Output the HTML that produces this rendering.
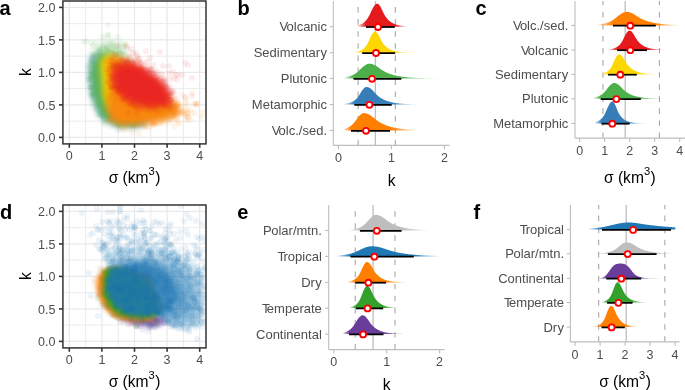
<!DOCTYPE html>
<html><head><meta charset="utf-8"><style>
html,body{margin:0;padding:0;background:#fff;width:685px;height:390px;overflow:hidden}
svg{display:block}
text{font-family:"Liberation Sans",sans-serif}
</style></head><body>
<div style="will-change:transform;width:685px;height:390px"><svg width="685" height="390" viewBox="0 0 685 390" font-family="Liberation Sans, sans-serif">
<defs><clipPath id="clip0"><rect x="62.9" y="1.0" width="143.1" height="142.9"/></clipPath><filter id="bl1" x="-30%" y="-30%" width="160%" height="160%"><feGaussianBlur stdDeviation="3"/></filter><filter id="bl2" x="-30%" y="-30%" width="160%" height="160%"><feGaussianBlur stdDeviation="4.5"/></filter><filter id="bl3" x="-30%" y="-30%" width="160%" height="160%"><feGaussianBlur stdDeviation="3"/></filter><filter id="bl4" x="-30%" y="-30%" width="160%" height="160%"><feGaussianBlur stdDeviation="3"/></filter><filter id="bl5" x="-30%" y="-30%" width="160%" height="160%"><feGaussianBlur stdDeviation="3"/></filter><filter id="bl6" x="-30%" y="-30%" width="160%" height="160%"><feGaussianBlur stdDeviation="3"/></filter><clipPath id="clip204"><rect x="62.9" y="205.0" width="143.1" height="142.89999999999998"/></clipPath><filter id="bl8" x="-30%" y="-30%" width="160%" height="160%"><feGaussianBlur stdDeviation="3"/></filter><filter id="bl9" x="-30%" y="-30%" width="160%" height="160%"><feGaussianBlur stdDeviation="2.5"/></filter><filter id="bl10" x="-30%" y="-30%" width="160%" height="160%"><feGaussianBlur stdDeviation="2.0"/></filter><filter id="bl11" x="-30%" y="-30%" width="160%" height="160%"><feGaussianBlur stdDeviation="2.5"/></filter><filter id="bl12" x="-30%" y="-30%" width="160%" height="160%"><feGaussianBlur stdDeviation="1.5"/></filter><linearGradient id="g13" gradientUnits="userSpaceOnUse" x1="353.40" y1="0" x2="411.00" y2="0"><stop offset="0.0000" stop-color="#e41a1c" stop-opacity="0.000"/><stop offset="0.0167" stop-color="#e41a1c" stop-opacity="0.000"/><stop offset="0.0335" stop-color="#e41a1c" stop-opacity="0.000"/><stop offset="0.0502" stop-color="#e41a1c" stop-opacity="0.000"/><stop offset="0.0669" stop-color="#e41a1c" stop-opacity="0.000"/><stop offset="0.0837" stop-color="#e41a1c" stop-opacity="0.153"/><stop offset="0.1004" stop-color="#e41a1c" stop-opacity="0.284"/><stop offset="0.1172" stop-color="#e41a1c" stop-opacity="0.401"/><stop offset="0.1339" stop-color="#e41a1c" stop-opacity="0.511"/><stop offset="0.1506" stop-color="#e41a1c" stop-opacity="0.614"/><stop offset="0.1674" stop-color="#e41a1c" stop-opacity="0.714"/><stop offset="0.1841" stop-color="#e41a1c" stop-opacity="0.810"/><stop offset="0.2008" stop-color="#e41a1c" stop-opacity="0.903"/><stop offset="0.2176" stop-color="#e41a1c" stop-opacity="0.994"/><stop offset="0.2343" stop-color="#e41a1c" stop-opacity="1.000"/><stop offset="0.2510" stop-color="#e41a1c" stop-opacity="1.000"/><stop offset="0.2678" stop-color="#e41a1c" stop-opacity="1.000"/><stop offset="0.2845" stop-color="#e41a1c" stop-opacity="1.000"/><stop offset="0.3013" stop-color="#e41a1c" stop-opacity="1.000"/><stop offset="0.3180" stop-color="#e41a1c" stop-opacity="1.000"/><stop offset="0.3389" stop-color="#e41a1c" stop-opacity="1.000"/><stop offset="0.3556" stop-color="#e41a1c" stop-opacity="1.000"/><stop offset="0.3724" stop-color="#e41a1c" stop-opacity="1.000"/><stop offset="0.3891" stop-color="#e41a1c" stop-opacity="1.000"/><stop offset="0.4059" stop-color="#e41a1c" stop-opacity="1.000"/><stop offset="0.4226" stop-color="#e41a1c" stop-opacity="1.000"/><stop offset="0.4393" stop-color="#e41a1c" stop-opacity="1.000"/><stop offset="0.4561" stop-color="#e41a1c" stop-opacity="1.000"/><stop offset="0.4728" stop-color="#e41a1c" stop-opacity="1.000"/><stop offset="0.4895" stop-color="#e41a1c" stop-opacity="1.000"/><stop offset="0.5063" stop-color="#e41a1c" stop-opacity="1.000"/><stop offset="0.5230" stop-color="#e41a1c" stop-opacity="1.000"/><stop offset="0.5397" stop-color="#e41a1c" stop-opacity="1.000"/><stop offset="0.5565" stop-color="#e41a1c" stop-opacity="1.000"/><stop offset="0.5732" stop-color="#e41a1c" stop-opacity="1.000"/><stop offset="0.5900" stop-color="#e41a1c" stop-opacity="1.000"/><stop offset="0.6067" stop-color="#e41a1c" stop-opacity="1.000"/><stop offset="0.6234" stop-color="#e41a1c" stop-opacity="1.000"/><stop offset="0.6402" stop-color="#e41a1c" stop-opacity="1.000"/><stop offset="0.6569" stop-color="#e41a1c" stop-opacity="1.000"/><stop offset="0.6778" stop-color="#e41a1c" stop-opacity="1.000"/><stop offset="0.6946" stop-color="#e41a1c" stop-opacity="1.000"/><stop offset="0.7113" stop-color="#e41a1c" stop-opacity="1.000"/><stop offset="0.7280" stop-color="#e41a1c" stop-opacity="0.965"/><stop offset="0.7448" stop-color="#e41a1c" stop-opacity="0.900"/><stop offset="0.7615" stop-color="#e41a1c" stop-opacity="0.835"/><stop offset="0.7782" stop-color="#e41a1c" stop-opacity="0.768"/><stop offset="0.7950" stop-color="#e41a1c" stop-opacity="0.700"/><stop offset="0.8117" stop-color="#e41a1c" stop-opacity="0.630"/><stop offset="0.8285" stop-color="#e41a1c" stop-opacity="0.558"/><stop offset="0.8452" stop-color="#e41a1c" stop-opacity="0.483"/><stop offset="0.8619" stop-color="#e41a1c" stop-opacity="0.406"/><stop offset="0.8787" stop-color="#e41a1c" stop-opacity="0.325"/><stop offset="0.8954" stop-color="#e41a1c" stop-opacity="0.238"/><stop offset="0.9121" stop-color="#e41a1c" stop-opacity="0.142"/><stop offset="0.9289" stop-color="#e41a1c" stop-opacity="0.021"/><stop offset="0.9456" stop-color="#e41a1c" stop-opacity="0.000"/><stop offset="0.9623" stop-color="#e41a1c" stop-opacity="0.000"/><stop offset="0.9791" stop-color="#e41a1c" stop-opacity="0.000"/><stop offset="1.0000" stop-color="#e41a1c" stop-opacity="0.000"/></linearGradient><linearGradient id="g14" gradientUnits="userSpaceOnUse" x1="349.90" y1="0" x2="425.70" y2="0"><stop offset="0.0000" stop-color="#ffd700" stop-opacity="0.000"/><stop offset="0.0167" stop-color="#ffd700" stop-opacity="0.000"/><stop offset="0.0335" stop-color="#ffd700" stop-opacity="0.000"/><stop offset="0.0502" stop-color="#ffd700" stop-opacity="0.000"/><stop offset="0.0669" stop-color="#ffd700" stop-opacity="0.195"/><stop offset="0.0837" stop-color="#ffd700" stop-opacity="0.364"/><stop offset="0.1004" stop-color="#ffd700" stop-opacity="0.514"/><stop offset="0.1172" stop-color="#ffd700" stop-opacity="0.654"/><stop offset="0.1339" stop-color="#ffd700" stop-opacity="0.787"/><stop offset="0.1506" stop-color="#ffd700" stop-opacity="0.914"/><stop offset="0.1674" stop-color="#ffd700" stop-opacity="1.000"/><stop offset="0.1841" stop-color="#ffd700" stop-opacity="1.000"/><stop offset="0.2008" stop-color="#ffd700" stop-opacity="1.000"/><stop offset="0.2176" stop-color="#ffd700" stop-opacity="1.000"/><stop offset="0.2343" stop-color="#ffd700" stop-opacity="1.000"/><stop offset="0.2510" stop-color="#ffd700" stop-opacity="1.000"/><stop offset="0.2678" stop-color="#ffd700" stop-opacity="1.000"/><stop offset="0.2845" stop-color="#ffd700" stop-opacity="1.000"/><stop offset="0.3013" stop-color="#ffd700" stop-opacity="1.000"/><stop offset="0.3180" stop-color="#ffd700" stop-opacity="1.000"/><stop offset="0.3389" stop-color="#ffd700" stop-opacity="1.000"/><stop offset="0.3556" stop-color="#ffd700" stop-opacity="1.000"/><stop offset="0.3724" stop-color="#ffd700" stop-opacity="1.000"/><stop offset="0.3891" stop-color="#ffd700" stop-opacity="1.000"/><stop offset="0.4059" stop-color="#ffd700" stop-opacity="1.000"/><stop offset="0.4226" stop-color="#ffd700" stop-opacity="1.000"/><stop offset="0.4393" stop-color="#ffd700" stop-opacity="1.000"/><stop offset="0.4561" stop-color="#ffd700" stop-opacity="1.000"/><stop offset="0.4728" stop-color="#ffd700" stop-opacity="1.000"/><stop offset="0.4895" stop-color="#ffd700" stop-opacity="1.000"/><stop offset="0.5063" stop-color="#ffd700" stop-opacity="1.000"/><stop offset="0.5230" stop-color="#ffd700" stop-opacity="1.000"/><stop offset="0.5397" stop-color="#ffd700" stop-opacity="1.000"/><stop offset="0.5565" stop-color="#ffd700" stop-opacity="1.000"/><stop offset="0.5732" stop-color="#ffd700" stop-opacity="1.000"/><stop offset="0.5900" stop-color="#ffd700" stop-opacity="1.000"/><stop offset="0.6067" stop-color="#ffd700" stop-opacity="0.979"/><stop offset="0.6234" stop-color="#ffd700" stop-opacity="0.940"/><stop offset="0.6402" stop-color="#ffd700" stop-opacity="0.901"/><stop offset="0.6569" stop-color="#ffd700" stop-opacity="0.862"/><stop offset="0.6778" stop-color="#ffd700" stop-opacity="0.812"/><stop offset="0.6946" stop-color="#ffd700" stop-opacity="0.771"/><stop offset="0.7113" stop-color="#ffd700" stop-opacity="0.730"/><stop offset="0.7280" stop-color="#ffd700" stop-opacity="0.688"/><stop offset="0.7448" stop-color="#ffd700" stop-opacity="0.646"/><stop offset="0.7615" stop-color="#ffd700" stop-opacity="0.603"/><stop offset="0.7782" stop-color="#ffd700" stop-opacity="0.559"/><stop offset="0.7950" stop-color="#ffd700" stop-opacity="0.514"/><stop offset="0.8117" stop-color="#ffd700" stop-opacity="0.469"/><stop offset="0.8285" stop-color="#ffd700" stop-opacity="0.422"/><stop offset="0.8452" stop-color="#ffd700" stop-opacity="0.373"/><stop offset="0.8619" stop-color="#ffd700" stop-opacity="0.324"/><stop offset="0.8787" stop-color="#ffd700" stop-opacity="0.272"/><stop offset="0.8954" stop-color="#ffd700" stop-opacity="0.217"/><stop offset="0.9121" stop-color="#ffd700" stop-opacity="0.159"/><stop offset="0.9289" stop-color="#ffd700" stop-opacity="0.095"/><stop offset="0.9456" stop-color="#ffd700" stop-opacity="0.014"/><stop offset="0.9623" stop-color="#ffd700" stop-opacity="0.000"/><stop offset="0.9791" stop-color="#ffd700" stop-opacity="0.000"/><stop offset="1.0000" stop-color="#ffd700" stop-opacity="0.000"/></linearGradient><linearGradient id="g15" gradientUnits="userSpaceOnUse" x1="340.20" y1="0" x2="443.00" y2="0"><stop offset="0.0000" stop-color="#4daf4a" stop-opacity="0.000"/><stop offset="0.0167" stop-color="#4daf4a" stop-opacity="0.000"/><stop offset="0.0335" stop-color="#4daf4a" stop-opacity="0.000"/><stop offset="0.0502" stop-color="#4daf4a" stop-opacity="0.189"/><stop offset="0.0669" stop-color="#4daf4a" stop-opacity="0.392"/><stop offset="0.0837" stop-color="#4daf4a" stop-opacity="0.570"/><stop offset="0.1004" stop-color="#4daf4a" stop-opacity="0.734"/><stop offset="0.1172" stop-color="#4daf4a" stop-opacity="0.890"/><stop offset="0.1339" stop-color="#4daf4a" stop-opacity="1.000"/><stop offset="0.1506" stop-color="#4daf4a" stop-opacity="1.000"/><stop offset="0.1674" stop-color="#4daf4a" stop-opacity="1.000"/><stop offset="0.1841" stop-color="#4daf4a" stop-opacity="1.000"/><stop offset="0.2008" stop-color="#4daf4a" stop-opacity="1.000"/><stop offset="0.2176" stop-color="#4daf4a" stop-opacity="1.000"/><stop offset="0.2343" stop-color="#4daf4a" stop-opacity="1.000"/><stop offset="0.2510" stop-color="#4daf4a" stop-opacity="1.000"/><stop offset="0.2678" stop-color="#4daf4a" stop-opacity="1.000"/><stop offset="0.2845" stop-color="#4daf4a" stop-opacity="1.000"/><stop offset="0.3013" stop-color="#4daf4a" stop-opacity="1.000"/><stop offset="0.3180" stop-color="#4daf4a" stop-opacity="1.000"/><stop offset="0.3389" stop-color="#4daf4a" stop-opacity="1.000"/><stop offset="0.3556" stop-color="#4daf4a" stop-opacity="1.000"/><stop offset="0.3724" stop-color="#4daf4a" stop-opacity="1.000"/><stop offset="0.3891" stop-color="#4daf4a" stop-opacity="1.000"/><stop offset="0.4059" stop-color="#4daf4a" stop-opacity="1.000"/><stop offset="0.4226" stop-color="#4daf4a" stop-opacity="1.000"/><stop offset="0.4393" stop-color="#4daf4a" stop-opacity="1.000"/><stop offset="0.4561" stop-color="#4daf4a" stop-opacity="1.000"/><stop offset="0.4728" stop-color="#4daf4a" stop-opacity="1.000"/><stop offset="0.4895" stop-color="#4daf4a" stop-opacity="1.000"/><stop offset="0.5063" stop-color="#4daf4a" stop-opacity="1.000"/><stop offset="0.5230" stop-color="#4daf4a" stop-opacity="1.000"/><stop offset="0.5397" stop-color="#4daf4a" stop-opacity="1.000"/><stop offset="0.5565" stop-color="#4daf4a" stop-opacity="1.000"/><stop offset="0.5732" stop-color="#4daf4a" stop-opacity="1.000"/><stop offset="0.5900" stop-color="#4daf4a" stop-opacity="1.000"/><stop offset="0.6067" stop-color="#4daf4a" stop-opacity="0.973"/><stop offset="0.6234" stop-color="#4daf4a" stop-opacity="0.936"/><stop offset="0.6402" stop-color="#4daf4a" stop-opacity="0.899"/><stop offset="0.6569" stop-color="#4daf4a" stop-opacity="0.861"/><stop offset="0.6778" stop-color="#4daf4a" stop-opacity="0.813"/><stop offset="0.6946" stop-color="#4daf4a" stop-opacity="0.775"/><stop offset="0.7113" stop-color="#4daf4a" stop-opacity="0.736"/><stop offset="0.7280" stop-color="#4daf4a" stop-opacity="0.696"/><stop offset="0.7448" stop-color="#4daf4a" stop-opacity="0.656"/><stop offset="0.7615" stop-color="#4daf4a" stop-opacity="0.615"/><stop offset="0.7782" stop-color="#4daf4a" stop-opacity="0.573"/><stop offset="0.7950" stop-color="#4daf4a" stop-opacity="0.531"/><stop offset="0.8117" stop-color="#4daf4a" stop-opacity="0.487"/><stop offset="0.8285" stop-color="#4daf4a" stop-opacity="0.443"/><stop offset="0.8452" stop-color="#4daf4a" stop-opacity="0.398"/><stop offset="0.8619" stop-color="#4daf4a" stop-opacity="0.351"/><stop offset="0.8787" stop-color="#4daf4a" stop-opacity="0.303"/><stop offset="0.8954" stop-color="#4daf4a" stop-opacity="0.253"/><stop offset="0.9121" stop-color="#4daf4a" stop-opacity="0.200"/><stop offset="0.9289" stop-color="#4daf4a" stop-opacity="0.143"/><stop offset="0.9456" stop-color="#4daf4a" stop-opacity="0.080"/><stop offset="0.9623" stop-color="#4daf4a" stop-opacity="0.000"/><stop offset="0.9791" stop-color="#4daf4a" stop-opacity="0.000"/><stop offset="1.0000" stop-color="#4daf4a" stop-opacity="0.000"/></linearGradient><linearGradient id="g16" gradientUnits="userSpaceOnUse" x1="339.40" y1="0" x2="422.90" y2="0"><stop offset="0.0000" stop-color="#377eb8" stop-opacity="0.000"/><stop offset="0.0167" stop-color="#377eb8" stop-opacity="0.000"/><stop offset="0.0335" stop-color="#377eb8" stop-opacity="0.000"/><stop offset="0.0502" stop-color="#377eb8" stop-opacity="0.040"/><stop offset="0.0669" stop-color="#377eb8" stop-opacity="0.214"/><stop offset="0.0837" stop-color="#377eb8" stop-opacity="0.355"/><stop offset="0.1004" stop-color="#377eb8" stop-opacity="0.483"/><stop offset="0.1172" stop-color="#377eb8" stop-opacity="0.602"/><stop offset="0.1339" stop-color="#377eb8" stop-opacity="0.716"/><stop offset="0.1506" stop-color="#377eb8" stop-opacity="0.826"/><stop offset="0.1674" stop-color="#377eb8" stop-opacity="0.932"/><stop offset="0.1841" stop-color="#377eb8" stop-opacity="1.000"/><stop offset="0.2008" stop-color="#377eb8" stop-opacity="1.000"/><stop offset="0.2176" stop-color="#377eb8" stop-opacity="1.000"/><stop offset="0.2343" stop-color="#377eb8" stop-opacity="1.000"/><stop offset="0.2510" stop-color="#377eb8" stop-opacity="1.000"/><stop offset="0.2678" stop-color="#377eb8" stop-opacity="1.000"/><stop offset="0.2845" stop-color="#377eb8" stop-opacity="1.000"/><stop offset="0.3013" stop-color="#377eb8" stop-opacity="1.000"/><stop offset="0.3180" stop-color="#377eb8" stop-opacity="1.000"/><stop offset="0.3389" stop-color="#377eb8" stop-opacity="1.000"/><stop offset="0.3556" stop-color="#377eb8" stop-opacity="1.000"/><stop offset="0.3724" stop-color="#377eb8" stop-opacity="1.000"/><stop offset="0.3891" stop-color="#377eb8" stop-opacity="1.000"/><stop offset="0.4059" stop-color="#377eb8" stop-opacity="1.000"/><stop offset="0.4226" stop-color="#377eb8" stop-opacity="1.000"/><stop offset="0.4393" stop-color="#377eb8" stop-opacity="1.000"/><stop offset="0.4561" stop-color="#377eb8" stop-opacity="1.000"/><stop offset="0.4728" stop-color="#377eb8" stop-opacity="1.000"/><stop offset="0.4895" stop-color="#377eb8" stop-opacity="1.000"/><stop offset="0.5063" stop-color="#377eb8" stop-opacity="1.000"/><stop offset="0.5230" stop-color="#377eb8" stop-opacity="1.000"/><stop offset="0.5397" stop-color="#377eb8" stop-opacity="1.000"/><stop offset="0.5565" stop-color="#377eb8" stop-opacity="1.000"/><stop offset="0.5732" stop-color="#377eb8" stop-opacity="1.000"/><stop offset="0.5900" stop-color="#377eb8" stop-opacity="1.000"/><stop offset="0.6067" stop-color="#377eb8" stop-opacity="1.000"/><stop offset="0.6234" stop-color="#377eb8" stop-opacity="1.000"/><stop offset="0.6402" stop-color="#377eb8" stop-opacity="0.966"/><stop offset="0.6569" stop-color="#377eb8" stop-opacity="0.924"/><stop offset="0.6778" stop-color="#377eb8" stop-opacity="0.871"/><stop offset="0.6946" stop-color="#377eb8" stop-opacity="0.829"/><stop offset="0.7113" stop-color="#377eb8" stop-opacity="0.785"/><stop offset="0.7280" stop-color="#377eb8" stop-opacity="0.741"/><stop offset="0.7448" stop-color="#377eb8" stop-opacity="0.697"/><stop offset="0.7615" stop-color="#377eb8" stop-opacity="0.651"/><stop offset="0.7782" stop-color="#377eb8" stop-opacity="0.605"/><stop offset="0.7950" stop-color="#377eb8" stop-opacity="0.558"/><stop offset="0.8117" stop-color="#377eb8" stop-opacity="0.510"/><stop offset="0.8285" stop-color="#377eb8" stop-opacity="0.461"/><stop offset="0.8452" stop-color="#377eb8" stop-opacity="0.410"/><stop offset="0.8619" stop-color="#377eb8" stop-opacity="0.358"/><stop offset="0.8787" stop-color="#377eb8" stop-opacity="0.304"/><stop offset="0.8954" stop-color="#377eb8" stop-opacity="0.247"/><stop offset="0.9121" stop-color="#377eb8" stop-opacity="0.187"/><stop offset="0.9289" stop-color="#377eb8" stop-opacity="0.121"/><stop offset="0.9456" stop-color="#377eb8" stop-opacity="0.044"/><stop offset="0.9623" stop-color="#377eb8" stop-opacity="0.000"/><stop offset="0.9791" stop-color="#377eb8" stop-opacity="0.000"/><stop offset="1.0000" stop-color="#377eb8" stop-opacity="0.000"/></linearGradient><linearGradient id="g17" gradientUnits="userSpaceOnUse" x1="339.40" y1="0" x2="421.30" y2="0"><stop offset="0.0000" stop-color="#ff7f00" stop-opacity="0.000"/><stop offset="0.0167" stop-color="#ff7f00" stop-opacity="0.000"/><stop offset="0.0335" stop-color="#ff7f00" stop-opacity="0.000"/><stop offset="0.0502" stop-color="#ff7f00" stop-opacity="0.034"/><stop offset="0.0669" stop-color="#ff7f00" stop-opacity="0.271"/><stop offset="0.0837" stop-color="#ff7f00" stop-opacity="0.457"/><stop offset="0.1004" stop-color="#ff7f00" stop-opacity="0.625"/><stop offset="0.1172" stop-color="#ff7f00" stop-opacity="0.783"/><stop offset="0.1339" stop-color="#ff7f00" stop-opacity="0.933"/><stop offset="0.1506" stop-color="#ff7f00" stop-opacity="1.000"/><stop offset="0.1674" stop-color="#ff7f00" stop-opacity="1.000"/><stop offset="0.1841" stop-color="#ff7f00" stop-opacity="1.000"/><stop offset="0.2008" stop-color="#ff7f00" stop-opacity="1.000"/><stop offset="0.2176" stop-color="#ff7f00" stop-opacity="1.000"/><stop offset="0.2343" stop-color="#ff7f00" stop-opacity="1.000"/><stop offset="0.2510" stop-color="#ff7f00" stop-opacity="1.000"/><stop offset="0.2678" stop-color="#ff7f00" stop-opacity="1.000"/><stop offset="0.2845" stop-color="#ff7f00" stop-opacity="1.000"/><stop offset="0.3013" stop-color="#ff7f00" stop-opacity="1.000"/><stop offset="0.3180" stop-color="#ff7f00" stop-opacity="1.000"/><stop offset="0.3389" stop-color="#ff7f00" stop-opacity="1.000"/><stop offset="0.3556" stop-color="#ff7f00" stop-opacity="1.000"/><stop offset="0.3724" stop-color="#ff7f00" stop-opacity="1.000"/><stop offset="0.3891" stop-color="#ff7f00" stop-opacity="1.000"/><stop offset="0.4059" stop-color="#ff7f00" stop-opacity="1.000"/><stop offset="0.4226" stop-color="#ff7f00" stop-opacity="1.000"/><stop offset="0.4393" stop-color="#ff7f00" stop-opacity="1.000"/><stop offset="0.4561" stop-color="#ff7f00" stop-opacity="1.000"/><stop offset="0.4728" stop-color="#ff7f00" stop-opacity="1.000"/><stop offset="0.4895" stop-color="#ff7f00" stop-opacity="1.000"/><stop offset="0.5063" stop-color="#ff7f00" stop-opacity="1.000"/><stop offset="0.5230" stop-color="#ff7f00" stop-opacity="1.000"/><stop offset="0.5397" stop-color="#ff7f00" stop-opacity="1.000"/><stop offset="0.5565" stop-color="#ff7f00" stop-opacity="1.000"/><stop offset="0.5732" stop-color="#ff7f00" stop-opacity="1.000"/><stop offset="0.5900" stop-color="#ff7f00" stop-opacity="1.000"/><stop offset="0.6067" stop-color="#ff7f00" stop-opacity="1.000"/><stop offset="0.6234" stop-color="#ff7f00" stop-opacity="0.987"/><stop offset="0.6402" stop-color="#ff7f00" stop-opacity="0.946"/><stop offset="0.6569" stop-color="#ff7f00" stop-opacity="0.905"/><stop offset="0.6778" stop-color="#ff7f00" stop-opacity="0.853"/><stop offset="0.6946" stop-color="#ff7f00" stop-opacity="0.811"/><stop offset="0.7113" stop-color="#ff7f00" stop-opacity="0.769"/><stop offset="0.7280" stop-color="#ff7f00" stop-opacity="0.725"/><stop offset="0.7448" stop-color="#ff7f00" stop-opacity="0.681"/><stop offset="0.7615" stop-color="#ff7f00" stop-opacity="0.637"/><stop offset="0.7782" stop-color="#ff7f00" stop-opacity="0.592"/><stop offset="0.7950" stop-color="#ff7f00" stop-opacity="0.545"/><stop offset="0.8117" stop-color="#ff7f00" stop-opacity="0.498"/><stop offset="0.8285" stop-color="#ff7f00" stop-opacity="0.450"/><stop offset="0.8452" stop-color="#ff7f00" stop-opacity="0.400"/><stop offset="0.8619" stop-color="#ff7f00" stop-opacity="0.348"/><stop offset="0.8787" stop-color="#ff7f00" stop-opacity="0.295"/><stop offset="0.8954" stop-color="#ff7f00" stop-opacity="0.239"/><stop offset="0.9121" stop-color="#ff7f00" stop-opacity="0.180"/><stop offset="0.9289" stop-color="#ff7f00" stop-opacity="0.115"/><stop offset="0.9456" stop-color="#ff7f00" stop-opacity="0.038"/><stop offset="0.9623" stop-color="#ff7f00" stop-opacity="0.000"/><stop offset="0.9791" stop-color="#ff7f00" stop-opacity="0.000"/><stop offset="1.0000" stop-color="#ff7f00" stop-opacity="0.000"/></linearGradient><linearGradient id="g18" gradientUnits="userSpaceOnUse" x1="593.40" y1="0" x2="682.40" y2="0"><stop offset="0.0000" stop-color="#ff7f00" stop-opacity="0.000"/><stop offset="0.0167" stop-color="#ff7f00" stop-opacity="0.000"/><stop offset="0.0335" stop-color="#ff7f00" stop-opacity="0.000"/><stop offset="0.0502" stop-color="#ff7f00" stop-opacity="0.061"/><stop offset="0.0669" stop-color="#ff7f00" stop-opacity="0.190"/><stop offset="0.0837" stop-color="#ff7f00" stop-opacity="0.299"/><stop offset="0.1004" stop-color="#ff7f00" stop-opacity="0.398"/><stop offset="0.1172" stop-color="#ff7f00" stop-opacity="0.492"/><stop offset="0.1339" stop-color="#ff7f00" stop-opacity="0.581"/><stop offset="0.1506" stop-color="#ff7f00" stop-opacity="0.667"/><stop offset="0.1674" stop-color="#ff7f00" stop-opacity="0.750"/><stop offset="0.1841" stop-color="#ff7f00" stop-opacity="0.831"/><stop offset="0.2008" stop-color="#ff7f00" stop-opacity="0.910"/><stop offset="0.2176" stop-color="#ff7f00" stop-opacity="0.988"/><stop offset="0.2343" stop-color="#ff7f00" stop-opacity="1.000"/><stop offset="0.2510" stop-color="#ff7f00" stop-opacity="1.000"/><stop offset="0.2678" stop-color="#ff7f00" stop-opacity="1.000"/><stop offset="0.2845" stop-color="#ff7f00" stop-opacity="1.000"/><stop offset="0.3013" stop-color="#ff7f00" stop-opacity="1.000"/><stop offset="0.3180" stop-color="#ff7f00" stop-opacity="1.000"/><stop offset="0.3389" stop-color="#ff7f00" stop-opacity="1.000"/><stop offset="0.3556" stop-color="#ff7f00" stop-opacity="1.000"/><stop offset="0.3724" stop-color="#ff7f00" stop-opacity="1.000"/><stop offset="0.3891" stop-color="#ff7f00" stop-opacity="1.000"/><stop offset="0.4059" stop-color="#ff7f00" stop-opacity="1.000"/><stop offset="0.4226" stop-color="#ff7f00" stop-opacity="1.000"/><stop offset="0.4393" stop-color="#ff7f00" stop-opacity="1.000"/><stop offset="0.4561" stop-color="#ff7f00" stop-opacity="1.000"/><stop offset="0.4728" stop-color="#ff7f00" stop-opacity="1.000"/><stop offset="0.4895" stop-color="#ff7f00" stop-opacity="1.000"/><stop offset="0.5063" stop-color="#ff7f00" stop-opacity="1.000"/><stop offset="0.5230" stop-color="#ff7f00" stop-opacity="1.000"/><stop offset="0.5397" stop-color="#ff7f00" stop-opacity="1.000"/><stop offset="0.5565" stop-color="#ff7f00" stop-opacity="1.000"/><stop offset="0.5732" stop-color="#ff7f00" stop-opacity="1.000"/><stop offset="0.5900" stop-color="#ff7f00" stop-opacity="1.000"/><stop offset="0.6067" stop-color="#ff7f00" stop-opacity="1.000"/><stop offset="0.6234" stop-color="#ff7f00" stop-opacity="1.000"/><stop offset="0.6402" stop-color="#ff7f00" stop-opacity="1.000"/><stop offset="0.6569" stop-color="#ff7f00" stop-opacity="1.000"/><stop offset="0.6778" stop-color="#ff7f00" stop-opacity="1.000"/><stop offset="0.6946" stop-color="#ff7f00" stop-opacity="1.000"/><stop offset="0.7113" stop-color="#ff7f00" stop-opacity="0.968"/><stop offset="0.7280" stop-color="#ff7f00" stop-opacity="0.914"/><stop offset="0.7448" stop-color="#ff7f00" stop-opacity="0.860"/><stop offset="0.7615" stop-color="#ff7f00" stop-opacity="0.805"/><stop offset="0.7782" stop-color="#ff7f00" stop-opacity="0.749"/><stop offset="0.7950" stop-color="#ff7f00" stop-opacity="0.691"/><stop offset="0.8117" stop-color="#ff7f00" stop-opacity="0.633"/><stop offset="0.8285" stop-color="#ff7f00" stop-opacity="0.573"/><stop offset="0.8452" stop-color="#ff7f00" stop-opacity="0.512"/><stop offset="0.8619" stop-color="#ff7f00" stop-opacity="0.448"/><stop offset="0.8787" stop-color="#ff7f00" stop-opacity="0.383"/><stop offset="0.8954" stop-color="#ff7f00" stop-opacity="0.314"/><stop offset="0.9121" stop-color="#ff7f00" stop-opacity="0.241"/><stop offset="0.9289" stop-color="#ff7f00" stop-opacity="0.162"/><stop offset="0.9456" stop-color="#ff7f00" stop-opacity="0.072"/><stop offset="0.9623" stop-color="#ff7f00" stop-opacity="0.000"/><stop offset="0.9791" stop-color="#ff7f00" stop-opacity="0.000"/><stop offset="1.0000" stop-color="#ff7f00" stop-opacity="0.000"/></linearGradient><linearGradient id="g19" gradientUnits="userSpaceOnUse" x1="604.40" y1="0" x2="667.80" y2="0"><stop offset="0.0000" stop-color="#e41a1c" stop-opacity="0.000"/><stop offset="0.0167" stop-color="#e41a1c" stop-opacity="0.000"/><stop offset="0.0335" stop-color="#e41a1c" stop-opacity="0.000"/><stop offset="0.0502" stop-color="#e41a1c" stop-opacity="0.000"/><stop offset="0.0669" stop-color="#e41a1c" stop-opacity="0.057"/><stop offset="0.0837" stop-color="#e41a1c" stop-opacity="0.219"/><stop offset="0.1004" stop-color="#e41a1c" stop-opacity="0.353"/><stop offset="0.1172" stop-color="#e41a1c" stop-opacity="0.475"/><stop offset="0.1339" stop-color="#e41a1c" stop-opacity="0.589"/><stop offset="0.1506" stop-color="#e41a1c" stop-opacity="0.698"/><stop offset="0.1674" stop-color="#e41a1c" stop-opacity="0.803"/><stop offset="0.1841" stop-color="#e41a1c" stop-opacity="0.904"/><stop offset="0.2008" stop-color="#e41a1c" stop-opacity="1.000"/><stop offset="0.2176" stop-color="#e41a1c" stop-opacity="1.000"/><stop offset="0.2343" stop-color="#e41a1c" stop-opacity="1.000"/><stop offset="0.2510" stop-color="#e41a1c" stop-opacity="1.000"/><stop offset="0.2678" stop-color="#e41a1c" stop-opacity="1.000"/><stop offset="0.2845" stop-color="#e41a1c" stop-opacity="1.000"/><stop offset="0.3013" stop-color="#e41a1c" stop-opacity="1.000"/><stop offset="0.3180" stop-color="#e41a1c" stop-opacity="1.000"/><stop offset="0.3389" stop-color="#e41a1c" stop-opacity="1.000"/><stop offset="0.3556" stop-color="#e41a1c" stop-opacity="1.000"/><stop offset="0.3724" stop-color="#e41a1c" stop-opacity="1.000"/><stop offset="0.3891" stop-color="#e41a1c" stop-opacity="1.000"/><stop offset="0.4059" stop-color="#e41a1c" stop-opacity="1.000"/><stop offset="0.4226" stop-color="#e41a1c" stop-opacity="1.000"/><stop offset="0.4393" stop-color="#e41a1c" stop-opacity="1.000"/><stop offset="0.4561" stop-color="#e41a1c" stop-opacity="1.000"/><stop offset="0.4728" stop-color="#e41a1c" stop-opacity="1.000"/><stop offset="0.4895" stop-color="#e41a1c" stop-opacity="1.000"/><stop offset="0.5063" stop-color="#e41a1c" stop-opacity="1.000"/><stop offset="0.5230" stop-color="#e41a1c" stop-opacity="1.000"/><stop offset="0.5397" stop-color="#e41a1c" stop-opacity="1.000"/><stop offset="0.5565" stop-color="#e41a1c" stop-opacity="1.000"/><stop offset="0.5732" stop-color="#e41a1c" stop-opacity="1.000"/><stop offset="0.5900" stop-color="#e41a1c" stop-opacity="1.000"/><stop offset="0.6067" stop-color="#e41a1c" stop-opacity="1.000"/><stop offset="0.6234" stop-color="#e41a1c" stop-opacity="1.000"/><stop offset="0.6402" stop-color="#e41a1c" stop-opacity="1.000"/><stop offset="0.6569" stop-color="#e41a1c" stop-opacity="1.000"/><stop offset="0.6778" stop-color="#e41a1c" stop-opacity="0.982"/><stop offset="0.6946" stop-color="#e41a1c" stop-opacity="0.931"/><stop offset="0.7113" stop-color="#e41a1c" stop-opacity="0.879"/><stop offset="0.7280" stop-color="#e41a1c" stop-opacity="0.827"/><stop offset="0.7448" stop-color="#e41a1c" stop-opacity="0.773"/><stop offset="0.7615" stop-color="#e41a1c" stop-opacity="0.719"/><stop offset="0.7782" stop-color="#e41a1c" stop-opacity="0.663"/><stop offset="0.7950" stop-color="#e41a1c" stop-opacity="0.607"/><stop offset="0.8117" stop-color="#e41a1c" stop-opacity="0.549"/><stop offset="0.8285" stop-color="#e41a1c" stop-opacity="0.489"/><stop offset="0.8452" stop-color="#e41a1c" stop-opacity="0.428"/><stop offset="0.8619" stop-color="#e41a1c" stop-opacity="0.364"/><stop offset="0.8787" stop-color="#e41a1c" stop-opacity="0.298"/><stop offset="0.8954" stop-color="#e41a1c" stop-opacity="0.227"/><stop offset="0.9121" stop-color="#e41a1c" stop-opacity="0.150"/><stop offset="0.9289" stop-color="#e41a1c" stop-opacity="0.061"/><stop offset="0.9456" stop-color="#e41a1c" stop-opacity="0.000"/><stop offset="0.9623" stop-color="#e41a1c" stop-opacity="0.000"/><stop offset="0.9791" stop-color="#e41a1c" stop-opacity="0.000"/><stop offset="1.0000" stop-color="#e41a1c" stop-opacity="0.000"/></linearGradient><linearGradient id="g20" gradientUnits="userSpaceOnUse" x1="596.30" y1="0" x2="662.00" y2="0"><stop offset="0.0000" stop-color="#ffd700" stop-opacity="0.000"/><stop offset="0.0167" stop-color="#ffd700" stop-opacity="0.000"/><stop offset="0.0335" stop-color="#ffd700" stop-opacity="0.000"/><stop offset="0.0502" stop-color="#ffd700" stop-opacity="0.000"/><stop offset="0.0669" stop-color="#ffd700" stop-opacity="0.093"/><stop offset="0.0837" stop-color="#ffd700" stop-opacity="0.267"/><stop offset="0.1004" stop-color="#ffd700" stop-opacity="0.415"/><stop offset="0.1172" stop-color="#ffd700" stop-opacity="0.550"/><stop offset="0.1339" stop-color="#ffd700" stop-opacity="0.678"/><stop offset="0.1506" stop-color="#ffd700" stop-opacity="0.799"/><stop offset="0.1674" stop-color="#ffd700" stop-opacity="0.917"/><stop offset="0.1841" stop-color="#ffd700" stop-opacity="1.000"/><stop offset="0.2008" stop-color="#ffd700" stop-opacity="1.000"/><stop offset="0.2176" stop-color="#ffd700" stop-opacity="1.000"/><stop offset="0.2343" stop-color="#ffd700" stop-opacity="1.000"/><stop offset="0.2510" stop-color="#ffd700" stop-opacity="1.000"/><stop offset="0.2678" stop-color="#ffd700" stop-opacity="1.000"/><stop offset="0.2845" stop-color="#ffd700" stop-opacity="1.000"/><stop offset="0.3013" stop-color="#ffd700" stop-opacity="1.000"/><stop offset="0.3180" stop-color="#ffd700" stop-opacity="1.000"/><stop offset="0.3389" stop-color="#ffd700" stop-opacity="1.000"/><stop offset="0.3556" stop-color="#ffd700" stop-opacity="1.000"/><stop offset="0.3724" stop-color="#ffd700" stop-opacity="1.000"/><stop offset="0.3891" stop-color="#ffd700" stop-opacity="1.000"/><stop offset="0.4059" stop-color="#ffd700" stop-opacity="1.000"/><stop offset="0.4226" stop-color="#ffd700" stop-opacity="1.000"/><stop offset="0.4393" stop-color="#ffd700" stop-opacity="1.000"/><stop offset="0.4561" stop-color="#ffd700" stop-opacity="1.000"/><stop offset="0.4728" stop-color="#ffd700" stop-opacity="1.000"/><stop offset="0.4895" stop-color="#ffd700" stop-opacity="1.000"/><stop offset="0.5063" stop-color="#ffd700" stop-opacity="1.000"/><stop offset="0.5230" stop-color="#ffd700" stop-opacity="1.000"/><stop offset="0.5397" stop-color="#ffd700" stop-opacity="1.000"/><stop offset="0.5565" stop-color="#ffd700" stop-opacity="1.000"/><stop offset="0.5732" stop-color="#ffd700" stop-opacity="1.000"/><stop offset="0.5900" stop-color="#ffd700" stop-opacity="1.000"/><stop offset="0.6067" stop-color="#ffd700" stop-opacity="1.000"/><stop offset="0.6234" stop-color="#ffd700" stop-opacity="0.983"/><stop offset="0.6402" stop-color="#ffd700" stop-opacity="0.941"/><stop offset="0.6569" stop-color="#ffd700" stop-opacity="0.898"/><stop offset="0.6778" stop-color="#ffd700" stop-opacity="0.845"/><stop offset="0.6946" stop-color="#ffd700" stop-opacity="0.801"/><stop offset="0.7113" stop-color="#ffd700" stop-opacity="0.757"/><stop offset="0.7280" stop-color="#ffd700" stop-opacity="0.712"/><stop offset="0.7448" stop-color="#ffd700" stop-opacity="0.667"/><stop offset="0.7615" stop-color="#ffd700" stop-opacity="0.620"/><stop offset="0.7782" stop-color="#ffd700" stop-opacity="0.573"/><stop offset="0.7950" stop-color="#ffd700" stop-opacity="0.525"/><stop offset="0.8117" stop-color="#ffd700" stop-opacity="0.475"/><stop offset="0.8285" stop-color="#ffd700" stop-opacity="0.425"/><stop offset="0.8452" stop-color="#ffd700" stop-opacity="0.373"/><stop offset="0.8619" stop-color="#ffd700" stop-opacity="0.318"/><stop offset="0.8787" stop-color="#ffd700" stop-opacity="0.262"/><stop offset="0.8954" stop-color="#ffd700" stop-opacity="0.202"/><stop offset="0.9121" stop-color="#ffd700" stop-opacity="0.137"/><stop offset="0.9289" stop-color="#ffd700" stop-opacity="0.063"/><stop offset="0.9456" stop-color="#ffd700" stop-opacity="0.000"/><stop offset="0.9623" stop-color="#ffd700" stop-opacity="0.000"/><stop offset="0.9791" stop-color="#ffd700" stop-opacity="0.000"/><stop offset="1.0000" stop-color="#ffd700" stop-opacity="0.000"/></linearGradient><linearGradient id="g21" gradientUnits="userSpaceOnUse" x1="589.50" y1="0" x2="673.70" y2="0"><stop offset="0.0000" stop-color="#4daf4a" stop-opacity="0.000"/><stop offset="0.0167" stop-color="#4daf4a" stop-opacity="0.000"/><stop offset="0.0335" stop-color="#4daf4a" stop-opacity="0.000"/><stop offset="0.0502" stop-color="#4daf4a" stop-opacity="0.063"/><stop offset="0.0669" stop-color="#4daf4a" stop-opacity="0.306"/><stop offset="0.0837" stop-color="#4daf4a" stop-opacity="0.502"/><stop offset="0.1004" stop-color="#4daf4a" stop-opacity="0.681"/><stop offset="0.1172" stop-color="#4daf4a" stop-opacity="0.849"/><stop offset="0.1339" stop-color="#4daf4a" stop-opacity="1.000"/><stop offset="0.1506" stop-color="#4daf4a" stop-opacity="1.000"/><stop offset="0.1674" stop-color="#4daf4a" stop-opacity="1.000"/><stop offset="0.1841" stop-color="#4daf4a" stop-opacity="1.000"/><stop offset="0.2008" stop-color="#4daf4a" stop-opacity="1.000"/><stop offset="0.2176" stop-color="#4daf4a" stop-opacity="1.000"/><stop offset="0.2343" stop-color="#4daf4a" stop-opacity="1.000"/><stop offset="0.2510" stop-color="#4daf4a" stop-opacity="1.000"/><stop offset="0.2678" stop-color="#4daf4a" stop-opacity="1.000"/><stop offset="0.2845" stop-color="#4daf4a" stop-opacity="1.000"/><stop offset="0.3013" stop-color="#4daf4a" stop-opacity="1.000"/><stop offset="0.3180" stop-color="#4daf4a" stop-opacity="1.000"/><stop offset="0.3389" stop-color="#4daf4a" stop-opacity="1.000"/><stop offset="0.3556" stop-color="#4daf4a" stop-opacity="1.000"/><stop offset="0.3724" stop-color="#4daf4a" stop-opacity="1.000"/><stop offset="0.3891" stop-color="#4daf4a" stop-opacity="1.000"/><stop offset="0.4059" stop-color="#4daf4a" stop-opacity="1.000"/><stop offset="0.4226" stop-color="#4daf4a" stop-opacity="1.000"/><stop offset="0.4393" stop-color="#4daf4a" stop-opacity="1.000"/><stop offset="0.4561" stop-color="#4daf4a" stop-opacity="1.000"/><stop offset="0.4728" stop-color="#4daf4a" stop-opacity="1.000"/><stop offset="0.4895" stop-color="#4daf4a" stop-opacity="1.000"/><stop offset="0.5063" stop-color="#4daf4a" stop-opacity="1.000"/><stop offset="0.5230" stop-color="#4daf4a" stop-opacity="1.000"/><stop offset="0.5397" stop-color="#4daf4a" stop-opacity="1.000"/><stop offset="0.5565" stop-color="#4daf4a" stop-opacity="1.000"/><stop offset="0.5732" stop-color="#4daf4a" stop-opacity="1.000"/><stop offset="0.5900" stop-color="#4daf4a" stop-opacity="1.000"/><stop offset="0.6067" stop-color="#4daf4a" stop-opacity="1.000"/><stop offset="0.6234" stop-color="#4daf4a" stop-opacity="0.967"/><stop offset="0.6402" stop-color="#4daf4a" stop-opacity="0.927"/><stop offset="0.6569" stop-color="#4daf4a" stop-opacity="0.887"/><stop offset="0.6778" stop-color="#4daf4a" stop-opacity="0.837"/><stop offset="0.6946" stop-color="#4daf4a" stop-opacity="0.796"/><stop offset="0.7113" stop-color="#4daf4a" stop-opacity="0.754"/><stop offset="0.7280" stop-color="#4daf4a" stop-opacity="0.712"/><stop offset="0.7448" stop-color="#4daf4a" stop-opacity="0.669"/><stop offset="0.7615" stop-color="#4daf4a" stop-opacity="0.626"/><stop offset="0.7782" stop-color="#4daf4a" stop-opacity="0.581"/><stop offset="0.7950" stop-color="#4daf4a" stop-opacity="0.536"/><stop offset="0.8117" stop-color="#4daf4a" stop-opacity="0.490"/><stop offset="0.8285" stop-color="#4daf4a" stop-opacity="0.443"/><stop offset="0.8452" stop-color="#4daf4a" stop-opacity="0.394"/><stop offset="0.8619" stop-color="#4daf4a" stop-opacity="0.344"/><stop offset="0.8787" stop-color="#4daf4a" stop-opacity="0.293"/><stop offset="0.8954" stop-color="#4daf4a" stop-opacity="0.238"/><stop offset="0.9121" stop-color="#4daf4a" stop-opacity="0.180"/><stop offset="0.9289" stop-color="#4daf4a" stop-opacity="0.118"/><stop offset="0.9456" stop-color="#4daf4a" stop-opacity="0.044"/><stop offset="0.9623" stop-color="#4daf4a" stop-opacity="0.000"/><stop offset="0.9791" stop-color="#4daf4a" stop-opacity="0.000"/><stop offset="1.0000" stop-color="#4daf4a" stop-opacity="0.000"/></linearGradient><linearGradient id="g22" gradientUnits="userSpaceOnUse" x1="590.30" y1="0" x2="650.50" y2="0"><stop offset="0.0000" stop-color="#377eb8" stop-opacity="0.000"/><stop offset="0.0167" stop-color="#377eb8" stop-opacity="0.000"/><stop offset="0.0335" stop-color="#377eb8" stop-opacity="0.000"/><stop offset="0.0502" stop-color="#377eb8" stop-opacity="0.000"/><stop offset="0.0669" stop-color="#377eb8" stop-opacity="0.013"/><stop offset="0.0837" stop-color="#377eb8" stop-opacity="0.212"/><stop offset="0.1004" stop-color="#377eb8" stop-opacity="0.365"/><stop offset="0.1172" stop-color="#377eb8" stop-opacity="0.503"/><stop offset="0.1339" stop-color="#377eb8" stop-opacity="0.632"/><stop offset="0.1506" stop-color="#377eb8" stop-opacity="0.755"/><stop offset="0.1674" stop-color="#377eb8" stop-opacity="0.873"/><stop offset="0.1841" stop-color="#377eb8" stop-opacity="0.987"/><stop offset="0.2008" stop-color="#377eb8" stop-opacity="1.000"/><stop offset="0.2176" stop-color="#377eb8" stop-opacity="1.000"/><stop offset="0.2343" stop-color="#377eb8" stop-opacity="1.000"/><stop offset="0.2510" stop-color="#377eb8" stop-opacity="1.000"/><stop offset="0.2678" stop-color="#377eb8" stop-opacity="1.000"/><stop offset="0.2845" stop-color="#377eb8" stop-opacity="1.000"/><stop offset="0.3013" stop-color="#377eb8" stop-opacity="1.000"/><stop offset="0.3180" stop-color="#377eb8" stop-opacity="1.000"/><stop offset="0.3389" stop-color="#377eb8" stop-opacity="1.000"/><stop offset="0.3556" stop-color="#377eb8" stop-opacity="1.000"/><stop offset="0.3724" stop-color="#377eb8" stop-opacity="1.000"/><stop offset="0.3891" stop-color="#377eb8" stop-opacity="1.000"/><stop offset="0.4059" stop-color="#377eb8" stop-opacity="1.000"/><stop offset="0.4226" stop-color="#377eb8" stop-opacity="1.000"/><stop offset="0.4393" stop-color="#377eb8" stop-opacity="1.000"/><stop offset="0.4561" stop-color="#377eb8" stop-opacity="1.000"/><stop offset="0.4728" stop-color="#377eb8" stop-opacity="1.000"/><stop offset="0.4895" stop-color="#377eb8" stop-opacity="1.000"/><stop offset="0.5063" stop-color="#377eb8" stop-opacity="1.000"/><stop offset="0.5230" stop-color="#377eb8" stop-opacity="1.000"/><stop offset="0.5397" stop-color="#377eb8" stop-opacity="1.000"/><stop offset="0.5565" stop-color="#377eb8" stop-opacity="1.000"/><stop offset="0.5732" stop-color="#377eb8" stop-opacity="1.000"/><stop offset="0.5900" stop-color="#377eb8" stop-opacity="1.000"/><stop offset="0.6067" stop-color="#377eb8" stop-opacity="1.000"/><stop offset="0.6234" stop-color="#377eb8" stop-opacity="1.000"/><stop offset="0.6402" stop-color="#377eb8" stop-opacity="1.000"/><stop offset="0.6569" stop-color="#377eb8" stop-opacity="0.988"/><stop offset="0.6778" stop-color="#377eb8" stop-opacity="0.928"/><stop offset="0.6946" stop-color="#377eb8" stop-opacity="0.879"/><stop offset="0.7113" stop-color="#377eb8" stop-opacity="0.830"/><stop offset="0.7280" stop-color="#377eb8" stop-opacity="0.779"/><stop offset="0.7448" stop-color="#377eb8" stop-opacity="0.728"/><stop offset="0.7615" stop-color="#377eb8" stop-opacity="0.676"/><stop offset="0.7782" stop-color="#377eb8" stop-opacity="0.623"/><stop offset="0.7950" stop-color="#377eb8" stop-opacity="0.568"/><stop offset="0.8117" stop-color="#377eb8" stop-opacity="0.513"/><stop offset="0.8285" stop-color="#377eb8" stop-opacity="0.456"/><stop offset="0.8452" stop-color="#377eb8" stop-opacity="0.397"/><stop offset="0.8619" stop-color="#377eb8" stop-opacity="0.335"/><stop offset="0.8787" stop-color="#377eb8" stop-opacity="0.271"/><stop offset="0.8954" stop-color="#377eb8" stop-opacity="0.203"/><stop offset="0.9121" stop-color="#377eb8" stop-opacity="0.128"/><stop offset="0.9289" stop-color="#377eb8" stop-opacity="0.038"/><stop offset="0.9456" stop-color="#377eb8" stop-opacity="0.000"/><stop offset="0.9623" stop-color="#377eb8" stop-opacity="0.000"/><stop offset="0.9791" stop-color="#377eb8" stop-opacity="0.000"/><stop offset="1.0000" stop-color="#377eb8" stop-opacity="0.000"/></linearGradient><linearGradient id="g23" gradientUnits="userSpaceOnUse" x1="344.70" y1="0" x2="435.40" y2="0"><stop offset="0.0000" stop-color="#bebebe" stop-opacity="0.000"/><stop offset="0.0167" stop-color="#bebebe" stop-opacity="0.000"/><stop offset="0.0335" stop-color="#bebebe" stop-opacity="0.000"/><stop offset="0.0502" stop-color="#bebebe" stop-opacity="0.090"/><stop offset="0.0669" stop-color="#bebebe" stop-opacity="0.259"/><stop offset="0.0837" stop-color="#bebebe" stop-opacity="0.402"/><stop offset="0.1004" stop-color="#bebebe" stop-opacity="0.534"/><stop offset="0.1172" stop-color="#bebebe" stop-opacity="0.657"/><stop offset="0.1339" stop-color="#bebebe" stop-opacity="0.775"/><stop offset="0.1506" stop-color="#bebebe" stop-opacity="0.889"/><stop offset="0.1674" stop-color="#bebebe" stop-opacity="0.999"/><stop offset="0.1841" stop-color="#bebebe" stop-opacity="1.000"/><stop offset="0.2008" stop-color="#bebebe" stop-opacity="1.000"/><stop offset="0.2176" stop-color="#bebebe" stop-opacity="1.000"/><stop offset="0.2343" stop-color="#bebebe" stop-opacity="1.000"/><stop offset="0.2510" stop-color="#bebebe" stop-opacity="1.000"/><stop offset="0.2678" stop-color="#bebebe" stop-opacity="1.000"/><stop offset="0.2845" stop-color="#bebebe" stop-opacity="1.000"/><stop offset="0.3013" stop-color="#bebebe" stop-opacity="1.000"/><stop offset="0.3180" stop-color="#bebebe" stop-opacity="1.000"/><stop offset="0.3389" stop-color="#bebebe" stop-opacity="1.000"/><stop offset="0.3556" stop-color="#bebebe" stop-opacity="1.000"/><stop offset="0.3724" stop-color="#bebebe" stop-opacity="1.000"/><stop offset="0.3891" stop-color="#bebebe" stop-opacity="1.000"/><stop offset="0.4059" stop-color="#bebebe" stop-opacity="1.000"/><stop offset="0.4226" stop-color="#bebebe" stop-opacity="1.000"/><stop offset="0.4393" stop-color="#bebebe" stop-opacity="1.000"/><stop offset="0.4561" stop-color="#bebebe" stop-opacity="1.000"/><stop offset="0.4728" stop-color="#bebebe" stop-opacity="1.000"/><stop offset="0.4895" stop-color="#bebebe" stop-opacity="1.000"/><stop offset="0.5063" stop-color="#bebebe" stop-opacity="1.000"/><stop offset="0.5230" stop-color="#bebebe" stop-opacity="1.000"/><stop offset="0.5397" stop-color="#bebebe" stop-opacity="1.000"/><stop offset="0.5565" stop-color="#bebebe" stop-opacity="1.000"/><stop offset="0.5732" stop-color="#bebebe" stop-opacity="1.000"/><stop offset="0.5900" stop-color="#bebebe" stop-opacity="1.000"/><stop offset="0.6067" stop-color="#bebebe" stop-opacity="1.000"/><stop offset="0.6234" stop-color="#bebebe" stop-opacity="1.000"/><stop offset="0.6402" stop-color="#bebebe" stop-opacity="0.969"/><stop offset="0.6569" stop-color="#bebebe" stop-opacity="0.927"/><stop offset="0.6778" stop-color="#bebebe" stop-opacity="0.875"/><stop offset="0.6946" stop-color="#bebebe" stop-opacity="0.833"/><stop offset="0.7113" stop-color="#bebebe" stop-opacity="0.790"/><stop offset="0.7280" stop-color="#bebebe" stop-opacity="0.746"/><stop offset="0.7448" stop-color="#bebebe" stop-opacity="0.702"/><stop offset="0.7615" stop-color="#bebebe" stop-opacity="0.657"/><stop offset="0.7782" stop-color="#bebebe" stop-opacity="0.611"/><stop offset="0.7950" stop-color="#bebebe" stop-opacity="0.565"/><stop offset="0.8117" stop-color="#bebebe" stop-opacity="0.517"/><stop offset="0.8285" stop-color="#bebebe" stop-opacity="0.469"/><stop offset="0.8452" stop-color="#bebebe" stop-opacity="0.419"/><stop offset="0.8619" stop-color="#bebebe" stop-opacity="0.367"/><stop offset="0.8787" stop-color="#bebebe" stop-opacity="0.314"/><stop offset="0.8954" stop-color="#bebebe" stop-opacity="0.258"/><stop offset="0.9121" stop-color="#bebebe" stop-opacity="0.199"/><stop offset="0.9289" stop-color="#bebebe" stop-opacity="0.136"/><stop offset="0.9456" stop-color="#bebebe" stop-opacity="0.063"/><stop offset="0.9623" stop-color="#bebebe" stop-opacity="0.000"/><stop offset="0.9791" stop-color="#bebebe" stop-opacity="0.000"/><stop offset="1.0000" stop-color="#bebebe" stop-opacity="0.000"/></linearGradient><linearGradient id="g24" gradientUnits="userSpaceOnUse" x1="332.80" y1="0" x2="444.00" y2="0"><stop offset="0.0000" stop-color="#1f78b4" stop-opacity="0.000"/><stop offset="0.0167" stop-color="#1f78b4" stop-opacity="0.000"/><stop offset="0.0335" stop-color="#1f78b4" stop-opacity="0.000"/><stop offset="0.0502" stop-color="#1f78b4" stop-opacity="0.179"/><stop offset="0.0669" stop-color="#1f78b4" stop-opacity="0.333"/><stop offset="0.0837" stop-color="#1f78b4" stop-opacity="0.471"/><stop offset="0.1004" stop-color="#1f78b4" stop-opacity="0.599"/><stop offset="0.1172" stop-color="#1f78b4" stop-opacity="0.720"/><stop offset="0.1339" stop-color="#1f78b4" stop-opacity="0.837"/><stop offset="0.1506" stop-color="#1f78b4" stop-opacity="0.950"/><stop offset="0.1674" stop-color="#1f78b4" stop-opacity="1.000"/><stop offset="0.1841" stop-color="#1f78b4" stop-opacity="1.000"/><stop offset="0.2008" stop-color="#1f78b4" stop-opacity="1.000"/><stop offset="0.2176" stop-color="#1f78b4" stop-opacity="1.000"/><stop offset="0.2343" stop-color="#1f78b4" stop-opacity="1.000"/><stop offset="0.2510" stop-color="#1f78b4" stop-opacity="1.000"/><stop offset="0.2678" stop-color="#1f78b4" stop-opacity="1.000"/><stop offset="0.2845" stop-color="#1f78b4" stop-opacity="1.000"/><stop offset="0.3013" stop-color="#1f78b4" stop-opacity="1.000"/><stop offset="0.3180" stop-color="#1f78b4" stop-opacity="1.000"/><stop offset="0.3389" stop-color="#1f78b4" stop-opacity="1.000"/><stop offset="0.3556" stop-color="#1f78b4" stop-opacity="1.000"/><stop offset="0.3724" stop-color="#1f78b4" stop-opacity="1.000"/><stop offset="0.3891" stop-color="#1f78b4" stop-opacity="1.000"/><stop offset="0.4059" stop-color="#1f78b4" stop-opacity="1.000"/><stop offset="0.4226" stop-color="#1f78b4" stop-opacity="1.000"/><stop offset="0.4393" stop-color="#1f78b4" stop-opacity="1.000"/><stop offset="0.4561" stop-color="#1f78b4" stop-opacity="1.000"/><stop offset="0.4728" stop-color="#1f78b4" stop-opacity="1.000"/><stop offset="0.4895" stop-color="#1f78b4" stop-opacity="1.000"/><stop offset="0.5063" stop-color="#1f78b4" stop-opacity="1.000"/><stop offset="0.5230" stop-color="#1f78b4" stop-opacity="1.000"/><stop offset="0.5397" stop-color="#1f78b4" stop-opacity="1.000"/><stop offset="0.5565" stop-color="#1f78b4" stop-opacity="1.000"/><stop offset="0.5732" stop-color="#1f78b4" stop-opacity="1.000"/><stop offset="0.5900" stop-color="#1f78b4" stop-opacity="1.000"/><stop offset="0.6067" stop-color="#1f78b4" stop-opacity="1.000"/><stop offset="0.6234" stop-color="#1f78b4" stop-opacity="1.000"/><stop offset="0.6402" stop-color="#1f78b4" stop-opacity="1.000"/><stop offset="0.6569" stop-color="#1f78b4" stop-opacity="1.000"/><stop offset="0.6778" stop-color="#1f78b4" stop-opacity="1.000"/><stop offset="0.6946" stop-color="#1f78b4" stop-opacity="1.000"/><stop offset="0.7113" stop-color="#1f78b4" stop-opacity="1.000"/><stop offset="0.7280" stop-color="#1f78b4" stop-opacity="1.000"/><stop offset="0.7448" stop-color="#1f78b4" stop-opacity="0.944"/><stop offset="0.7615" stop-color="#1f78b4" stop-opacity="0.886"/><stop offset="0.7782" stop-color="#1f78b4" stop-opacity="0.827"/><stop offset="0.7950" stop-color="#1f78b4" stop-opacity="0.767"/><stop offset="0.8117" stop-color="#1f78b4" stop-opacity="0.705"/><stop offset="0.8285" stop-color="#1f78b4" stop-opacity="0.643"/><stop offset="0.8452" stop-color="#1f78b4" stop-opacity="0.578"/><stop offset="0.8619" stop-color="#1f78b4" stop-opacity="0.512"/><stop offset="0.8787" stop-color="#1f78b4" stop-opacity="0.444"/><stop offset="0.8954" stop-color="#1f78b4" stop-opacity="0.373"/><stop offset="0.9121" stop-color="#1f78b4" stop-opacity="0.298"/><stop offset="0.9289" stop-color="#1f78b4" stop-opacity="0.218"/><stop offset="0.9456" stop-color="#1f78b4" stop-opacity="0.130"/><stop offset="0.9623" stop-color="#1f78b4" stop-opacity="0.019"/><stop offset="0.9791" stop-color="#1f78b4" stop-opacity="0.000"/><stop offset="1.0000" stop-color="#1f78b4" stop-opacity="0.000"/></linearGradient><linearGradient id="g25" gradientUnits="userSpaceOnUse" x1="343.50" y1="0" x2="412.90" y2="0"><stop offset="0.0000" stop-color="#ff7f00" stop-opacity="0.000"/><stop offset="0.0167" stop-color="#ff7f00" stop-opacity="0.000"/><stop offset="0.0335" stop-color="#ff7f00" stop-opacity="0.000"/><stop offset="0.0502" stop-color="#ff7f00" stop-opacity="0.000"/><stop offset="0.0669" stop-color="#ff7f00" stop-opacity="0.139"/><stop offset="0.0837" stop-color="#ff7f00" stop-opacity="0.317"/><stop offset="0.1004" stop-color="#ff7f00" stop-opacity="0.471"/><stop offset="0.1172" stop-color="#ff7f00" stop-opacity="0.614"/><stop offset="0.1339" stop-color="#ff7f00" stop-opacity="0.749"/><stop offset="0.1506" stop-color="#ff7f00" stop-opacity="0.877"/><stop offset="0.1674" stop-color="#ff7f00" stop-opacity="1.000"/><stop offset="0.1841" stop-color="#ff7f00" stop-opacity="1.000"/><stop offset="0.2008" stop-color="#ff7f00" stop-opacity="1.000"/><stop offset="0.2176" stop-color="#ff7f00" stop-opacity="1.000"/><stop offset="0.2343" stop-color="#ff7f00" stop-opacity="1.000"/><stop offset="0.2510" stop-color="#ff7f00" stop-opacity="1.000"/><stop offset="0.2678" stop-color="#ff7f00" stop-opacity="1.000"/><stop offset="0.2845" stop-color="#ff7f00" stop-opacity="1.000"/><stop offset="0.3013" stop-color="#ff7f00" stop-opacity="1.000"/><stop offset="0.3180" stop-color="#ff7f00" stop-opacity="1.000"/><stop offset="0.3389" stop-color="#ff7f00" stop-opacity="1.000"/><stop offset="0.3556" stop-color="#ff7f00" stop-opacity="1.000"/><stop offset="0.3724" stop-color="#ff7f00" stop-opacity="1.000"/><stop offset="0.3891" stop-color="#ff7f00" stop-opacity="1.000"/><stop offset="0.4059" stop-color="#ff7f00" stop-opacity="1.000"/><stop offset="0.4226" stop-color="#ff7f00" stop-opacity="1.000"/><stop offset="0.4393" stop-color="#ff7f00" stop-opacity="1.000"/><stop offset="0.4561" stop-color="#ff7f00" stop-opacity="1.000"/><stop offset="0.4728" stop-color="#ff7f00" stop-opacity="1.000"/><stop offset="0.4895" stop-color="#ff7f00" stop-opacity="1.000"/><stop offset="0.5063" stop-color="#ff7f00" stop-opacity="1.000"/><stop offset="0.5230" stop-color="#ff7f00" stop-opacity="1.000"/><stop offset="0.5397" stop-color="#ff7f00" stop-opacity="1.000"/><stop offset="0.5565" stop-color="#ff7f00" stop-opacity="1.000"/><stop offset="0.5732" stop-color="#ff7f00" stop-opacity="1.000"/><stop offset="0.5900" stop-color="#ff7f00" stop-opacity="1.000"/><stop offset="0.6067" stop-color="#ff7f00" stop-opacity="1.000"/><stop offset="0.6234" stop-color="#ff7f00" stop-opacity="0.977"/><stop offset="0.6402" stop-color="#ff7f00" stop-opacity="0.935"/><stop offset="0.6569" stop-color="#ff7f00" stop-opacity="0.894"/><stop offset="0.6778" stop-color="#ff7f00" stop-opacity="0.841"/><stop offset="0.6946" stop-color="#ff7f00" stop-opacity="0.798"/><stop offset="0.7113" stop-color="#ff7f00" stop-opacity="0.755"/><stop offset="0.7280" stop-color="#ff7f00" stop-opacity="0.711"/><stop offset="0.7448" stop-color="#ff7f00" stop-opacity="0.666"/><stop offset="0.7615" stop-color="#ff7f00" stop-opacity="0.620"/><stop offset="0.7782" stop-color="#ff7f00" stop-opacity="0.574"/><stop offset="0.7950" stop-color="#ff7f00" stop-opacity="0.527"/><stop offset="0.8117" stop-color="#ff7f00" stop-opacity="0.478"/><stop offset="0.8285" stop-color="#ff7f00" stop-opacity="0.429"/><stop offset="0.8452" stop-color="#ff7f00" stop-opacity="0.377"/><stop offset="0.8619" stop-color="#ff7f00" stop-opacity="0.324"/><stop offset="0.8787" stop-color="#ff7f00" stop-opacity="0.269"/><stop offset="0.8954" stop-color="#ff7f00" stop-opacity="0.211"/><stop offset="0.9121" stop-color="#ff7f00" stop-opacity="0.148"/><stop offset="0.9289" stop-color="#ff7f00" stop-opacity="0.078"/><stop offset="0.9456" stop-color="#ff7f00" stop-opacity="0.000"/><stop offset="0.9623" stop-color="#ff7f00" stop-opacity="0.000"/><stop offset="0.9791" stop-color="#ff7f00" stop-opacity="0.000"/><stop offset="1.0000" stop-color="#ff7f00" stop-opacity="0.000"/></linearGradient><linearGradient id="g26" gradientUnits="userSpaceOnUse" x1="345.50" y1="0" x2="402.40" y2="0"><stop offset="0.0000" stop-color="#33a02c" stop-opacity="0.000"/><stop offset="0.0167" stop-color="#33a02c" stop-opacity="0.000"/><stop offset="0.0335" stop-color="#33a02c" stop-opacity="0.000"/><stop offset="0.0502" stop-color="#33a02c" stop-opacity="0.000"/><stop offset="0.0669" stop-color="#33a02c" stop-opacity="0.000"/><stop offset="0.0837" stop-color="#33a02c" stop-opacity="0.182"/><stop offset="0.1004" stop-color="#33a02c" stop-opacity="0.349"/><stop offset="0.1172" stop-color="#33a02c" stop-opacity="0.496"/><stop offset="0.1339" stop-color="#33a02c" stop-opacity="0.634"/><stop offset="0.1506" stop-color="#33a02c" stop-opacity="0.764"/><stop offset="0.1674" stop-color="#33a02c" stop-opacity="0.889"/><stop offset="0.1841" stop-color="#33a02c" stop-opacity="1.000"/><stop offset="0.2008" stop-color="#33a02c" stop-opacity="1.000"/><stop offset="0.2176" stop-color="#33a02c" stop-opacity="1.000"/><stop offset="0.2343" stop-color="#33a02c" stop-opacity="1.000"/><stop offset="0.2510" stop-color="#33a02c" stop-opacity="1.000"/><stop offset="0.2678" stop-color="#33a02c" stop-opacity="1.000"/><stop offset="0.2845" stop-color="#33a02c" stop-opacity="1.000"/><stop offset="0.3013" stop-color="#33a02c" stop-opacity="1.000"/><stop offset="0.3180" stop-color="#33a02c" stop-opacity="1.000"/><stop offset="0.3389" stop-color="#33a02c" stop-opacity="1.000"/><stop offset="0.3556" stop-color="#33a02c" stop-opacity="1.000"/><stop offset="0.3724" stop-color="#33a02c" stop-opacity="1.000"/><stop offset="0.3891" stop-color="#33a02c" stop-opacity="1.000"/><stop offset="0.4059" stop-color="#33a02c" stop-opacity="1.000"/><stop offset="0.4226" stop-color="#33a02c" stop-opacity="1.000"/><stop offset="0.4393" stop-color="#33a02c" stop-opacity="1.000"/><stop offset="0.4561" stop-color="#33a02c" stop-opacity="1.000"/><stop offset="0.4728" stop-color="#33a02c" stop-opacity="1.000"/><stop offset="0.4895" stop-color="#33a02c" stop-opacity="1.000"/><stop offset="0.5063" stop-color="#33a02c" stop-opacity="1.000"/><stop offset="0.5230" stop-color="#33a02c" stop-opacity="1.000"/><stop offset="0.5397" stop-color="#33a02c" stop-opacity="1.000"/><stop offset="0.5565" stop-color="#33a02c" stop-opacity="1.000"/><stop offset="0.5732" stop-color="#33a02c" stop-opacity="1.000"/><stop offset="0.5900" stop-color="#33a02c" stop-opacity="1.000"/><stop offset="0.6067" stop-color="#33a02c" stop-opacity="1.000"/><stop offset="0.6234" stop-color="#33a02c" stop-opacity="1.000"/><stop offset="0.6402" stop-color="#33a02c" stop-opacity="1.000"/><stop offset="0.6569" stop-color="#33a02c" stop-opacity="1.000"/><stop offset="0.6778" stop-color="#33a02c" stop-opacity="0.954"/><stop offset="0.6946" stop-color="#33a02c" stop-opacity="0.903"/><stop offset="0.7113" stop-color="#33a02c" stop-opacity="0.851"/><stop offset="0.7280" stop-color="#33a02c" stop-opacity="0.799"/><stop offset="0.7448" stop-color="#33a02c" stop-opacity="0.745"/><stop offset="0.7615" stop-color="#33a02c" stop-opacity="0.691"/><stop offset="0.7782" stop-color="#33a02c" stop-opacity="0.635"/><stop offset="0.7950" stop-color="#33a02c" stop-opacity="0.578"/><stop offset="0.8117" stop-color="#33a02c" stop-opacity="0.520"/><stop offset="0.8285" stop-color="#33a02c" stop-opacity="0.460"/><stop offset="0.8452" stop-color="#33a02c" stop-opacity="0.398"/><stop offset="0.8619" stop-color="#33a02c" stop-opacity="0.334"/><stop offset="0.8787" stop-color="#33a02c" stop-opacity="0.266"/><stop offset="0.8954" stop-color="#33a02c" stop-opacity="0.194"/><stop offset="0.9121" stop-color="#33a02c" stop-opacity="0.113"/><stop offset="0.9289" stop-color="#33a02c" stop-opacity="0.010"/><stop offset="0.9456" stop-color="#33a02c" stop-opacity="0.000"/><stop offset="0.9623" stop-color="#33a02c" stop-opacity="0.000"/><stop offset="0.9791" stop-color="#33a02c" stop-opacity="0.000"/><stop offset="1.0000" stop-color="#33a02c" stop-opacity="0.000"/></linearGradient><linearGradient id="g27" gradientUnits="userSpaceOnUse" x1="338.70" y1="0" x2="418.50" y2="0"><stop offset="0.0000" stop-color="#6a3d9a" stop-opacity="0.000"/><stop offset="0.0167" stop-color="#6a3d9a" stop-opacity="0.000"/><stop offset="0.0335" stop-color="#6a3d9a" stop-opacity="0.000"/><stop offset="0.0502" stop-color="#6a3d9a" stop-opacity="0.004"/><stop offset="0.0669" stop-color="#6a3d9a" stop-opacity="0.287"/><stop offset="0.0837" stop-color="#6a3d9a" stop-opacity="0.498"/><stop offset="0.1004" stop-color="#6a3d9a" stop-opacity="0.688"/><stop offset="0.1172" stop-color="#6a3d9a" stop-opacity="0.866"/><stop offset="0.1339" stop-color="#6a3d9a" stop-opacity="1.000"/><stop offset="0.1506" stop-color="#6a3d9a" stop-opacity="1.000"/><stop offset="0.1674" stop-color="#6a3d9a" stop-opacity="1.000"/><stop offset="0.1841" stop-color="#6a3d9a" stop-opacity="1.000"/><stop offset="0.2008" stop-color="#6a3d9a" stop-opacity="1.000"/><stop offset="0.2176" stop-color="#6a3d9a" stop-opacity="1.000"/><stop offset="0.2343" stop-color="#6a3d9a" stop-opacity="1.000"/><stop offset="0.2510" stop-color="#6a3d9a" stop-opacity="1.000"/><stop offset="0.2678" stop-color="#6a3d9a" stop-opacity="1.000"/><stop offset="0.2845" stop-color="#6a3d9a" stop-opacity="1.000"/><stop offset="0.3013" stop-color="#6a3d9a" stop-opacity="1.000"/><stop offset="0.3180" stop-color="#6a3d9a" stop-opacity="1.000"/><stop offset="0.3389" stop-color="#6a3d9a" stop-opacity="1.000"/><stop offset="0.3556" stop-color="#6a3d9a" stop-opacity="1.000"/><stop offset="0.3724" stop-color="#6a3d9a" stop-opacity="1.000"/><stop offset="0.3891" stop-color="#6a3d9a" stop-opacity="1.000"/><stop offset="0.4059" stop-color="#6a3d9a" stop-opacity="1.000"/><stop offset="0.4226" stop-color="#6a3d9a" stop-opacity="1.000"/><stop offset="0.4393" stop-color="#6a3d9a" stop-opacity="1.000"/><stop offset="0.4561" stop-color="#6a3d9a" stop-opacity="1.000"/><stop offset="0.4728" stop-color="#6a3d9a" stop-opacity="1.000"/><stop offset="0.4895" stop-color="#6a3d9a" stop-opacity="1.000"/><stop offset="0.5063" stop-color="#6a3d9a" stop-opacity="1.000"/><stop offset="0.5230" stop-color="#6a3d9a" stop-opacity="1.000"/><stop offset="0.5397" stop-color="#6a3d9a" stop-opacity="1.000"/><stop offset="0.5565" stop-color="#6a3d9a" stop-opacity="1.000"/><stop offset="0.5732" stop-color="#6a3d9a" stop-opacity="0.976"/><stop offset="0.5900" stop-color="#6a3d9a" stop-opacity="0.941"/><stop offset="0.6067" stop-color="#6a3d9a" stop-opacity="0.906"/><stop offset="0.6234" stop-color="#6a3d9a" stop-opacity="0.870"/><stop offset="0.6402" stop-color="#6a3d9a" stop-opacity="0.834"/><stop offset="0.6569" stop-color="#6a3d9a" stop-opacity="0.798"/><stop offset="0.6778" stop-color="#6a3d9a" stop-opacity="0.752"/><stop offset="0.6946" stop-color="#6a3d9a" stop-opacity="0.715"/><stop offset="0.7113" stop-color="#6a3d9a" stop-opacity="0.677"/><stop offset="0.7280" stop-color="#6a3d9a" stop-opacity="0.639"/><stop offset="0.7448" stop-color="#6a3d9a" stop-opacity="0.600"/><stop offset="0.7615" stop-color="#6a3d9a" stop-opacity="0.560"/><stop offset="0.7782" stop-color="#6a3d9a" stop-opacity="0.520"/><stop offset="0.7950" stop-color="#6a3d9a" stop-opacity="0.479"/><stop offset="0.8117" stop-color="#6a3d9a" stop-opacity="0.437"/><stop offset="0.8285" stop-color="#6a3d9a" stop-opacity="0.394"/><stop offset="0.8452" stop-color="#6a3d9a" stop-opacity="0.350"/><stop offset="0.8619" stop-color="#6a3d9a" stop-opacity="0.305"/><stop offset="0.8787" stop-color="#6a3d9a" stop-opacity="0.257"/><stop offset="0.8954" stop-color="#6a3d9a" stop-opacity="0.208"/><stop offset="0.9121" stop-color="#6a3d9a" stop-opacity="0.155"/><stop offset="0.9289" stop-color="#6a3d9a" stop-opacity="0.097"/><stop offset="0.9456" stop-color="#6a3d9a" stop-opacity="0.027"/><stop offset="0.9623" stop-color="#6a3d9a" stop-opacity="0.000"/><stop offset="0.9791" stop-color="#6a3d9a" stop-opacity="0.000"/><stop offset="1.0000" stop-color="#6a3d9a" stop-opacity="0.000"/></linearGradient><linearGradient id="g28" gradientUnits="userSpaceOnUse" x1="583.80" y1="0" x2="675.30" y2="0"><stop offset="0.0000" stop-color="#1f78b4" stop-opacity="0.000"/><stop offset="0.0167" stop-color="#1f78b4" stop-opacity="0.000"/><stop offset="0.0335" stop-color="#1f78b4" stop-opacity="0.000"/><stop offset="0.0502" stop-color="#1f78b4" stop-opacity="0.079"/><stop offset="0.0669" stop-color="#1f78b4" stop-opacity="0.219"/><stop offset="0.0837" stop-color="#1f78b4" stop-opacity="0.338"/><stop offset="0.1004" stop-color="#1f78b4" stop-opacity="0.447"/><stop offset="0.1172" stop-color="#1f78b4" stop-opacity="0.550"/><stop offset="0.1339" stop-color="#1f78b4" stop-opacity="0.648"/><stop offset="0.1506" stop-color="#1f78b4" stop-opacity="0.742"/><stop offset="0.1674" stop-color="#1f78b4" stop-opacity="0.834"/><stop offset="0.1841" stop-color="#1f78b4" stop-opacity="0.923"/><stop offset="0.2008" stop-color="#1f78b4" stop-opacity="1.000"/><stop offset="0.2176" stop-color="#1f78b4" stop-opacity="1.000"/><stop offset="0.2343" stop-color="#1f78b4" stop-opacity="1.000"/><stop offset="0.2510" stop-color="#1f78b4" stop-opacity="1.000"/><stop offset="0.2678" stop-color="#1f78b4" stop-opacity="1.000"/><stop offset="0.2845" stop-color="#1f78b4" stop-opacity="1.000"/><stop offset="0.3013" stop-color="#1f78b4" stop-opacity="1.000"/><stop offset="0.3180" stop-color="#1f78b4" stop-opacity="1.000"/><stop offset="0.3389" stop-color="#1f78b4" stop-opacity="1.000"/><stop offset="0.3556" stop-color="#1f78b4" stop-opacity="1.000"/><stop offset="0.3724" stop-color="#1f78b4" stop-opacity="1.000"/><stop offset="0.3891" stop-color="#1f78b4" stop-opacity="1.000"/><stop offset="0.4059" stop-color="#1f78b4" stop-opacity="1.000"/><stop offset="0.4226" stop-color="#1f78b4" stop-opacity="1.000"/><stop offset="0.4393" stop-color="#1f78b4" stop-opacity="1.000"/><stop offset="0.4561" stop-color="#1f78b4" stop-opacity="1.000"/><stop offset="0.4728" stop-color="#1f78b4" stop-opacity="1.000"/><stop offset="0.4895" stop-color="#1f78b4" stop-opacity="1.000"/><stop offset="0.5063" stop-color="#1f78b4" stop-opacity="1.000"/><stop offset="0.5230" stop-color="#1f78b4" stop-opacity="1.000"/><stop offset="0.5397" stop-color="#1f78b4" stop-opacity="1.000"/><stop offset="0.5565" stop-color="#1f78b4" stop-opacity="1.000"/><stop offset="0.5732" stop-color="#1f78b4" stop-opacity="1.000"/><stop offset="0.5900" stop-color="#1f78b4" stop-opacity="1.000"/><stop offset="0.6067" stop-color="#1f78b4" stop-opacity="1.000"/><stop offset="0.6234" stop-color="#1f78b4" stop-opacity="1.000"/><stop offset="0.6402" stop-color="#1f78b4" stop-opacity="1.000"/><stop offset="0.6569" stop-color="#1f78b4" stop-opacity="1.000"/><stop offset="0.6778" stop-color="#1f78b4" stop-opacity="1.000"/><stop offset="0.6946" stop-color="#1f78b4" stop-opacity="1.000"/><stop offset="0.7113" stop-color="#1f78b4" stop-opacity="1.000"/><stop offset="0.7280" stop-color="#1f78b4" stop-opacity="1.000"/><stop offset="0.7448" stop-color="#1f78b4" stop-opacity="1.000"/><stop offset="0.7615" stop-color="#1f78b4" stop-opacity="1.000"/><stop offset="0.7782" stop-color="#1f78b4" stop-opacity="1.000"/><stop offset="0.7950" stop-color="#1f78b4" stop-opacity="1.000"/><stop offset="0.8117" stop-color="#1f78b4" stop-opacity="1.000"/><stop offset="0.8285" stop-color="#1f78b4" stop-opacity="1.000"/><stop offset="0.8452" stop-color="#1f78b4" stop-opacity="1.000"/><stop offset="0.8619" stop-color="#1f78b4" stop-opacity="1.000"/><stop offset="0.8787" stop-color="#1f78b4" stop-opacity="1.000"/><stop offset="0.8954" stop-color="#1f78b4" stop-opacity="1.000"/><stop offset="0.9121" stop-color="#1f78b4" stop-opacity="1.000"/><stop offset="0.9289" stop-color="#1f78b4" stop-opacity="1.000"/><stop offset="0.9456" stop-color="#1f78b4" stop-opacity="1.000"/><stop offset="0.9623" stop-color="#1f78b4" stop-opacity="0.986"/><stop offset="0.9791" stop-color="#1f78b4" stop-opacity="0.961"/><stop offset="1.0000" stop-color="#1f78b4" stop-opacity="0.929"/></linearGradient><linearGradient id="g29" gradientUnits="userSpaceOnUse" x1="590.30" y1="0" x2="678.60" y2="0"><stop offset="0.0000" stop-color="#bebebe" stop-opacity="0.000"/><stop offset="0.0167" stop-color="#bebebe" stop-opacity="0.000"/><stop offset="0.0335" stop-color="#bebebe" stop-opacity="0.000"/><stop offset="0.0502" stop-color="#bebebe" stop-opacity="0.063"/><stop offset="0.0669" stop-color="#bebebe" stop-opacity="0.208"/><stop offset="0.0837" stop-color="#bebebe" stop-opacity="0.329"/><stop offset="0.1004" stop-color="#bebebe" stop-opacity="0.440"/><stop offset="0.1172" stop-color="#bebebe" stop-opacity="0.543"/><stop offset="0.1339" stop-color="#bebebe" stop-opacity="0.642"/><stop offset="0.1506" stop-color="#bebebe" stop-opacity="0.738"/><stop offset="0.1674" stop-color="#bebebe" stop-opacity="0.830"/><stop offset="0.1841" stop-color="#bebebe" stop-opacity="0.920"/><stop offset="0.2008" stop-color="#bebebe" stop-opacity="1.000"/><stop offset="0.2176" stop-color="#bebebe" stop-opacity="1.000"/><stop offset="0.2343" stop-color="#bebebe" stop-opacity="1.000"/><stop offset="0.2510" stop-color="#bebebe" stop-opacity="1.000"/><stop offset="0.2678" stop-color="#bebebe" stop-opacity="1.000"/><stop offset="0.2845" stop-color="#bebebe" stop-opacity="1.000"/><stop offset="0.3013" stop-color="#bebebe" stop-opacity="1.000"/><stop offset="0.3180" stop-color="#bebebe" stop-opacity="1.000"/><stop offset="0.3389" stop-color="#bebebe" stop-opacity="1.000"/><stop offset="0.3556" stop-color="#bebebe" stop-opacity="1.000"/><stop offset="0.3724" stop-color="#bebebe" stop-opacity="1.000"/><stop offset="0.3891" stop-color="#bebebe" stop-opacity="1.000"/><stop offset="0.4059" stop-color="#bebebe" stop-opacity="1.000"/><stop offset="0.4226" stop-color="#bebebe" stop-opacity="1.000"/><stop offset="0.4393" stop-color="#bebebe" stop-opacity="1.000"/><stop offset="0.4561" stop-color="#bebebe" stop-opacity="1.000"/><stop offset="0.4728" stop-color="#bebebe" stop-opacity="1.000"/><stop offset="0.4895" stop-color="#bebebe" stop-opacity="1.000"/><stop offset="0.5063" stop-color="#bebebe" stop-opacity="1.000"/><stop offset="0.5230" stop-color="#bebebe" stop-opacity="1.000"/><stop offset="0.5397" stop-color="#bebebe" stop-opacity="1.000"/><stop offset="0.5565" stop-color="#bebebe" stop-opacity="1.000"/><stop offset="0.5732" stop-color="#bebebe" stop-opacity="1.000"/><stop offset="0.5900" stop-color="#bebebe" stop-opacity="1.000"/><stop offset="0.6067" stop-color="#bebebe" stop-opacity="1.000"/><stop offset="0.6234" stop-color="#bebebe" stop-opacity="1.000"/><stop offset="0.6402" stop-color="#bebebe" stop-opacity="1.000"/><stop offset="0.6569" stop-color="#bebebe" stop-opacity="1.000"/><stop offset="0.6778" stop-color="#bebebe" stop-opacity="1.000"/><stop offset="0.6946" stop-color="#bebebe" stop-opacity="1.000"/><stop offset="0.7113" stop-color="#bebebe" stop-opacity="1.000"/><stop offset="0.7280" stop-color="#bebebe" stop-opacity="1.000"/><stop offset="0.7448" stop-color="#bebebe" stop-opacity="1.000"/><stop offset="0.7615" stop-color="#bebebe" stop-opacity="0.958"/><stop offset="0.7782" stop-color="#bebebe" stop-opacity="0.891"/><stop offset="0.7950" stop-color="#bebebe" stop-opacity="0.823"/><stop offset="0.8117" stop-color="#bebebe" stop-opacity="0.753"/><stop offset="0.8285" stop-color="#bebebe" stop-opacity="0.682"/><stop offset="0.8452" stop-color="#bebebe" stop-opacity="0.608"/><stop offset="0.8619" stop-color="#bebebe" stop-opacity="0.533"/><stop offset="0.8787" stop-color="#bebebe" stop-opacity="0.454"/><stop offset="0.8954" stop-color="#bebebe" stop-opacity="0.372"/><stop offset="0.9121" stop-color="#bebebe" stop-opacity="0.286"/><stop offset="0.9289" stop-color="#bebebe" stop-opacity="0.192"/><stop offset="0.9456" stop-color="#bebebe" stop-opacity="0.083"/><stop offset="0.9623" stop-color="#bebebe" stop-opacity="0.000"/><stop offset="0.9791" stop-color="#bebebe" stop-opacity="0.000"/><stop offset="1.0000" stop-color="#bebebe" stop-opacity="0.000"/></linearGradient><linearGradient id="g30" gradientUnits="userSpaceOnUse" x1="592.70" y1="0" x2="669.00" y2="0"><stop offset="0.0000" stop-color="#6a3d9a" stop-opacity="0.000"/><stop offset="0.0167" stop-color="#6a3d9a" stop-opacity="0.000"/><stop offset="0.0335" stop-color="#6a3d9a" stop-opacity="0.000"/><stop offset="0.0502" stop-color="#6a3d9a" stop-opacity="0.000"/><stop offset="0.0669" stop-color="#6a3d9a" stop-opacity="0.178"/><stop offset="0.0837" stop-color="#6a3d9a" stop-opacity="0.328"/><stop offset="0.1004" stop-color="#6a3d9a" stop-opacity="0.463"/><stop offset="0.1172" stop-color="#6a3d9a" stop-opacity="0.588"/><stop offset="0.1339" stop-color="#6a3d9a" stop-opacity="0.706"/><stop offset="0.1506" stop-color="#6a3d9a" stop-opacity="0.820"/><stop offset="0.1674" stop-color="#6a3d9a" stop-opacity="0.930"/><stop offset="0.1841" stop-color="#6a3d9a" stop-opacity="1.000"/><stop offset="0.2008" stop-color="#6a3d9a" stop-opacity="1.000"/><stop offset="0.2176" stop-color="#6a3d9a" stop-opacity="1.000"/><stop offset="0.2343" stop-color="#6a3d9a" stop-opacity="1.000"/><stop offset="0.2510" stop-color="#6a3d9a" stop-opacity="1.000"/><stop offset="0.2678" stop-color="#6a3d9a" stop-opacity="1.000"/><stop offset="0.2845" stop-color="#6a3d9a" stop-opacity="1.000"/><stop offset="0.3013" stop-color="#6a3d9a" stop-opacity="1.000"/><stop offset="0.3180" stop-color="#6a3d9a" stop-opacity="1.000"/><stop offset="0.3389" stop-color="#6a3d9a" stop-opacity="1.000"/><stop offset="0.3556" stop-color="#6a3d9a" stop-opacity="1.000"/><stop offset="0.3724" stop-color="#6a3d9a" stop-opacity="1.000"/><stop offset="0.3891" stop-color="#6a3d9a" stop-opacity="1.000"/><stop offset="0.4059" stop-color="#6a3d9a" stop-opacity="1.000"/><stop offset="0.4226" stop-color="#6a3d9a" stop-opacity="1.000"/><stop offset="0.4393" stop-color="#6a3d9a" stop-opacity="1.000"/><stop offset="0.4561" stop-color="#6a3d9a" stop-opacity="1.000"/><stop offset="0.4728" stop-color="#6a3d9a" stop-opacity="1.000"/><stop offset="0.4895" stop-color="#6a3d9a" stop-opacity="1.000"/><stop offset="0.5063" stop-color="#6a3d9a" stop-opacity="1.000"/><stop offset="0.5230" stop-color="#6a3d9a" stop-opacity="1.000"/><stop offset="0.5397" stop-color="#6a3d9a" stop-opacity="1.000"/><stop offset="0.5565" stop-color="#6a3d9a" stop-opacity="1.000"/><stop offset="0.5732" stop-color="#6a3d9a" stop-opacity="1.000"/><stop offset="0.5900" stop-color="#6a3d9a" stop-opacity="1.000"/><stop offset="0.6067" stop-color="#6a3d9a" stop-opacity="1.000"/><stop offset="0.6234" stop-color="#6a3d9a" stop-opacity="1.000"/><stop offset="0.6402" stop-color="#6a3d9a" stop-opacity="0.988"/><stop offset="0.6569" stop-color="#6a3d9a" stop-opacity="0.945"/><stop offset="0.6778" stop-color="#6a3d9a" stop-opacity="0.890"/><stop offset="0.6946" stop-color="#6a3d9a" stop-opacity="0.846"/><stop offset="0.7113" stop-color="#6a3d9a" stop-opacity="0.801"/><stop offset="0.7280" stop-color="#6a3d9a" stop-opacity="0.755"/><stop offset="0.7448" stop-color="#6a3d9a" stop-opacity="0.709"/><stop offset="0.7615" stop-color="#6a3d9a" stop-opacity="0.661"/><stop offset="0.7782" stop-color="#6a3d9a" stop-opacity="0.613"/><stop offset="0.7950" stop-color="#6a3d9a" stop-opacity="0.564"/><stop offset="0.8117" stop-color="#6a3d9a" stop-opacity="0.514"/><stop offset="0.8285" stop-color="#6a3d9a" stop-opacity="0.463"/><stop offset="0.8452" stop-color="#6a3d9a" stop-opacity="0.410"/><stop offset="0.8619" stop-color="#6a3d9a" stop-opacity="0.356"/><stop offset="0.8787" stop-color="#6a3d9a" stop-opacity="0.299"/><stop offset="0.8954" stop-color="#6a3d9a" stop-opacity="0.239"/><stop offset="0.9121" stop-color="#6a3d9a" stop-opacity="0.176"/><stop offset="0.9289" stop-color="#6a3d9a" stop-opacity="0.105"/><stop offset="0.9456" stop-color="#6a3d9a" stop-opacity="0.017"/><stop offset="0.9623" stop-color="#6a3d9a" stop-opacity="0.000"/><stop offset="0.9791" stop-color="#6a3d9a" stop-opacity="0.000"/><stop offset="1.0000" stop-color="#6a3d9a" stop-opacity="0.000"/></linearGradient><linearGradient id="g31" gradientUnits="userSpaceOnUse" x1="596.70" y1="0" x2="652.90" y2="0"><stop offset="0.0000" stop-color="#33a02c" stop-opacity="0.000"/><stop offset="0.0167" stop-color="#33a02c" stop-opacity="0.000"/><stop offset="0.0335" stop-color="#33a02c" stop-opacity="0.000"/><stop offset="0.0502" stop-color="#33a02c" stop-opacity="0.000"/><stop offset="0.0669" stop-color="#33a02c" stop-opacity="0.000"/><stop offset="0.0837" stop-color="#33a02c" stop-opacity="0.171"/><stop offset="0.1004" stop-color="#33a02c" stop-opacity="0.337"/><stop offset="0.1172" stop-color="#33a02c" stop-opacity="0.484"/><stop offset="0.1339" stop-color="#33a02c" stop-opacity="0.621"/><stop offset="0.1506" stop-color="#33a02c" stop-opacity="0.750"/><stop offset="0.1674" stop-color="#33a02c" stop-opacity="0.874"/><stop offset="0.1841" stop-color="#33a02c" stop-opacity="0.993"/><stop offset="0.2008" stop-color="#33a02c" stop-opacity="1.000"/><stop offset="0.2176" stop-color="#33a02c" stop-opacity="1.000"/><stop offset="0.2343" stop-color="#33a02c" stop-opacity="1.000"/><stop offset="0.2510" stop-color="#33a02c" stop-opacity="1.000"/><stop offset="0.2678" stop-color="#33a02c" stop-opacity="1.000"/><stop offset="0.2845" stop-color="#33a02c" stop-opacity="1.000"/><stop offset="0.3013" stop-color="#33a02c" stop-opacity="1.000"/><stop offset="0.3180" stop-color="#33a02c" stop-opacity="1.000"/><stop offset="0.3389" stop-color="#33a02c" stop-opacity="1.000"/><stop offset="0.3556" stop-color="#33a02c" stop-opacity="1.000"/><stop offset="0.3724" stop-color="#33a02c" stop-opacity="1.000"/><stop offset="0.3891" stop-color="#33a02c" stop-opacity="1.000"/><stop offset="0.4059" stop-color="#33a02c" stop-opacity="1.000"/><stop offset="0.4226" stop-color="#33a02c" stop-opacity="1.000"/><stop offset="0.4393" stop-color="#33a02c" stop-opacity="1.000"/><stop offset="0.4561" stop-color="#33a02c" stop-opacity="1.000"/><stop offset="0.4728" stop-color="#33a02c" stop-opacity="1.000"/><stop offset="0.4895" stop-color="#33a02c" stop-opacity="1.000"/><stop offset="0.5063" stop-color="#33a02c" stop-opacity="1.000"/><stop offset="0.5230" stop-color="#33a02c" stop-opacity="1.000"/><stop offset="0.5397" stop-color="#33a02c" stop-opacity="1.000"/><stop offset="0.5565" stop-color="#33a02c" stop-opacity="1.000"/><stop offset="0.5732" stop-color="#33a02c" stop-opacity="1.000"/><stop offset="0.5900" stop-color="#33a02c" stop-opacity="1.000"/><stop offset="0.6067" stop-color="#33a02c" stop-opacity="1.000"/><stop offset="0.6234" stop-color="#33a02c" stop-opacity="1.000"/><stop offset="0.6402" stop-color="#33a02c" stop-opacity="0.991"/><stop offset="0.6569" stop-color="#33a02c" stop-opacity="0.945"/><stop offset="0.6778" stop-color="#33a02c" stop-opacity="0.886"/><stop offset="0.6946" stop-color="#33a02c" stop-opacity="0.839"/><stop offset="0.7113" stop-color="#33a02c" stop-opacity="0.791"/><stop offset="0.7280" stop-color="#33a02c" stop-opacity="0.742"/><stop offset="0.7448" stop-color="#33a02c" stop-opacity="0.692"/><stop offset="0.7615" stop-color="#33a02c" stop-opacity="0.641"/><stop offset="0.7782" stop-color="#33a02c" stop-opacity="0.589"/><stop offset="0.7950" stop-color="#33a02c" stop-opacity="0.536"/><stop offset="0.8117" stop-color="#33a02c" stop-opacity="0.482"/><stop offset="0.8285" stop-color="#33a02c" stop-opacity="0.426"/><stop offset="0.8452" stop-color="#33a02c" stop-opacity="0.368"/><stop offset="0.8619" stop-color="#33a02c" stop-opacity="0.308"/><stop offset="0.8787" stop-color="#33a02c" stop-opacity="0.244"/><stop offset="0.8954" stop-color="#33a02c" stop-opacity="0.177"/><stop offset="0.9121" stop-color="#33a02c" stop-opacity="0.101"/><stop offset="0.9289" stop-color="#33a02c" stop-opacity="0.000"/><stop offset="0.9456" stop-color="#33a02c" stop-opacity="0.000"/><stop offset="0.9623" stop-color="#33a02c" stop-opacity="0.000"/><stop offset="0.9791" stop-color="#33a02c" stop-opacity="0.000"/><stop offset="1.0000" stop-color="#33a02c" stop-opacity="0.000"/></linearGradient><linearGradient id="g32" gradientUnits="userSpaceOnUse" x1="589.50" y1="0" x2="641.60" y2="0"><stop offset="0.0000" stop-color="#ff7f00" stop-opacity="0.000"/><stop offset="0.0167" stop-color="#ff7f00" stop-opacity="0.000"/><stop offset="0.0335" stop-color="#ff7f00" stop-opacity="0.000"/><stop offset="0.0502" stop-color="#ff7f00" stop-opacity="0.000"/><stop offset="0.0669" stop-color="#ff7f00" stop-opacity="0.000"/><stop offset="0.0837" stop-color="#ff7f00" stop-opacity="0.084"/><stop offset="0.1004" stop-color="#ff7f00" stop-opacity="0.224"/><stop offset="0.1172" stop-color="#ff7f00" stop-opacity="0.343"/><stop offset="0.1339" stop-color="#ff7f00" stop-opacity="0.453"/><stop offset="0.1506" stop-color="#ff7f00" stop-opacity="0.557"/><stop offset="0.1674" stop-color="#ff7f00" stop-opacity="0.656"/><stop offset="0.1841" stop-color="#ff7f00" stop-opacity="0.751"/><stop offset="0.2008" stop-color="#ff7f00" stop-opacity="0.843"/><stop offset="0.2176" stop-color="#ff7f00" stop-opacity="0.933"/><stop offset="0.2343" stop-color="#ff7f00" stop-opacity="1.000"/><stop offset="0.2510" stop-color="#ff7f00" stop-opacity="1.000"/><stop offset="0.2678" stop-color="#ff7f00" stop-opacity="1.000"/><stop offset="0.2845" stop-color="#ff7f00" stop-opacity="1.000"/><stop offset="0.3013" stop-color="#ff7f00" stop-opacity="1.000"/><stop offset="0.3180" stop-color="#ff7f00" stop-opacity="1.000"/><stop offset="0.3389" stop-color="#ff7f00" stop-opacity="1.000"/><stop offset="0.3556" stop-color="#ff7f00" stop-opacity="1.000"/><stop offset="0.3724" stop-color="#ff7f00" stop-opacity="1.000"/><stop offset="0.3891" stop-color="#ff7f00" stop-opacity="1.000"/><stop offset="0.4059" stop-color="#ff7f00" stop-opacity="1.000"/><stop offset="0.4226" stop-color="#ff7f00" stop-opacity="1.000"/><stop offset="0.4393" stop-color="#ff7f00" stop-opacity="1.000"/><stop offset="0.4561" stop-color="#ff7f00" stop-opacity="1.000"/><stop offset="0.4728" stop-color="#ff7f00" stop-opacity="1.000"/><stop offset="0.4895" stop-color="#ff7f00" stop-opacity="1.000"/><stop offset="0.5063" stop-color="#ff7f00" stop-opacity="1.000"/><stop offset="0.5230" stop-color="#ff7f00" stop-opacity="1.000"/><stop offset="0.5397" stop-color="#ff7f00" stop-opacity="1.000"/><stop offset="0.5565" stop-color="#ff7f00" stop-opacity="1.000"/><stop offset="0.5732" stop-color="#ff7f00" stop-opacity="1.000"/><stop offset="0.5900" stop-color="#ff7f00" stop-opacity="1.000"/><stop offset="0.6067" stop-color="#ff7f00" stop-opacity="1.000"/><stop offset="0.6234" stop-color="#ff7f00" stop-opacity="1.000"/><stop offset="0.6402" stop-color="#ff7f00" stop-opacity="1.000"/><stop offset="0.6569" stop-color="#ff7f00" stop-opacity="1.000"/><stop offset="0.6778" stop-color="#ff7f00" stop-opacity="0.999"/><stop offset="0.6946" stop-color="#ff7f00" stop-opacity="0.944"/><stop offset="0.7113" stop-color="#ff7f00" stop-opacity="0.888"/><stop offset="0.7280" stop-color="#ff7f00" stop-opacity="0.832"/><stop offset="0.7448" stop-color="#ff7f00" stop-opacity="0.774"/><stop offset="0.7615" stop-color="#ff7f00" stop-opacity="0.716"/><stop offset="0.7782" stop-color="#ff7f00" stop-opacity="0.656"/><stop offset="0.7950" stop-color="#ff7f00" stop-opacity="0.594"/><stop offset="0.8117" stop-color="#ff7f00" stop-opacity="0.532"/><stop offset="0.8285" stop-color="#ff7f00" stop-opacity="0.467"/><stop offset="0.8452" stop-color="#ff7f00" stop-opacity="0.400"/><stop offset="0.8619" stop-color="#ff7f00" stop-opacity="0.329"/><stop offset="0.8787" stop-color="#ff7f00" stop-opacity="0.255"/><stop offset="0.8954" stop-color="#ff7f00" stop-opacity="0.175"/><stop offset="0.9121" stop-color="#ff7f00" stop-opacity="0.084"/><stop offset="0.9289" stop-color="#ff7f00" stop-opacity="0.000"/><stop offset="0.9456" stop-color="#ff7f00" stop-opacity="0.000"/><stop offset="0.9623" stop-color="#ff7f00" stop-opacity="0.000"/><stop offset="0.9791" stop-color="#ff7f00" stop-opacity="0.000"/><stop offset="1.0000" stop-color="#ff7f00" stop-opacity="0.000"/></linearGradient></defs>
<rect width="685" height="390" fill="#fff"/>
<line x1="69.30" y1="1.0" x2="69.30" y2="143.9" stroke="#e9e9e9" stroke-width="1.25"/>
<line x1="85.60" y1="1.0" x2="85.60" y2="143.9" stroke="#e9e9e9" stroke-width="0.9"/>
<line x1="101.90" y1="1.0" x2="101.90" y2="143.9" stroke="#e9e9e9" stroke-width="1.25"/>
<line x1="118.20" y1="1.0" x2="118.20" y2="143.9" stroke="#e9e9e9" stroke-width="0.9"/>
<line x1="134.50" y1="1.0" x2="134.50" y2="143.9" stroke="#e9e9e9" stroke-width="1.25"/>
<line x1="150.80" y1="1.0" x2="150.80" y2="143.9" stroke="#e9e9e9" stroke-width="0.9"/>
<line x1="167.10" y1="1.0" x2="167.10" y2="143.9" stroke="#e9e9e9" stroke-width="1.25"/>
<line x1="183.40" y1="1.0" x2="183.40" y2="143.9" stroke="#e9e9e9" stroke-width="0.9"/>
<line x1="199.70" y1="1.0" x2="199.70" y2="143.9" stroke="#e9e9e9" stroke-width="1.25"/>
<line x1="62.9" y1="137.40" x2="206.0" y2="137.40" stroke="#e9e9e9" stroke-width="1.25"/>
<line x1="62.9" y1="121.15" x2="206.0" y2="121.15" stroke="#e9e9e9" stroke-width="0.9"/>
<line x1="62.9" y1="104.90" x2="206.0" y2="104.90" stroke="#e9e9e9" stroke-width="1.25"/>
<line x1="62.9" y1="88.65" x2="206.0" y2="88.65" stroke="#e9e9e9" stroke-width="0.9"/>
<line x1="62.9" y1="72.40" x2="206.0" y2="72.40" stroke="#e9e9e9" stroke-width="1.25"/>
<line x1="62.9" y1="56.15" x2="206.0" y2="56.15" stroke="#e9e9e9" stroke-width="0.9"/>
<line x1="62.9" y1="39.90" x2="206.0" y2="39.90" stroke="#e9e9e9" stroke-width="1.25"/>
<line x1="62.9" y1="23.65" x2="206.0" y2="23.65" stroke="#e9e9e9" stroke-width="0.9"/>
<line x1="62.9" y1="7.40" x2="206.0" y2="7.40" stroke="#e9e9e9" stroke-width="1.25"/>
<g clip-path="url(#clip0)">
<polygon points="90.0,57.0 89.5,62.0 89.0,80.0 92.5,100.0 99.0,114.0 105.0,120.0 112.0,124.5 126.0,127.0 142.0,126.5 150.0,115.0 130.0,90.0 115.0,60.0 100.0,52.0" fill="#377eb8" opacity="0.55" filter="url(#bl1)"/>
<g fill="#377eb8" fill-opacity="0.07"><circle cx="105.0" cy="119.3" r="3"/><circle cx="91.3" cy="59.1" r="3"/><circle cx="93.4" cy="94.5" r="3"/><circle cx="120.7" cy="70.8" r="3"/><circle cx="89.9" cy="87.4" r="3"/><circle cx="147.3" cy="110.2" r="3"/><circle cx="102.1" cy="116.8" r="3"/><circle cx="92.6" cy="92.9" r="3"/><circle cx="118.1" cy="130.6" r="3"/><circle cx="132.9" cy="94.1" r="3"/><circle cx="144.7" cy="106.8" r="3"/><circle cx="99.9" cy="114.2" r="3"/><circle cx="140.2" cy="125.2" r="3"/><circle cx="134.2" cy="88.5" r="3"/><circle cx="89.2" cy="79.5" r="3"/><circle cx="129.8" cy="90.0" r="3"/><circle cx="89.4" cy="69.2" r="3"/><circle cx="102.9" cy="116.5" r="3"/><circle cx="125.4" cy="79.6" r="3"/><circle cx="91.2" cy="60.9" r="3"/><circle cx="90.6" cy="87.4" r="3"/><circle cx="98.9" cy="52.1" r="3"/><circle cx="121.2" cy="53.4" r="3"/><circle cx="96.5" cy="109.3" r="3"/><circle cx="115.1" cy="125.7" r="3"/><circle cx="146.4" cy="123.3" r="3"/><circle cx="129.5" cy="81.1" r="3"/><circle cx="128.1" cy="85.2" r="3"/><circle cx="92.9" cy="56.0" r="3"/><circle cx="92.1" cy="97.4" r="3"/></g>
<polygon points="92.0,64.0 94.0,52.0 100.0,44.0 110.0,41.0 120.0,45.0 126.0,54.0 122.0,64.0 100.0,67.0" fill="#4daf4a" opacity="0.35" filter="url(#bl2)"/>
<g fill="#4daf4a" fill-opacity="0.08"><circle cx="88" cy="66" r="3"/><circle cx="115" cy="54" r="3"/><circle cx="116" cy="55" r="3"/><circle cx="100" cy="56" r="3"/><circle cx="108" cy="25" r="3"/><circle cx="120" cy="54" r="3"/><circle cx="100" cy="53" r="3"/><circle cx="120" cy="44" r="3"/><circle cx="128" cy="60" r="3"/><circle cx="113" cy="53" r="3"/><circle cx="99" cy="65" r="3"/><circle cx="123" cy="53" r="3"/><circle cx="91" cy="43" r="3"/><circle cx="112" cy="58" r="3"/><circle cx="108" cy="35" r="3"/><circle cx="119" cy="49" r="3"/><circle cx="118" cy="37" r="3"/><circle cx="107" cy="48" r="3"/><circle cx="99" cy="48" r="3"/><circle cx="121" cy="65" r="3"/><circle cx="118" cy="62" r="3"/><circle cx="112" cy="55" r="3"/><circle cx="102" cy="58" r="3"/><circle cx="104" cy="46" r="3"/><circle cx="104" cy="54" r="3"/><circle cx="95" cy="55" r="3"/><circle cx="109" cy="62" r="3"/><circle cx="105" cy="56" r="3"/><circle cx="103" cy="37" r="3"/><circle cx="111" cy="60" r="3"/><circle cx="125" cy="44" r="3"/><circle cx="104" cy="60" r="3"/><circle cx="99" cy="56" r="3"/><circle cx="113" cy="45" r="3"/><circle cx="104" cy="56" r="3"/><circle cx="105" cy="58" r="3"/><circle cx="102" cy="59" r="3"/><circle cx="105" cy="68" r="3"/><circle cx="106" cy="50" r="3"/><circle cx="122" cy="69" r="3"/><circle cx="107" cy="51" r="3"/><circle cx="106" cy="56" r="3"/><circle cx="110" cy="53" r="3"/><circle cx="110" cy="44" r="3"/><circle cx="111" cy="58" r="3"/><circle cx="127" cy="48" r="3"/><circle cx="125" cy="55" r="3"/><circle cx="108" cy="54" r="3"/><circle cx="93" cy="61" r="3"/><circle cx="108" cy="57" r="3"/><circle cx="109" cy="52" r="3"/><circle cx="104" cy="63" r="3"/><circle cx="100" cy="57" r="3"/><circle cx="95" cy="43" r="3"/><circle cx="119" cy="59" r="3"/><circle cx="99" cy="67" r="3"/><circle cx="115" cy="57" r="3"/><circle cx="110" cy="53" r="3"/><circle cx="93" cy="54" r="3"/><circle cx="113" cy="50" r="3"/><circle cx="116" cy="65" r="3"/><circle cx="130" cy="59" r="3"/><circle cx="102" cy="59" r="3"/><circle cx="120" cy="61" r="3"/><circle cx="123" cy="47" r="3"/><circle cx="106" cy="62" r="3"/><circle cx="119" cy="60" r="3"/><circle cx="96" cy="56" r="3"/><circle cx="102" cy="62" r="3"/><circle cx="84" cy="42" r="3"/><circle cx="107" cy="48" r="3"/><circle cx="118" cy="55" r="3"/><circle cx="86" cy="41" r="3"/><circle cx="93" cy="46" r="3"/><circle cx="101" cy="49" r="3"/><circle cx="92" cy="64" r="3"/><circle cx="102" cy="61" r="3"/><circle cx="128" cy="61" r="3"/><circle cx="98" cy="51" r="3"/><circle cx="108" cy="61" r="3"/><circle cx="108" cy="35" r="3"/><circle cx="122" cy="67" r="3"/></g>
<polygon points="92.0,63.0 98.0,59.0 106.0,59.0 112.0,64.0 115.0,90.0 130.0,112.0 145.0,122.0 135.0,125.5 126.0,126.0 115.0,124.0 108.0,121.5 102.0,117.0 100.0,114.0 96.0,107.0 94.0,100.0 91.8,90.0 91.0,80.0 91.0,68.0" fill="#4daf4a" opacity="0.85" filter="url(#bl3)"/>
<g fill="#4daf4a" fill-opacity="0.08"><circle cx="104.2" cy="120.9" r="3"/><circle cx="120.0" cy="127.8" r="3"/><circle cx="104.5" cy="123.8" r="3"/><circle cx="116.7" cy="94.5" r="3"/><circle cx="98.1" cy="114.2" r="3"/><circle cx="101.2" cy="113.7" r="3"/><circle cx="103.1" cy="59.8" r="3"/><circle cx="92.6" cy="93.2" r="3"/><circle cx="126.9" cy="108.1" r="3"/><circle cx="135.8" cy="116.3" r="3"/><circle cx="144.1" cy="121.8" r="3"/><circle cx="103.4" cy="116.0" r="3"/><circle cx="126.7" cy="109.7" r="3"/><circle cx="91.4" cy="87.7" r="3"/><circle cx="122.2" cy="96.6" r="3"/><circle cx="135.2" cy="126.0" r="3"/><circle cx="128.3" cy="95.1" r="3"/><circle cx="142.5" cy="117.4" r="3"/><circle cx="90.1" cy="79.2" r="3"/><circle cx="119.8" cy="125.5" r="3"/><circle cx="113.1" cy="65.1" r="3"/><circle cx="121.6" cy="102.7" r="3"/><circle cx="107.8" cy="62.9" r="3"/><circle cx="94.2" cy="93.6" r="3"/><circle cx="112.7" cy="61.2" r="3"/><circle cx="114.6" cy="92.4" r="3"/><circle cx="144.3" cy="124.7" r="3"/><circle cx="114.3" cy="73.1" r="3"/><circle cx="126.4" cy="107.0" r="3"/><circle cx="104.5" cy="56.1" r="3"/><circle cx="112.1" cy="69.2" r="3"/><circle cx="132.3" cy="125.7" r="3"/><circle cx="117.8" cy="124.9" r="3"/><circle cx="113.7" cy="85.9" r="3"/><circle cx="138.9" cy="118.1" r="3"/><circle cx="116.4" cy="90.4" r="3"/><circle cx="121.5" cy="80.5" r="3"/><circle cx="92.9" cy="95.4" r="3"/><circle cx="92.8" cy="73.9" r="3"/><circle cx="88.5" cy="74.9" r="3"/><circle cx="90.4" cy="94.3" r="3"/><circle cx="142.7" cy="120.6" r="3"/><circle cx="91.9" cy="74.8" r="3"/><circle cx="93.1" cy="88.6" r="3"/><circle cx="137.2" cy="117.9" r="3"/><circle cx="113.5" cy="83.5" r="3"/><circle cx="112.0" cy="76.6" r="3"/><circle cx="88.2" cy="79.6" r="3"/><circle cx="98.4" cy="60.5" r="3"/><circle cx="111.9" cy="66.4" r="3"/><circle cx="118.0" cy="124.4" r="3"/><circle cx="93.3" cy="57.3" r="3"/><circle cx="102.7" cy="53.6" r="3"/><circle cx="91.1" cy="77.8" r="3"/><circle cx="123.7" cy="101.4" r="3"/><circle cx="131.3" cy="125.0" r="3"/><circle cx="91.9" cy="73.0" r="3"/><circle cx="122.3" cy="100.5" r="3"/><circle cx="115.8" cy="83.4" r="3"/><circle cx="101.9" cy="59.6" r="3"/></g>
<polygon points="100.0,62.0 104.0,55.0 112.0,54.0 116.0,60.0 118.0,90.0 118.0,108.0 111.0,112.0 107.0,106.0 104.0,100.0 102.5,93.0 101.5,80.0 100.5,70.0" fill="#ffd700" opacity="0.9" filter="url(#bl4)"/>
<g fill="#ff7f00" fill-opacity="0.08"><circle cx="181" cy="107" r="3"/><circle cx="176" cy="106" r="3"/><circle cx="171" cy="108" r="3"/><circle cx="185" cy="115" r="3"/><circle cx="177" cy="105" r="3"/><circle cx="176" cy="99" r="3"/><circle cx="166" cy="118" r="3"/><circle cx="173" cy="116" r="3"/><circle cx="190" cy="110" r="3"/><circle cx="182" cy="113" r="3"/><circle cx="186" cy="98" r="3"/><circle cx="178" cy="106" r="3"/><circle cx="175" cy="110" r="3"/><circle cx="196" cy="103" r="3"/><circle cx="177" cy="116" r="3"/><circle cx="168" cy="110" r="3"/><circle cx="195" cy="113" r="3"/><circle cx="180" cy="111" r="3"/><circle cx="188" cy="117" r="3"/><circle cx="194" cy="104" r="3"/><circle cx="171" cy="117" r="3"/><circle cx="197" cy="105" r="3"/><circle cx="173" cy="116" r="3"/><circle cx="177" cy="113" r="3"/><circle cx="203" cy="113" r="3"/><circle cx="197" cy="104" r="3"/><circle cx="196" cy="104" r="3"/><circle cx="190" cy="120" r="3"/><circle cx="177" cy="111" r="3"/><circle cx="176" cy="120" r="3"/><circle cx="187" cy="113" r="3"/><circle cx="186" cy="121" r="3"/><circle cx="176" cy="105" r="3"/><circle cx="178" cy="122" r="3"/><circle cx="175" cy="106" r="3"/><circle cx="192" cy="93" r="3"/><circle cx="187" cy="109" r="3"/><circle cx="177" cy="109" r="3"/><circle cx="191" cy="113" r="3"/><circle cx="188" cy="113" r="3"/><circle cx="180" cy="111" r="3"/><circle cx="172" cy="113" r="3"/><circle cx="178" cy="103" r="3"/><circle cx="171" cy="118" r="3"/><circle cx="176" cy="106" r="3"/><circle cx="173" cy="110" r="3"/><circle cx="182" cy="95" r="3"/><circle cx="180" cy="114" r="3"/><circle cx="173" cy="108" r="3"/><circle cx="185" cy="110" r="3"/><circle cx="186" cy="115" r="3"/><circle cx="187" cy="117" r="3"/><circle cx="188" cy="118" r="3"/><circle cx="178" cy="104" r="3"/><circle cx="186" cy="104" r="3"/><circle cx="186" cy="102" r="3"/><circle cx="179" cy="124" r="3"/><circle cx="176" cy="113" r="3"/><circle cx="201" cy="117" r="3"/></g>
<polygon points="107.0,63.0 110.0,57.0 120.0,56.0 128.0,62.0 140.0,72.0 152.0,82.0 162.0,92.0 170.0,100.0 178.0,105.0 180.0,110.0 177.0,115.0 166.0,120.5 152.0,123.5 140.0,124.2 126.0,125.5 116.0,123.5 111.0,121.0 109.0,115.0 107.5,108.0 108.0,100.0 109.0,90.0 109.5,80.0 108.5,70.0" fill="#f7870a" opacity="1.0" filter="url(#bl5)"/>
<g fill="#ff7f00" fill-opacity="0.08"><circle cx="125.7" cy="123.8" r="3"/><circle cx="110.2" cy="112.8" r="3"/><circle cx="107.3" cy="96.8" r="3"/><circle cx="108.1" cy="83.4" r="3"/><circle cx="135.0" cy="124.9" r="3"/><circle cx="133.4" cy="62.7" r="3"/><circle cx="105.5" cy="74.1" r="3"/><circle cx="138.5" cy="134.1" r="3"/><circle cx="137.0" cy="122.5" r="3"/><circle cx="182.8" cy="112.1" r="3"/><circle cx="110.8" cy="119.2" r="3"/><circle cx="141.3" cy="69.0" r="3"/><circle cx="110.1" cy="60.1" r="3"/><circle cx="104.2" cy="93.9" r="3"/><circle cx="142.6" cy="75.2" r="3"/><circle cx="173.7" cy="114.7" r="3"/><circle cx="137.9" cy="61.3" r="3"/><circle cx="174.4" cy="126.3" r="3"/><circle cx="125.0" cy="62.1" r="3"/><circle cx="108.7" cy="100.3" r="3"/><circle cx="108.1" cy="99.7" r="3"/><circle cx="108.5" cy="110.6" r="3"/><circle cx="105.4" cy="62.1" r="3"/><circle cx="110.2" cy="96.5" r="3"/><circle cx="138.0" cy="124.0" r="3"/><circle cx="153.2" cy="123.7" r="3"/><circle cx="141.8" cy="69.0" r="3"/><circle cx="153.8" cy="82.3" r="3"/><circle cx="143.2" cy="76.9" r="3"/><circle cx="138.2" cy="72.3" r="3"/><circle cx="148.2" cy="127.4" r="3"/><circle cx="108.2" cy="85.6" r="3"/><circle cx="151.1" cy="82.3" r="3"/><circle cx="154.8" cy="86.4" r="3"/><circle cx="141.2" cy="71.1" r="3"/><circle cx="109.1" cy="81.8" r="3"/><circle cx="169.4" cy="120.2" r="3"/><circle cx="105.4" cy="61.1" r="3"/><circle cx="161.8" cy="121.0" r="3"/><circle cx="183.9" cy="112.4" r="3"/><circle cx="104.9" cy="90.0" r="3"/><circle cx="151.8" cy="123.1" r="3"/><circle cx="110.4" cy="74.8" r="3"/><circle cx="180.1" cy="113.5" r="3"/><circle cx="109.9" cy="70.3" r="3"/><circle cx="108.1" cy="72.9" r="3"/><circle cx="131.7" cy="63.8" r="3"/><circle cx="161.7" cy="88.5" r="3"/><circle cx="154.0" cy="124.8" r="3"/><circle cx="140.0" cy="70.8" r="3"/><circle cx="155.3" cy="80.7" r="3"/><circle cx="130.8" cy="66.4" r="3"/><circle cx="154.9" cy="123.5" r="3"/><circle cx="110.0" cy="94.5" r="3"/><circle cx="155.8" cy="81.7" r="3"/><circle cx="113.8" cy="58.5" r="3"/><circle cx="152.2" cy="123.5" r="3"/><circle cx="164.5" cy="96.6" r="3"/><circle cx="123.7" cy="130.2" r="3"/><circle cx="145.1" cy="126.2" r="3"/><circle cx="128.2" cy="55.4" r="3"/><circle cx="108.3" cy="120.5" r="3"/><circle cx="173.1" cy="102.7" r="3"/><circle cx="104.6" cy="108.2" r="3"/><circle cx="177.0" cy="117.5" r="3"/><circle cx="131.9" cy="132.5" r="3"/><circle cx="125.8" cy="45.3" r="3"/><circle cx="171.1" cy="93.7" r="3"/><circle cx="171.9" cy="100.0" r="3"/><circle cx="156.4" cy="84.2" r="3"/><circle cx="155.2" cy="122.3" r="3"/><circle cx="154.5" cy="82.0" r="3"/><circle cx="122.1" cy="59.8" r="3"/><circle cx="176.3" cy="113.3" r="3"/><circle cx="117.6" cy="123.9" r="3"/><circle cx="121.1" cy="123.6" r="3"/><circle cx="169.8" cy="99.9" r="3"/><circle cx="151.2" cy="81.0" r="3"/><circle cx="144.2" cy="77.7" r="3"/><circle cx="163.3" cy="95.7" r="3"/><circle cx="141.7" cy="69.7" r="3"/><circle cx="143.6" cy="126.2" r="3"/><circle cx="122.2" cy="127.7" r="3"/><circle cx="159.1" cy="86.0" r="3"/><circle cx="124.4" cy="60.8" r="3"/><circle cx="148.1" cy="79.2" r="3"/><circle cx="174.3" cy="114.1" r="3"/><circle cx="174.6" cy="102.5" r="3"/><circle cx="111.9" cy="57.6" r="3"/><circle cx="110.9" cy="120.5" r="3"/><circle cx="132.7" cy="66.0" r="3"/><circle cx="159.0" cy="123.1" r="3"/><circle cx="107.0" cy="102.7" r="3"/><circle cx="138.4" cy="69.8" r="3"/><circle cx="141.1" cy="69.4" r="3"/><circle cx="150.2" cy="79.3" r="3"/><circle cx="109.0" cy="72.8" r="3"/><circle cx="154.3" cy="78.4" r="3"/><circle cx="173.8" cy="115.3" r="3"/><circle cx="159.4" cy="89.0" r="3"/></g>
<g fill="#e41a1c" fill-opacity="0.08"><circle cx="147" cy="62" r="3"/><circle cx="173" cy="72" r="3"/><circle cx="177" cy="80" r="3"/><circle cx="136" cy="53" r="3"/><circle cx="131" cy="49" r="3"/><circle cx="133" cy="53" r="3"/><circle cx="144" cy="93" r="3"/><circle cx="163" cy="66" r="3"/><circle cx="115" cy="54" r="3"/><circle cx="188" cy="65" r="3"/><circle cx="158" cy="81" r="3"/><circle cx="178" cy="75" r="3"/><circle cx="170" cy="79" r="3"/><circle cx="167" cy="96" r="3"/><circle cx="174" cy="108" r="3"/><circle cx="134" cy="82" r="3"/><circle cx="172" cy="103" r="3"/><circle cx="185" cy="63" r="3"/><circle cx="126" cy="46" r="3"/><circle cx="174" cy="78" r="3"/><circle cx="192" cy="78" r="3"/><circle cx="182" cy="75" r="3"/><circle cx="117" cy="46" r="3"/><circle cx="176" cy="75" r="3"/><circle cx="169" cy="73" r="3"/><circle cx="166" cy="87" r="3"/><circle cx="146" cy="51" r="3"/><circle cx="160" cy="52" r="3"/><circle cx="162" cy="74" r="3"/><circle cx="139" cy="59" r="3"/><circle cx="192" cy="96" r="3"/><circle cx="169" cy="66" r="3"/><circle cx="126" cy="60" r="3"/><circle cx="150" cy="58" r="3"/><circle cx="185" cy="97" r="3"/></g>
<polygon points="115.0,67.0 119.0,64.5 127.0,62.5 136.0,63.0 146.0,68.5 155.0,75.0 163.0,82.0 169.0,90.0 172.0,99.0 169.0,105.5 160.0,107.0 148.0,107.0 140.0,106.0 130.8,103.0 125.0,99.5 120.0,95.0 115.0,89.0 112.5,83.0 112.0,77.0 113.0,71.0" fill="#ea2520" opacity="1.0" filter="url(#bl6)"/>
<g fill="#e41a1c" fill-opacity="0.08"><circle cx="134.4" cy="59.7" r="3"/><circle cx="164.3" cy="106.1" r="3"/><circle cx="114.3" cy="87.9" r="3"/><circle cx="111.3" cy="60.0" r="3"/><circle cx="128.6" cy="62.8" r="3"/><circle cx="107.3" cy="82.3" r="3"/><circle cx="154.9" cy="107.7" r="3"/><circle cx="128.4" cy="112.7" r="3"/><circle cx="119.4" cy="64.7" r="3"/><circle cx="134.9" cy="62.9" r="3"/><circle cx="123.4" cy="98.4" r="3"/><circle cx="127.3" cy="61.2" r="3"/><circle cx="149.4" cy="68.9" r="3"/><circle cx="169.8" cy="108.4" r="3"/><circle cx="131.3" cy="105.6" r="3"/><circle cx="156.7" cy="71.9" r="3"/><circle cx="126.7" cy="61.9" r="3"/><circle cx="122.6" cy="99.5" r="3"/><circle cx="117.2" cy="65.1" r="3"/><circle cx="148.7" cy="72.9" r="3"/><circle cx="140.4" cy="109.0" r="3"/><circle cx="113.5" cy="74.4" r="3"/><circle cx="131.5" cy="61.6" r="3"/><circle cx="110.3" cy="64.8" r="3"/><circle cx="163.8" cy="104.8" r="3"/><circle cx="171.6" cy="91.3" r="3"/><circle cx="112.1" cy="87.6" r="3"/><circle cx="115.9" cy="86.0" r="3"/><circle cx="135.8" cy="107.2" r="3"/><circle cx="165.8" cy="86.3" r="3"/><circle cx="116.5" cy="66.6" r="3"/><circle cx="152.8" cy="108.2" r="3"/><circle cx="112.6" cy="76.5" r="3"/><circle cx="164.2" cy="78.7" r="3"/><circle cx="137.4" cy="56.1" r="3"/><circle cx="170.1" cy="99.8" r="3"/><circle cx="153.5" cy="65.2" r="3"/><circle cx="162.5" cy="81.3" r="3"/><circle cx="153.3" cy="73.7" r="3"/><circle cx="109.3" cy="76.2" r="3"/><circle cx="159.8" cy="78.7" r="3"/><circle cx="140.9" cy="67.7" r="3"/><circle cx="106.2" cy="69.3" r="3"/><circle cx="112.7" cy="65.5" r="3"/><circle cx="113.3" cy="68.4" r="3"/><circle cx="163.5" cy="80.5" r="3"/><circle cx="115.2" cy="69.3" r="3"/><circle cx="153.2" cy="72.9" r="3"/><circle cx="133.8" cy="105.3" r="3"/><circle cx="112.6" cy="81.1" r="3"/><circle cx="168.4" cy="93.5" r="3"/><circle cx="132.5" cy="62.6" r="3"/><circle cx="110.0" cy="69.5" r="3"/><circle cx="117.1" cy="89.1" r="3"/><circle cx="114.1" cy="67.1" r="3"/><circle cx="148.5" cy="105.9" r="3"/><circle cx="128.4" cy="103.2" r="3"/><circle cx="170.2" cy="95.9" r="3"/><circle cx="122.8" cy="65.6" r="3"/><circle cx="164.9" cy="82.2" r="3"/><circle cx="111.5" cy="86.5" r="3"/><circle cx="147.2" cy="105.2" r="3"/><circle cx="127.4" cy="62.4" r="3"/><circle cx="147.1" cy="70.1" r="3"/><circle cx="111.5" cy="86.5" r="3"/><circle cx="151.0" cy="70.1" r="3"/><circle cx="120.3" cy="65.9" r="3"/><circle cx="119.7" cy="92.6" r="3"/><circle cx="148.2" cy="109.7" r="3"/><circle cx="114.8" cy="65.0" r="3"/><circle cx="129.7" cy="57.0" r="3"/><circle cx="163.7" cy="85.4" r="3"/><circle cx="167.8" cy="88.3" r="3"/><circle cx="156.7" cy="76.8" r="3"/><circle cx="140.0" cy="62.5" r="3"/><circle cx="112.1" cy="79.4" r="3"/><circle cx="151.2" cy="106.7" r="3"/><circle cx="125.7" cy="98.8" r="3"/><circle cx="134.9" cy="102.6" r="3"/><circle cx="126.8" cy="63.3" r="3"/><circle cx="122.6" cy="59.6" r="3"/><circle cx="170.1" cy="105.3" r="3"/><circle cx="157.2" cy="111.4" r="3"/><circle cx="171.0" cy="92.8" r="3"/><circle cx="157.2" cy="105.7" r="3"/><circle cx="117.9" cy="89.6" r="3"/><circle cx="151.3" cy="69.6" r="3"/><circle cx="167.4" cy="106.0" r="3"/><circle cx="136.1" cy="107.7" r="3"/><circle cx="170.9" cy="100.9" r="3"/><circle cx="142.1" cy="106.1" r="3"/><circle cx="122.3" cy="60.5" r="3"/><circle cx="173.6" cy="92.1" r="3"/><circle cx="116.6" cy="63.2" r="3"/><circle cx="130.3" cy="102.9" r="3"/><circle cx="138.3" cy="58.2" r="3"/><circle cx="141.3" cy="62.7" r="3"/><circle cx="118.3" cy="91.8" r="3"/><circle cx="136.6" cy="113.2" r="3"/><circle cx="143.6" cy="69.3" r="3"/></g>
</g>
<rect x="62.9" y="1.0" width="143.1" height="142.9" fill="none" stroke="#333333" stroke-width="1.5"/>
<line x1="69.30" y1="143.9" x2="69.30" y2="147.8" stroke="#333333" stroke-width="1.6"/>
<text x="69.30" y="160.30" font-size="12.5" text-anchor="middle" fill="#4d4d4d" font-weight="normal" >0</text>
<line x1="101.90" y1="143.9" x2="101.90" y2="147.8" stroke="#333333" stroke-width="1.6"/>
<text x="101.90" y="160.30" font-size="12.5" text-anchor="middle" fill="#4d4d4d" font-weight="normal" >1</text>
<line x1="134.50" y1="143.9" x2="134.50" y2="147.8" stroke="#333333" stroke-width="1.6"/>
<text x="134.50" y="160.30" font-size="12.5" text-anchor="middle" fill="#4d4d4d" font-weight="normal" >2</text>
<line x1="167.10" y1="143.9" x2="167.10" y2="147.8" stroke="#333333" stroke-width="1.6"/>
<text x="167.10" y="160.30" font-size="12.5" text-anchor="middle" fill="#4d4d4d" font-weight="normal" >3</text>
<line x1="199.70" y1="143.9" x2="199.70" y2="147.8" stroke="#333333" stroke-width="1.6"/>
<text x="199.70" y="160.30" font-size="12.5" text-anchor="middle" fill="#4d4d4d" font-weight="normal" >4</text>
<line x1="59.0" y1="137.40" x2="62.9" y2="137.40" stroke="#333333" stroke-width="1.6"/>
<text x="55.40" y="142.00" font-size="12.5" text-anchor="end" fill="#4d4d4d" font-weight="normal" >0.0</text>
<line x1="59.0" y1="104.90" x2="62.9" y2="104.90" stroke="#333333" stroke-width="1.6"/>
<text x="55.40" y="109.50" font-size="12.5" text-anchor="end" fill="#4d4d4d" font-weight="normal" >0.5</text>
<line x1="59.0" y1="72.40" x2="62.9" y2="72.40" stroke="#333333" stroke-width="1.6"/>
<text x="55.40" y="77.00" font-size="12.5" text-anchor="end" fill="#4d4d4d" font-weight="normal" >1.0</text>
<line x1="59.0" y1="39.90" x2="62.9" y2="39.90" stroke="#333333" stroke-width="1.6"/>
<text x="55.40" y="44.50" font-size="12.5" text-anchor="end" fill="#4d4d4d" font-weight="normal" >1.5</text>
<line x1="59.0" y1="7.40" x2="62.9" y2="7.40" stroke="#333333" stroke-width="1.6"/>
<text x="55.40" y="12.00" font-size="12.5" text-anchor="end" fill="#4d4d4d" font-weight="normal" >2.0</text>
<text x="134.50" y="182.50" font-size="15.6" text-anchor="middle" fill="#000">σ (km<tspan dy="-7.9" font-size="11.2">3</tspan><tspan dy="7.9" dx="0.3">)</tspan></text>
<text x="0" y="0" font-size="15.6" text-anchor="middle" fill="#000" transform="translate(31 72) rotate(-90)">k</text>
<line x1="69.30" y1="205.0" x2="69.30" y2="347.9" stroke="#e9e9e9" stroke-width="1.25"/>
<line x1="85.60" y1="205.0" x2="85.60" y2="347.9" stroke="#e9e9e9" stroke-width="0.9"/>
<line x1="101.90" y1="205.0" x2="101.90" y2="347.9" stroke="#e9e9e9" stroke-width="1.25"/>
<line x1="118.20" y1="205.0" x2="118.20" y2="347.9" stroke="#e9e9e9" stroke-width="0.9"/>
<line x1="134.50" y1="205.0" x2="134.50" y2="347.9" stroke="#e9e9e9" stroke-width="1.25"/>
<line x1="150.80" y1="205.0" x2="150.80" y2="347.9" stroke="#e9e9e9" stroke-width="0.9"/>
<line x1="167.10" y1="205.0" x2="167.10" y2="347.9" stroke="#e9e9e9" stroke-width="1.25"/>
<line x1="183.40" y1="205.0" x2="183.40" y2="347.9" stroke="#e9e9e9" stroke-width="0.9"/>
<line x1="199.70" y1="205.0" x2="199.70" y2="347.9" stroke="#e9e9e9" stroke-width="1.25"/>
<line x1="62.9" y1="341.40" x2="206.0" y2="341.40" stroke="#e9e9e9" stroke-width="1.25"/>
<line x1="62.9" y1="325.15" x2="206.0" y2="325.15" stroke="#e9e9e9" stroke-width="0.9"/>
<line x1="62.9" y1="308.90" x2="206.0" y2="308.90" stroke="#e9e9e9" stroke-width="1.25"/>
<line x1="62.9" y1="292.65" x2="206.0" y2="292.65" stroke="#e9e9e9" stroke-width="0.9"/>
<line x1="62.9" y1="276.40" x2="206.0" y2="276.40" stroke="#e9e9e9" stroke-width="1.25"/>
<line x1="62.9" y1="260.15" x2="206.0" y2="260.15" stroke="#e9e9e9" stroke-width="0.9"/>
<line x1="62.9" y1="243.90" x2="206.0" y2="243.90" stroke="#e9e9e9" stroke-width="1.25"/>
<line x1="62.9" y1="227.65" x2="206.0" y2="227.65" stroke="#e9e9e9" stroke-width="0.9"/>
<line x1="62.9" y1="211.40" x2="206.0" y2="211.40" stroke="#e9e9e9" stroke-width="1.25"/>
<g clip-path="url(#clip204)">
<polygon points="100.0,270.0 98.0,284.0 102.0,304.0 115.0,316.0 140.0,320.0 160.0,312.0 150.0,276.0 120.0,266.0" fill="#bebebe" opacity="0.6" filter="url(#bl8)"/>
<polygon points="118.0,315.0 127.0,321.5 138.0,325.0 150.0,326.5 160.0,325.5 166.0,322.0 162.0,316.0 145.0,316.0 128.0,314.0" fill="#6a3d9a" opacity="0.8" filter="url(#bl9)"/>
<g fill="#6a3d9a" fill-opacity="0.08"><circle cx="128.3" cy="308.4" r="3"/><circle cx="126.7" cy="318.5" r="3"/><circle cx="136.7" cy="324.6" r="3"/><circle cx="151.1" cy="318.6" r="3"/><circle cx="131.5" cy="323.0" r="3"/><circle cx="142.8" cy="330.0" r="3"/><circle cx="129.6" cy="316.3" r="3"/><circle cx="140.0" cy="316.9" r="3"/><circle cx="155.2" cy="318.8" r="3"/><circle cx="121.7" cy="314.6" r="3"/><circle cx="154.2" cy="316.7" r="3"/><circle cx="135.6" cy="317.1" r="3"/><circle cx="148.4" cy="312.2" r="3"/><circle cx="149.7" cy="316.1" r="3"/><circle cx="164.4" cy="318.4" r="3"/><circle cx="122.7" cy="313.6" r="3"/><circle cx="134.2" cy="316.8" r="3"/><circle cx="148.3" cy="331.5" r="3"/><circle cx="119.7" cy="317.9" r="3"/><circle cx="120.3" cy="322.1" r="3"/><circle cx="149.1" cy="316.2" r="3"/><circle cx="141.2" cy="323.4" r="3"/><circle cx="142.4" cy="317.9" r="3"/><circle cx="123.4" cy="321.6" r="3"/><circle cx="145.7" cy="318.5" r="3"/><circle cx="138.3" cy="314.2" r="3"/><circle cx="118.1" cy="318.3" r="3"/><circle cx="146.3" cy="318.1" r="3"/><circle cx="153.5" cy="309.2" r="3"/><circle cx="149.8" cy="315.4" r="3"/><circle cx="113.9" cy="314.0" r="3"/><circle cx="150.2" cy="325.7" r="3"/><circle cx="134.2" cy="321.9" r="3"/><circle cx="164.0" cy="322.7" r="3"/><circle cx="135.6" cy="308.8" r="3"/><circle cx="149.2" cy="314.1" r="3"/><circle cx="168.0" cy="321.4" r="3"/><circle cx="146.0" cy="318.0" r="3"/><circle cx="153.6" cy="323.9" r="3"/><circle cx="121.9" cy="313.6" r="3"/><circle cx="132.5" cy="317.0" r="3"/><circle cx="150.6" cy="324.6" r="3"/><circle cx="155.1" cy="326.9" r="3"/><circle cx="168.6" cy="324.1" r="3"/><circle cx="134.6" cy="317.1" r="3"/><circle cx="156.3" cy="312.1" r="3"/><circle cx="128.1" cy="324.5" r="3"/><circle cx="143.2" cy="318.6" r="3"/><circle cx="141.5" cy="315.6" r="3"/><circle cx="124.1" cy="318.3" r="3"/><circle cx="113.2" cy="315.0" r="3"/><circle cx="155.6" cy="319.0" r="3"/><circle cx="139.8" cy="326.4" r="3"/><circle cx="149.8" cy="327.7" r="3"/><circle cx="157.9" cy="325.5" r="3"/><circle cx="148.6" cy="315.5" r="3"/><circle cx="148.7" cy="327.3" r="3"/><circle cx="119.5" cy="313.0" r="3"/><circle cx="136.9" cy="326.5" r="3"/><circle cx="152.8" cy="323.4" r="3"/></g>
<polygon points="103.0,270.0 99.0,275.0 97.0,281.0 97.3,290.0 100.5,299.5 105.5,309.0 113.0,315.5 123.0,319.5 135.0,321.0 150.0,320.0 160.0,309.0 150.0,276.0 120.0,268.0" fill="#ff7f00" opacity="0.95" filter="url(#bl10)"/>
<g fill="#ff7f00" fill-opacity="0.08"><circle cx="123.8" cy="318.6" r="3"/><circle cx="157.6" cy="315.9" r="3"/><circle cx="160.4" cy="312.3" r="3"/><circle cx="150.9" cy="289.3" r="3"/><circle cx="142.0" cy="276.1" r="3"/><circle cx="141.4" cy="320.0" r="3"/><circle cx="158.9" cy="311.3" r="3"/><circle cx="120.0" cy="266.2" r="3"/><circle cx="108.5" cy="269.7" r="3"/><circle cx="139.6" cy="320.9" r="3"/><circle cx="161.0" cy="307.1" r="3"/><circle cx="150.5" cy="275.5" r="3"/><circle cx="131.9" cy="322.7" r="3"/><circle cx="130.1" cy="320.2" r="3"/><circle cx="152.6" cy="320.7" r="3"/><circle cx="116.3" cy="316.2" r="3"/><circle cx="98.7" cy="295.2" r="3"/><circle cx="117.1" cy="270.1" r="3"/><circle cx="102.3" cy="303.3" r="3"/><circle cx="139.5" cy="321.3" r="3"/><circle cx="150.8" cy="285.6" r="3"/><circle cx="141.0" cy="275.3" r="3"/><circle cx="96.7" cy="287.8" r="3"/><circle cx="100.0" cy="277.6" r="3"/><circle cx="105.1" cy="272.3" r="3"/><circle cx="130.8" cy="270.0" r="3"/><circle cx="113.9" cy="315.5" r="3"/><circle cx="135.1" cy="272.1" r="3"/><circle cx="150.5" cy="286.9" r="3"/><circle cx="132.0" cy="271.7" r="3"/><circle cx="100.0" cy="268.2" r="3"/><circle cx="103.2" cy="298.6" r="3"/><circle cx="144.0" cy="269.2" r="3"/><circle cx="114.4" cy="316.9" r="3"/><circle cx="146.1" cy="318.7" r="3"/><circle cx="114.7" cy="266.9" r="3"/><circle cx="132.8" cy="318.8" r="3"/><circle cx="110.0" cy="311.2" r="3"/><circle cx="109.0" cy="268.0" r="3"/><circle cx="155.8" cy="311.6" r="3"/><circle cx="137.8" cy="275.1" r="3"/><circle cx="94.1" cy="279.2" r="3"/><circle cx="147.3" cy="275.1" r="3"/><circle cx="102.0" cy="301.1" r="3"/><circle cx="122.3" cy="271.7" r="3"/><circle cx="112.8" cy="268.1" r="3"/><circle cx="94.0" cy="282.7" r="3"/><circle cx="97.8" cy="294.5" r="3"/><circle cx="97.5" cy="292.9" r="3"/><circle cx="152.4" cy="321.2" r="3"/></g>
<polygon points="106.0,270.0 103.5,279.0 103.5,294.0 107.0,304.0 113.0,311.0 122.0,316.0 135.0,318.0 150.0,318.0 158.0,315.0 160.0,304.0 150.0,284.0 135.0,272.0 115.0,267.0" fill="#33a02c" opacity="0.95" filter="url(#bl11)"/>
<g fill="#33a02c" fill-opacity="0.1"><circle cx="144.0" cy="321.6" r="3"/><circle cx="102.0" cy="278.8" r="3"/><circle cx="110.7" cy="271.0" r="3"/><circle cx="155.2" cy="298.7" r="3"/><circle cx="141.4" cy="274.8" r="3"/><circle cx="144.4" cy="282.1" r="3"/><circle cx="151.1" cy="289.4" r="3"/><circle cx="126.6" cy="267.5" r="3"/><circle cx="145.0" cy="282.8" r="3"/><circle cx="106.4" cy="295.2" r="3"/><circle cx="107.4" cy="272.4" r="3"/><circle cx="136.6" cy="326.2" r="3"/><circle cx="120.0" cy="313.7" r="3"/><circle cx="154.5" cy="291.3" r="3"/><circle cx="135.3" cy="272.1" r="3"/><circle cx="155.5" cy="314.1" r="3"/><circle cx="135.2" cy="275.5" r="3"/><circle cx="158.2" cy="311.9" r="3"/><circle cx="123.5" cy="271.9" r="3"/><circle cx="157.3" cy="293.2" r="3"/><circle cx="132.4" cy="314.7" r="3"/><circle cx="114.0" cy="308.2" r="3"/><circle cx="126.1" cy="314.4" r="3"/><circle cx="125.9" cy="270.2" r="3"/><circle cx="159.6" cy="305.5" r="3"/><circle cx="125.9" cy="270.4" r="3"/><circle cx="116.6" cy="269.2" r="3"/><circle cx="135.4" cy="325.8" r="3"/><circle cx="105.0" cy="274.0" r="3"/><circle cx="140.5" cy="268.2" r="3"/><circle cx="104.3" cy="271.1" r="3"/><circle cx="150.9" cy="291.5" r="3"/><circle cx="158.1" cy="298.6" r="3"/><circle cx="143.3" cy="318.4" r="3"/><circle cx="111.3" cy="313.9" r="3"/><circle cx="109.5" cy="268.0" r="3"/><circle cx="142.5" cy="275.0" r="3"/><circle cx="108.0" cy="304.6" r="3"/><circle cx="104.6" cy="272.8" r="3"/><circle cx="156.1" cy="286.8" r="3"/><circle cx="106.7" cy="278.8" r="3"/><circle cx="161.3" cy="305.9" r="3"/><circle cx="117.1" cy="269.3" r="3"/><circle cx="104.1" cy="295.2" r="3"/><circle cx="105.8" cy="305.4" r="3"/><circle cx="156.5" cy="322.9" r="3"/><circle cx="156.4" cy="302.3" r="3"/><circle cx="162.7" cy="309.3" r="3"/><circle cx="163.0" cy="299.9" r="3"/><circle cx="142.4" cy="315.0" r="3"/><circle cx="97.9" cy="297.9" r="3"/><circle cx="116.5" cy="316.2" r="3"/><circle cx="143.3" cy="278.3" r="3"/><circle cx="156.9" cy="283.8" r="3"/><circle cx="116.9" cy="309.9" r="3"/><circle cx="157.4" cy="302.2" r="3"/><circle cx="131.9" cy="317.1" r="3"/><circle cx="104.5" cy="293.6" r="3"/><circle cx="107.0" cy="270.1" r="3"/><circle cx="121.4" cy="317.5" r="3"/></g>
<g filter="url(#bl12)">
<polygon points="130.7,245.0 132.0,244.9 134.0,244.8 136.0,244.8 138.0,244.7 140.0,244.7 142.0,244.8 144.0,244.8 146.0,244.9 147.5,245.0 149.0,245.1 151.0,245.3 153.0,245.5 155.0,245.7 157.0,246.0 158.0,246.1 160.0,246.4 162.0,246.8 163.0,247.0 165.0,247.4 167.0,247.9 168.0,248.2 170.0,248.7 171.0,249.0 173.0,249.6 174.2,250.0 176.0,250.6 177.1,251.0 179.0,251.7 180.0,252.1 182.0,253.0 183.0,253.4 184.2,254.0 186.0,254.8 187.0,255.4 188.2,256.0 190.0,257.0 191.0,257.6 192.0,258.2 193.2,259.0 194.7,260.0 195.9,261.0 197.0,262.0 197.9,263.0 198.7,264.0 199.4,265.0 200.0,266.2 200.8,268.0 201.1,269.0 201.7,271.0 202.0,272.3 202.3,274.0 202.7,276.0 203.0,277.9 203.1,279.0 203.4,281.0 203.6,283.0 203.8,285.0 204.0,287.0 204.1,288.0 204.2,290.0 204.3,292.0 204.4,294.0 204.5,296.0 204.5,298.0 204.5,300.0 204.5,302.0 204.5,304.0 204.5,306.0 204.4,308.0 204.3,310.0 204.2,312.0 204.1,314.0 204.0,315.0 203.8,317.0 203.5,319.0 203.1,321.0 202.8,322.0 202.0,323.8 201.1,325.0 200.0,325.8 199.0,326.3 197.0,326.9 196.0,327.2 194.0,327.5 192.0,327.7 190.0,328.0 189.0,328.1 187.0,328.3 185.0,328.5 183.0,328.6 181.0,328.8 179.0,328.9 177.2,329.0 176.9,329.0 175.0,328.6 173.7,328.0 172.0,327.0 171.0,326.5 170.0,325.6 169.0,324.8 168.0,324.0 166.6,323.0 165.4,322.0 164.3,321.0 163.0,320.0 162.0,319.4 161.0,318.6 160.0,317.8 158.6,317.0 157.0,316.4 155.9,316.0 154.0,315.8 152.0,315.9 151.0,316.1 149.0,316.4 147.0,316.8 145.3,317.0 144.0,317.2 142.0,317.4 140.0,317.4 138.0,317.4 136.0,317.2 134.7,317.0 133.0,316.8 131.0,316.4 129.8,316.0 128.0,315.5 126.7,315.0 125.0,314.3 124.0,313.9 122.3,313.0 121.0,312.3 120.0,311.7 119.0,311.0 117.6,310.0 116.4,309.0 115.3,308.0 114.2,307.0 113.3,306.0 112.4,305.0 111.6,304.0 110.9,303.0 110.0,301.7 109.0,300.1 108.4,299.0 107.9,298.0 107.1,296.0 106.7,295.0 106.1,293.0 105.8,292.0 105.4,290.0 105.1,288.0 105.0,286.0 105.1,284.0 105.2,282.0 105.5,280.0 105.9,278.0 106.2,277.0 106.8,275.0 107.1,274.0 107.8,272.0 108.1,271.0 108.6,269.0 108.6,267.0 108.2,265.0 107.8,264.0 107.0,262.3 106.3,261.0 105.7,260.0 105.0,258.7 104.0,257.1 103.4,256.0 102.8,255.0 102.0,253.3 101.6,252.0 102.0,250.7 103.6,250.0 105.0,249.4 106.3,249.0 108.0,248.5 109.8,248.0 111.0,247.7 113.0,247.3 114.3,247.0 116.0,246.7 118.0,246.3 120.0,246.1 121.0,245.9 123.0,245.7 125.0,245.4 127.0,245.3 129.0,245.1 130.7,245.0" fill="#1f78b4" fill-opacity="0.100"/>
<polygon points="135.7,249.0 137.0,249.0 139.0,248.9 141.0,248.9 143.0,249.0 144.6,249.0 146.0,249.1 148.0,249.2 150.0,249.3 152.0,249.5 154.0,249.7 156.0,250.0 157.0,250.1 159.0,250.5 161.0,250.8 162.0,251.0 164.0,251.5 166.0,251.9 167.0,252.2 169.0,252.8 170.0,253.1 172.0,253.7 173.0,254.0 175.0,254.8 176.0,255.1 178.0,256.0 179.0,256.4 180.3,257.0 182.0,257.8 183.0,258.3 184.3,259.0 186.0,259.9 187.0,260.5 188.0,261.1 189.4,262.0 190.9,263.0 192.0,263.8 193.0,264.6 194.0,265.4 195.0,266.2 196.0,267.2 197.0,268.3 198.0,269.6 198.8,271.0 199.3,272.0 200.0,273.7 200.4,275.0 201.0,276.9 201.2,278.0 201.7,280.0 202.0,281.7 202.2,283.0 202.5,285.0 202.7,287.0 202.9,289.0 203.0,290.2 203.1,292.0 203.2,294.0 203.3,296.0 203.4,298.0 203.4,300.0 203.4,302.0 203.4,304.0 203.3,306.0 203.3,308.0 203.1,310.0 203.0,312.0 202.9,313.0 202.7,315.0 202.4,317.0 202.0,318.9 201.7,320.0 201.0,321.6 200.0,323.0 199.0,323.8 198.0,324.4 196.3,325.0 195.0,325.3 193.0,325.7 191.6,326.0 190.0,326.2 188.0,326.5 186.0,326.8 184.0,327.0 183.0,327.1 181.0,327.3 179.0,327.5 177.0,327.6 175.0,327.6 173.0,327.1 172.0,326.5 171.0,325.9 169.7,325.0 168.4,324.0 167.1,323.0 166.0,322.1 165.0,321.3 164.0,320.5 163.0,319.7 162.0,318.9 160.8,318.0 159.2,317.0 158.0,316.4 157.0,315.9 155.0,315.4 153.0,315.4 151.0,315.6 149.0,315.9 148.0,316.1 146.0,316.4 144.0,316.7 142.0,316.8 140.0,316.9 138.0,316.8 136.0,316.7 134.0,316.4 132.0,316.0 131.0,315.8 129.0,315.3 128.0,314.9 126.0,314.2 125.0,313.8 123.5,313.0 122.0,312.2 121.0,311.7 120.0,311.0 118.6,310.0 117.3,309.0 116.1,308.0 115.1,307.0 114.1,306.0 113.2,305.0 112.3,304.0 111.6,303.0 110.9,302.0 110.0,300.6 109.1,299.0 108.5,298.0 108.0,296.8 107.3,295.0 107.0,294.0 106.4,292.0 106.0,290.1 105.8,289.0 105.6,287.0 105.5,285.0 105.6,283.0 105.9,281.0 106.0,280.0 106.4,278.0 107.0,276.2 107.4,275.0 108.0,273.2 108.4,272.0 109.0,270.3 109.3,269.0 109.4,267.0 109.0,265.3 108.6,264.0 108.0,262.9 107.0,261.0 106.6,260.0 105.9,259.0 105.0,257.0 104.9,256.0 105.5,255.0 107.0,254.3 108.0,253.9 110.0,253.2 111.0,252.8 113.0,252.2 114.0,252.0 116.0,251.5 118.0,251.1 119.0,250.9 121.0,250.5 123.0,250.2 124.1,250.0 126.0,249.8 128.0,249.5 130.0,249.3 132.0,249.2 134.0,249.1 135.7,249.0" fill="#1f78b4" fill-opacity="0.111"/>
<polygon points="134.2,253.0 136.0,252.9 138.0,252.8 140.0,252.8 142.0,252.8 144.0,252.8 146.0,252.9 147.8,253.0 149.0,253.1 151.0,253.3 153.0,253.5 155.0,253.8 156.6,254.0 158.0,254.2 160.0,254.6 161.8,255.0 163.0,255.3 165.0,255.8 166.0,256.1 168.0,256.7 169.1,257.0 171.0,257.7 172.0,258.0 174.0,258.8 175.0,259.2 176.7,260.0 178.0,260.6 179.0,261.1 180.7,262.0 182.0,262.7 183.0,263.3 184.1,264.0 185.7,265.0 187.0,265.9 188.0,266.6 189.0,267.3 190.0,268.0 191.2,269.0 192.3,270.0 193.3,271.0 194.3,272.0 195.2,273.0 196.0,274.0 197.0,275.3 198.0,277.0 198.5,278.0 199.0,279.1 199.7,281.0 200.0,282.0 200.5,284.0 200.9,286.0 201.1,287.0 201.4,289.0 201.6,291.0 201.8,293.0 202.0,295.0 202.0,296.0 202.1,298.0 202.1,300.0 202.1,302.0 202.1,304.0 202.0,306.0 202.0,307.0 201.8,309.0 201.6,311.0 201.4,313.0 201.0,315.0 200.8,316.0 200.2,318.0 199.7,319.0 199.0,320.1 198.0,321.2 196.8,322.0 195.0,322.8 194.0,323.2 192.0,323.8 191.0,324.0 189.0,324.4 187.0,324.8 186.0,325.0 184.0,325.3 182.0,325.6 180.0,325.8 178.1,326.0 177.0,326.1 175.0,326.3 173.0,326.2 172.0,326.0 170.3,325.0 169.0,324.1 168.0,323.3 167.0,322.5 166.0,321.8 165.0,321.0 163.8,320.0 162.5,319.0 161.2,318.0 160.0,317.2 159.0,316.6 157.9,316.0 156.0,315.3 154.8,315.0 153.0,314.9 151.7,315.0 150.0,315.3 148.0,315.6 146.0,316.0 145.0,316.1 143.0,316.3 141.0,316.4 139.0,316.4 137.0,316.3 135.0,316.1 134.0,316.0 132.0,315.6 130.0,315.1 129.0,314.8 127.0,314.1 126.0,313.7 124.5,313.0 123.0,312.3 122.0,311.7 120.9,311.0 119.4,310.0 118.1,309.0 117.0,308.1 116.0,307.2 115.0,306.3 114.0,305.2 113.0,304.0 112.2,303.0 111.5,302.0 110.8,301.0 110.0,299.7 109.1,298.0 108.6,297.0 108.0,295.5 107.5,294.0 107.0,292.4 106.6,291.0 106.3,289.0 106.1,287.0 106.0,285.0 106.1,283.0 106.3,281.0 106.7,279.0 107.0,277.8 107.5,276.0 108.0,274.7 108.6,273.0 109.0,272.0 109.7,270.0 110.0,269.0 110.2,267.0 110.0,265.5 109.6,264.0 109.0,262.6 108.6,261.0 109.0,259.5 110.0,258.8 111.7,258.0 113.0,257.4 114.1,257.0 116.0,256.3 117.0,256.0 119.0,255.4 120.7,255.0 122.0,254.7 124.0,254.3 125.6,254.0 127.0,253.8 129.0,253.5 131.0,253.3 133.0,253.1 134.2,253.0" fill="#1f78b4" fill-opacity="0.125"/>
<polygon points="135.1,257.0 137.0,256.9 139.0,256.8 141.0,256.7 143.0,256.7 145.0,256.8 147.0,256.9 148.2,257.0 150.0,257.2 152.0,257.4 154.0,257.7 156.0,258.0 157.0,258.2 159.0,258.6 160.8,259.0 162.0,259.3 164.0,259.9 165.0,260.2 167.0,260.8 168.0,261.2 170.0,261.9 171.0,262.3 172.5,263.0 174.0,263.7 175.0,264.2 176.6,265.0 178.0,265.8 179.0,266.4 180.1,267.0 181.7,268.0 183.0,268.9 184.0,269.6 185.0,270.4 186.0,271.2 187.0,272.1 188.1,273.0 189.2,274.0 190.2,275.0 191.3,276.0 192.2,277.0 193.1,278.0 194.0,279.0 195.0,280.3 196.0,281.7 196.8,283.0 197.3,284.0 198.0,285.6 198.5,287.0 199.0,288.6 199.3,290.0 199.7,292.0 200.0,293.8 200.1,295.0 200.3,297.0 200.4,299.0 200.4,301.0 200.4,303.0 200.3,305.0 200.1,307.0 200.0,308.3 199.7,310.0 199.3,312.0 199.0,313.0 198.2,315.0 197.7,316.0 197.0,317.0 196.0,318.1 194.9,319.0 193.4,320.0 192.0,320.7 191.0,321.1 189.0,321.9 188.0,322.2 186.0,322.7 184.9,323.0 183.0,323.4 181.0,323.8 179.6,324.0 178.0,324.2 176.0,324.5 174.0,324.7 172.0,324.8 170.0,324.2 169.0,323.6 168.0,323.0 166.7,322.0 165.5,321.0 164.2,320.0 163.0,319.1 162.0,318.3 161.0,317.5 160.0,316.9 158.5,316.0 157.0,315.3 156.0,314.9 154.0,314.6 152.0,314.6 150.0,314.9 149.0,315.0 147.0,315.4 145.0,315.7 143.0,315.9 141.2,316.0 140.0,316.0 138.6,316.0 137.0,315.9 135.0,315.7 133.0,315.4 131.4,315.0 130.0,314.6 128.0,314.0 127.0,313.6 125.5,313.0 124.0,312.3 123.0,311.8 121.7,311.0 120.1,310.0 119.0,309.2 118.0,308.4 117.0,307.6 116.0,306.6 115.0,305.6 114.0,304.5 113.0,303.3 112.0,302.0 111.3,301.0 110.7,300.0 110.0,298.8 109.1,297.0 108.7,296.0 108.0,294.2 107.6,293.0 107.1,291.0 106.9,290.0 106.6,288.0 106.5,286.0 106.5,284.0 106.6,282.0 106.9,280.0 107.2,279.0 107.7,277.0 108.0,276.0 108.8,274.0 109.2,273.0 110.0,271.1 110.5,270.0 111.0,268.2 111.3,267.0 111.9,265.0 112.7,264.0 114.0,263.1 115.0,262.5 116.0,262.0 118.0,261.0 119.0,260.6 120.5,260.0 122.0,259.5 123.6,259.0 125.0,258.6 127.0,258.2 128.0,258.0 130.0,257.6 132.0,257.3 134.0,257.1 135.1,257.0" fill="#1f78b4" fill-opacity="0.143"/>
<polygon points="135.7,260.0 137.0,259.9 139.0,259.9 141.0,259.9 143.0,260.0 144.0,260.1 146.0,260.2 148.0,260.4 150.0,260.8 151.3,261.0 153.0,261.3 155.0,261.8 156.0,262.1 158.0,262.6 159.3,263.0 161.0,263.5 162.3,264.0 164.0,264.6 165.0,265.1 167.0,265.9 168.0,266.3 169.4,267.0 171.0,267.8 172.0,268.3 173.2,269.0 174.9,270.0 176.0,270.7 177.0,271.4 178.0,272.1 179.3,273.0 180.6,274.0 181.9,275.0 183.0,275.9 184.0,276.7 185.0,277.6 186.0,278.5 187.0,279.5 188.0,280.5 189.0,281.5 190.0,282.6 191.0,283.8 192.0,285.0 192.7,286.0 193.4,287.0 194.0,288.0 195.0,289.9 195.5,291.0 196.0,292.4 196.5,294.0 196.9,296.0 197.1,297.0 197.3,299.0 197.3,301.0 197.3,303.0 197.1,305.0 196.9,306.0 196.4,308.0 196.0,309.2 195.2,311.0 194.6,312.0 194.0,313.0 193.0,314.3 192.0,315.3 191.0,316.2 190.0,317.0 188.5,318.0 187.0,318.8 186.0,319.3 184.3,320.0 183.0,320.4 181.3,321.0 180.0,321.3 178.0,321.8 177.0,322.0 175.0,322.3 173.0,322.6 171.0,322.9 169.0,322.7 167.6,322.0 166.0,321.0 165.0,320.2 164.0,319.4 163.0,318.6 162.0,318.0 160.7,317.0 159.0,316.0 158.0,315.4 157.0,315.0 155.0,314.4 153.0,314.2 151.0,314.3 149.0,314.6 147.0,315.0 146.0,315.2 144.0,315.4 142.0,315.6 140.0,315.6 138.0,315.6 136.0,315.4 134.0,315.1 133.0,315.0 131.0,314.5 129.3,314.0 128.0,313.6 126.5,313.0 125.0,312.3 124.0,311.8 122.5,311.0 121.0,310.1 120.0,309.4 119.0,308.7 118.0,307.9 117.0,307.0 115.9,306.0 115.0,305.0 114.0,303.9 113.0,302.6 112.0,301.2 111.2,300.0 110.6,299.0 110.0,297.8 109.2,296.0 108.8,295.0 108.1,293.0 107.8,292.0 107.4,290.0 107.0,288.0 107.0,287.0 106.9,285.0 107.0,283.0 107.1,282.0 107.4,280.0 107.9,278.0 108.2,277.0 108.9,275.0 109.3,274.0 110.0,272.5 110.8,271.0 111.2,270.0 112.0,268.5 113.0,267.1 114.0,266.2 115.0,265.6 116.2,265.0 118.0,264.1 119.0,263.7 120.8,263.0 122.0,262.5 123.8,262.0 125.0,261.6 127.0,261.2 128.0,261.0 130.0,260.6 132.0,260.3 134.0,260.1 135.7,260.0" fill="#1f78b4" fill-opacity="0.167"/>
<polygon points="132.1,262.0 134.0,261.8 136.0,261.7 138.0,261.6 140.0,261.7 142.0,261.8 144.0,261.9 145.0,262.0 147.0,262.3 149.0,262.7 150.5,263.0 152.0,263.3 154.0,263.9 155.0,264.2 157.0,264.9 158.0,265.2 159.8,266.0 161.0,266.5 162.0,267.0 163.9,268.0 165.0,268.6 166.0,269.2 167.3,270.0 168.7,271.0 170.0,272.0 171.0,272.7 172.0,273.6 173.0,274.4 174.0,275.3 175.0,276.3 176.0,277.2 177.0,278.2 178.0,279.2 179.0,280.2 180.0,281.2 181.0,282.2 182.0,283.2 183.0,284.2 184.0,285.2 185.0,286.3 186.0,287.5 187.0,288.8 187.8,290.0 188.4,291.0 189.0,292.0 189.9,294.0 190.3,295.0 190.9,297.0 191.1,298.0 191.3,300.0 191.2,302.0 191.0,303.8 190.7,305.0 190.0,307.0 189.6,308.0 189.0,309.1 188.0,310.6 187.0,311.9 186.0,312.9 185.0,313.8 184.0,314.6 183.0,315.3 181.9,316.0 180.1,317.0 179.0,317.5 177.7,318.0 176.0,318.6 174.6,319.0 173.0,319.4 171.0,319.8 169.8,320.0 168.0,320.2 166.0,320.0 165.0,319.4 164.0,318.9 162.8,318.0 161.3,317.0 160.0,316.2 159.0,315.6 157.7,315.0 156.0,314.3 154.9,314.0 153.0,313.8 151.0,313.9 150.0,314.1 148.0,314.4 146.0,314.7 144.1,315.0 143.0,315.1 141.0,315.2 139.0,315.2 137.0,315.1 135.8,315.0 134.0,314.7 132.0,314.3 130.7,314.0 129.0,313.5 127.6,313.0 126.0,312.3 125.0,311.9 123.3,311.0 122.0,310.2 121.0,309.6 120.0,308.9 118.8,308.0 117.7,307.0 116.6,306.0 115.6,305.0 114.7,304.0 113.8,303.0 113.0,301.9 112.0,300.4 111.1,299.0 110.6,298.0 110.0,296.8 109.2,295.0 108.9,294.0 108.3,292.0 108.0,291.0 107.6,289.0 107.4,287.0 107.3,285.0 107.4,283.0 107.7,281.0 108.0,279.3 108.4,278.0 109.0,276.1 109.5,275.0 110.0,273.8 111.0,272.0 111.6,271.0 112.3,270.0 113.0,269.0 114.1,268.0 115.7,267.0 117.0,266.3 118.0,265.8 120.0,265.0 121.0,264.6 122.8,264.0 124.0,263.6 126.0,263.1 127.0,262.8 129.0,262.4 131.0,262.1 132.1,262.0" fill="#1f78b4" fill-opacity="0.200"/>
<polygon points="137.0,263.0 138.8,263.0 140.0,263.0 142.0,263.1 144.0,263.3 146.0,263.6 148.0,264.0 149.0,264.2 151.0,264.7 152.2,265.0 154.0,265.5 155.3,266.0 157.0,266.7 158.0,267.1 160.0,268.0 161.0,268.5 162.0,269.1 163.6,270.0 165.0,271.0 166.0,271.7 167.0,272.4 168.0,273.2 169.0,274.1 170.0,275.0 171.0,276.0 172.0,277.1 173.0,278.3 174.0,279.5 175.0,280.9 175.8,282.0 176.4,283.0 177.0,284.0 178.0,285.9 178.6,287.0 179.0,288.0 179.9,290.0 180.3,291.0 181.0,293.0 181.3,294.0 181.8,296.0 182.1,297.0 182.3,299.0 182.4,301.0 182.1,303.0 181.8,304.0 181.0,306.0 180.4,307.0 179.7,308.0 178.9,309.0 178.0,310.0 176.8,311.0 175.4,312.0 174.0,312.9 173.0,313.4 171.9,314.0 170.0,314.8 169.0,315.2 167.0,316.0 166.0,316.3 164.0,316.9 163.0,317.0 162.0,316.7 160.5,316.0 159.0,315.2 158.0,314.7 156.2,314.0 155.0,313.6 153.0,313.3 151.0,313.4 149.0,313.7 147.8,314.0 146.0,314.3 144.0,314.5 142.0,314.7 140.0,314.8 138.0,314.7 136.0,314.5 134.0,314.3 132.6,314.0 131.0,313.6 129.0,313.0 128.0,312.6 126.4,312.0 125.0,311.3 124.0,310.8 122.5,310.0 121.0,309.0 120.0,308.3 119.0,307.5 118.0,306.7 117.0,305.7 116.0,304.7 115.0,303.6 114.0,302.4 113.0,301.1 112.3,300.0 111.7,299.0 111.0,297.8 110.2,296.0 109.8,295.0 109.0,293.0 108.8,292.0 108.3,290.0 108.0,288.2 107.9,287.0 107.8,285.0 107.9,283.0 108.0,282.0 108.4,280.0 108.9,278.0 109.3,277.0 110.0,275.3 110.7,274.0 111.3,273.0 112.0,271.9 113.0,270.7 114.0,269.7 115.0,268.9 116.6,268.0 118.0,267.3 119.0,266.8 121.0,266.0 122.0,265.6 123.9,265.0 125.0,264.7 127.0,264.2 128.0,264.0 130.0,263.6 132.0,263.3 134.0,263.1 136.0,263.0 137.0,263.0" fill="#1f78b4" fill-opacity="0.250"/>
<polygon points="129.8,265.0 131.0,264.8 133.0,264.6 135.0,264.4 137.0,264.4 139.0,264.4 141.0,264.5 143.0,264.6 145.0,264.9 146.0,265.0 148.0,265.4 150.0,265.9 151.0,266.2 153.0,266.8 154.0,267.1 156.0,267.9 157.0,268.4 158.4,269.0 160.0,269.8 161.0,270.4 162.0,271.0 163.5,272.0 164.8,273.0 166.0,273.9 167.0,274.8 168.0,275.8 169.0,276.8 170.0,277.9 170.9,279.0 171.6,280.0 172.3,281.0 173.0,282.1 174.0,283.9 174.5,285.0 175.0,286.1 175.7,288.0 176.0,289.1 176.4,291.0 176.7,293.0 176.7,295.0 176.6,297.0 176.3,299.0 176.0,300.1 175.4,302.0 174.9,303.0 174.0,304.7 173.1,306.0 172.4,307.0 171.5,308.0 170.6,309.0 169.5,310.0 168.3,311.0 167.0,311.9 166.0,312.6 165.0,313.2 163.7,314.0 162.0,314.8 161.0,315.1 159.9,315.0 158.0,314.2 157.0,313.8 155.0,313.1 154.0,313.0 152.0,312.8 150.5,313.0 149.0,313.2 147.0,313.5 145.0,313.9 144.0,314.0 142.0,314.2 140.0,314.2 138.0,314.2 136.0,314.0 135.0,313.9 133.0,313.5 131.0,313.0 130.0,312.7 128.0,312.1 127.0,311.6 125.5,311.0 124.0,310.2 123.0,309.6 122.0,309.0 120.6,308.0 119.3,307.0 118.1,306.0 117.0,305.0 116.1,304.0 115.2,303.0 114.4,302.0 113.7,301.0 113.0,300.0 112.0,298.4 111.3,297.0 110.8,296.0 110.0,294.0 109.7,293.0 109.1,291.0 108.9,290.0 108.6,288.0 108.5,286.0 108.5,284.0 108.7,282.0 109.0,280.3 109.4,279.0 110.0,277.2 110.6,276.0 111.1,275.0 112.0,273.7 113.0,272.4 114.0,271.4 115.0,270.6 116.0,269.9 117.6,269.0 119.0,268.3 120.0,267.9 122.0,267.1 123.0,266.7 125.0,266.1 126.0,265.8 128.0,265.4 129.8,265.0" fill="#1f78b4" fill-opacity="0.333"/>
<polygon points="129.7,266.0 131.0,265.8 133.0,265.6 135.0,265.4 137.0,265.3 139.0,265.3 141.0,265.4 143.0,265.6 145.0,265.9 146.0,266.0 148.0,266.5 150.0,266.9 151.0,267.2 153.0,267.9 154.0,268.3 155.9,269.0 157.0,269.5 158.0,270.0 159.8,271.0 161.0,271.7 162.0,272.4 163.0,273.1 164.2,274.0 165.4,275.0 166.5,276.0 167.4,277.0 168.4,278.0 169.2,279.0 170.0,280.0 171.0,281.5 171.9,283.0 172.4,284.0 173.0,285.3 173.6,287.0 174.0,288.1 174.4,290.0 174.7,292.0 174.8,294.0 174.7,296.0 174.4,298.0 174.0,299.4 173.4,301.0 173.0,302.0 172.0,303.9 171.3,305.0 170.6,306.0 169.8,307.0 168.9,308.0 167.8,309.0 166.7,310.0 165.4,311.0 164.0,312.0 163.0,312.6 162.0,313.2 160.4,314.0 159.0,314.1 158.0,313.8 156.0,313.1 155.0,312.7 153.0,312.4 151.0,312.4 149.0,312.7 147.9,313.0 146.0,313.3 144.0,313.5 142.0,313.7 140.0,313.8 138.0,313.7 136.0,313.5 134.0,313.2 132.6,313.0 131.0,312.5 129.1,312.0 128.0,311.5 126.6,311.0 125.0,310.2 124.0,309.7 122.8,309.0 121.3,308.0 120.0,307.0 119.0,306.2 118.0,305.3 117.0,304.3 116.0,303.2 115.0,302.0 114.3,301.0 113.6,300.0 112.9,299.0 112.0,297.4 111.4,296.0 110.9,295.0 110.2,293.0 109.9,292.0 109.5,290.0 109.1,288.0 109.0,287.0 109.0,285.0 109.0,283.9 109.3,282.0 109.7,280.0 110.0,279.0 110.9,277.0 111.4,276.0 112.0,275.0 113.0,273.8 114.0,272.7 115.0,271.9 116.2,271.0 117.9,270.0 119.0,269.4 120.0,268.9 122.0,268.1 123.0,267.8 125.0,267.1 126.0,266.8 128.0,266.4 129.7,266.0" fill="#1f78b4" fill-opacity="0.300"/>
</g>
<g fill="#1f78b4" fill-opacity="0.08"><circle cx="183" cy="266" r="3"/><circle cx="169" cy="300" r="3"/><circle cx="164" cy="249" r="3"/><circle cx="135" cy="226" r="3"/><circle cx="117" cy="243" r="3"/><circle cx="204" cy="311" r="3"/><circle cx="152" cy="226" r="3"/><circle cx="178" cy="260" r="3"/><circle cx="120" cy="290" r="3"/><circle cx="185" cy="293" r="3"/><circle cx="177" cy="317" r="3"/><circle cx="206" cy="294" r="3"/><circle cx="172" cy="252" r="3"/><circle cx="145" cy="297" r="3"/><circle cx="116" cy="278" r="3"/><circle cx="170" cy="281" r="3"/><circle cx="164" cy="242" r="3"/><circle cx="133" cy="310" r="3"/><circle cx="130" cy="240" r="3"/><circle cx="148" cy="313" r="3"/><circle cx="119" cy="287" r="3"/><circle cx="145" cy="288" r="3"/><circle cx="201" cy="313" r="3"/><circle cx="179" cy="270" r="3"/><circle cx="123" cy="313" r="3"/><circle cx="164" cy="288" r="3"/><circle cx="208" cy="252" r="3"/><circle cx="147" cy="296" r="3"/><circle cx="159" cy="299" r="3"/><circle cx="175" cy="259" r="3"/><circle cx="168" cy="308" r="3"/><circle cx="173" cy="301" r="3"/><circle cx="197" cy="305" r="3"/><circle cx="123" cy="312" r="3"/><circle cx="204" cy="303" r="3"/><circle cx="154" cy="222" r="3"/><circle cx="163" cy="237" r="3"/><circle cx="169" cy="281" r="3"/><circle cx="103" cy="305" r="3"/><circle cx="151" cy="238" r="3"/><circle cx="155" cy="235" r="3"/><circle cx="131" cy="289" r="3"/><circle cx="142" cy="321" r="3"/><circle cx="115" cy="306" r="3"/><circle cx="114" cy="288" r="3"/><circle cx="147" cy="309" r="3"/><circle cx="186" cy="253" r="3"/><circle cx="116" cy="307" r="3"/><circle cx="191" cy="296" r="3"/><circle cx="107" cy="221" r="3"/><circle cx="138" cy="262" r="3"/><circle cx="187" cy="278" r="3"/><circle cx="140" cy="249" r="3"/><circle cx="168" cy="286" r="3"/><circle cx="196" cy="221" r="3"/><circle cx="176" cy="283" r="3"/><circle cx="180" cy="232" r="3"/><circle cx="121" cy="207" r="3"/><circle cx="148" cy="306" r="3"/><circle cx="117" cy="288" r="3"/><circle cx="151" cy="250" r="3"/><circle cx="176" cy="319" r="3"/><circle cx="141" cy="234" r="3"/><circle cx="179" cy="300" r="3"/><circle cx="208" cy="273" r="3"/><circle cx="114" cy="269" r="3"/><circle cx="125" cy="273" r="3"/><circle cx="131" cy="288" r="3"/><circle cx="145" cy="238" r="3"/><circle cx="125" cy="267" r="3"/><circle cx="91" cy="296" r="3"/><circle cx="182" cy="287" r="3"/><circle cx="171" cy="290" r="3"/><circle cx="104" cy="280" r="3"/><circle cx="145" cy="275" r="3"/><circle cx="124" cy="290" r="3"/><circle cx="169" cy="305" r="3"/><circle cx="152" cy="306" r="3"/><circle cx="173" cy="325" r="3"/><circle cx="169" cy="253" r="3"/><circle cx="138" cy="293" r="3"/><circle cx="183" cy="282" r="3"/><circle cx="195" cy="299" r="3"/><circle cx="183" cy="295" r="3"/><circle cx="125" cy="267" r="3"/><circle cx="143" cy="270" r="3"/><circle cx="171" cy="260" r="3"/><circle cx="171" cy="291" r="3"/><circle cx="181" cy="272" r="3"/><circle cx="146" cy="271" r="3"/><circle cx="188" cy="319" r="3"/><circle cx="126" cy="274" r="3"/><circle cx="170" cy="231" r="3"/><circle cx="197" cy="276" r="3"/><circle cx="190" cy="270" r="3"/><circle cx="188" cy="254" r="3"/><circle cx="161" cy="275" r="3"/><circle cx="205" cy="289" r="3"/><circle cx="102" cy="247" r="3"/><circle cx="119" cy="273" r="3"/><circle cx="123" cy="283" r="3"/><circle cx="188" cy="327" r="3"/><circle cx="174" cy="327" r="3"/><circle cx="165" cy="323" r="3"/><circle cx="206" cy="299" r="3"/><circle cx="128" cy="270" r="3"/><circle cx="169" cy="256" r="3"/><circle cx="124" cy="288" r="3"/><circle cx="135" cy="248" r="3"/><circle cx="123" cy="291" r="3"/><circle cx="175" cy="312" r="3"/><circle cx="188" cy="259" r="3"/><circle cx="175" cy="274" r="3"/><circle cx="121" cy="253" r="3"/><circle cx="147" cy="280" r="3"/><circle cx="131" cy="309" r="3"/><circle cx="141" cy="239" r="3"/><circle cx="129" cy="292" r="3"/><circle cx="161" cy="316" r="3"/><circle cx="160" cy="250" r="3"/><circle cx="136" cy="291" r="3"/><circle cx="180" cy="238" r="3"/><circle cx="147" cy="242" r="3"/><circle cx="170" cy="261" r="3"/><circle cx="170" cy="234" r="3"/><circle cx="109" cy="254" r="3"/><circle cx="174" cy="290" r="3"/><circle cx="127" cy="249" r="3"/><circle cx="199" cy="325" r="3"/><circle cx="197" cy="339" r="3"/><circle cx="99" cy="249" r="3"/><circle cx="162" cy="250" r="3"/><circle cx="166" cy="287" r="3"/><circle cx="128" cy="293" r="3"/><circle cx="121" cy="253" r="3"/><circle cx="166" cy="293" r="3"/><circle cx="156" cy="312" r="3"/><circle cx="172" cy="272" r="3"/><circle cx="117" cy="291" r="3"/><circle cx="194" cy="297" r="3"/><circle cx="195" cy="325" r="3"/><circle cx="116" cy="301" r="3"/><circle cx="130" cy="272" r="3"/><circle cx="208" cy="258" r="3"/><circle cx="193" cy="306" r="3"/><circle cx="175" cy="296" r="3"/><circle cx="137" cy="316" r="3"/><circle cx="169" cy="300" r="3"/><circle cx="162" cy="253" r="3"/><circle cx="167" cy="293" r="3"/><circle cx="186" cy="248" r="3"/><circle cx="142" cy="230" r="3"/><circle cx="182" cy="324" r="3"/><circle cx="158" cy="254" r="3"/><circle cx="190" cy="218" r="3"/><circle cx="179" cy="272" r="3"/><circle cx="115" cy="276" r="3"/><circle cx="182" cy="275" r="3"/><circle cx="101" cy="250" r="3"/><circle cx="209" cy="281" r="3"/><circle cx="203" cy="270" r="3"/><circle cx="199" cy="291" r="3"/><circle cx="132" cy="250" r="3"/><circle cx="123" cy="309" r="3"/><circle cx="135" cy="279" r="3"/><circle cx="138" cy="296" r="3"/><circle cx="130" cy="309" r="3"/><circle cx="105" cy="234" r="3"/><circle cx="125" cy="230" r="3"/><circle cx="151" cy="277" r="3"/><circle cx="159" cy="224" r="3"/><circle cx="157" cy="268" r="3"/><circle cx="170" cy="267" r="3"/><circle cx="203" cy="298" r="3"/><circle cx="167" cy="237" r="3"/><circle cx="177" cy="262" r="3"/><circle cx="108" cy="265" r="3"/><circle cx="106" cy="258" r="3"/><circle cx="138" cy="291" r="3"/><circle cx="166" cy="229" r="3"/><circle cx="99" cy="240" r="3"/><circle cx="144" cy="233" r="3"/><circle cx="149" cy="253" r="3"/><circle cx="156" cy="296" r="3"/><circle cx="165" cy="250" r="3"/><circle cx="154" cy="248" r="3"/><circle cx="131" cy="259" r="3"/><circle cx="176" cy="278" r="3"/><circle cx="179" cy="306" r="3"/><circle cx="132" cy="251" r="3"/><circle cx="145" cy="239" r="3"/><circle cx="128" cy="284" r="3"/><circle cx="196" cy="247" r="3"/><circle cx="114" cy="267" r="3"/><circle cx="158" cy="313" r="3"/><circle cx="178" cy="258" r="3"/><circle cx="161" cy="237" r="3"/><circle cx="159" cy="312" r="3"/><circle cx="106" cy="245" r="3"/><circle cx="164" cy="244" r="3"/><circle cx="131" cy="251" r="3"/><circle cx="124" cy="272" r="3"/><circle cx="206" cy="286" r="3"/><circle cx="194" cy="300" r="3"/><circle cx="135" cy="227" r="3"/><circle cx="96" cy="226" r="3"/><circle cx="115" cy="254" r="3"/><circle cx="165" cy="280" r="3"/><circle cx="110" cy="276" r="3"/><circle cx="179" cy="283" r="3"/><circle cx="122" cy="257" r="3"/><circle cx="119" cy="249" r="3"/><circle cx="192" cy="291" r="3"/><circle cx="180" cy="292" r="3"/><circle cx="138" cy="239" r="3"/><circle cx="120" cy="275" r="3"/><circle cx="149" cy="251" r="3"/><circle cx="149" cy="314" r="3"/><circle cx="146" cy="325" r="3"/><circle cx="161" cy="288" r="3"/><circle cx="178" cy="269" r="3"/><circle cx="110" cy="269" r="3"/><circle cx="166" cy="269" r="3"/><circle cx="129" cy="266" r="3"/><circle cx="132" cy="241" r="3"/><circle cx="170" cy="253" r="3"/><circle cx="171" cy="256" r="3"/><circle cx="120" cy="229" r="3"/><circle cx="157" cy="297" r="3"/><circle cx="109" cy="240" r="3"/><circle cx="128" cy="318" r="3"/><circle cx="131" cy="309" r="3"/><circle cx="178" cy="329" r="3"/><circle cx="186" cy="231" r="3"/><circle cx="116" cy="246" r="3"/><circle cx="143" cy="259" r="3"/><circle cx="147" cy="312" r="3"/><circle cx="134" cy="271" r="3"/><circle cx="154" cy="234" r="3"/><circle cx="124" cy="312" r="3"/><circle cx="136" cy="266" r="3"/><circle cx="146" cy="229" r="3"/><circle cx="185" cy="323" r="3"/><circle cx="113" cy="272" r="3"/><circle cx="139" cy="298" r="3"/><circle cx="119" cy="298" r="3"/><circle cx="152" cy="259" r="3"/><circle cx="123" cy="235" r="3"/><circle cx="197" cy="237" r="3"/><circle cx="104" cy="284" r="3"/><circle cx="195" cy="307" r="3"/><circle cx="150" cy="257" r="3"/><circle cx="204" cy="322" r="3"/><circle cx="158" cy="294" r="3"/><circle cx="183" cy="276" r="3"/><circle cx="154" cy="305" r="3"/><circle cx="109" cy="223" r="3"/><circle cx="179" cy="280" r="3"/><circle cx="165" cy="244" r="3"/><circle cx="158" cy="243" r="3"/><circle cx="181" cy="276" r="3"/><circle cx="143" cy="262" r="3"/><circle cx="104" cy="246" r="3"/><circle cx="169" cy="301" r="3"/><circle cx="154" cy="264" r="3"/><circle cx="123" cy="259" r="3"/><circle cx="194" cy="279" r="3"/><circle cx="142" cy="248" r="3"/><circle cx="119" cy="228" r="3"/><circle cx="179" cy="263" r="3"/><circle cx="119" cy="224" r="3"/><circle cx="200" cy="257" r="3"/><circle cx="115" cy="248" r="3"/><circle cx="148" cy="252" r="3"/><circle cx="135" cy="280" r="3"/><circle cx="199" cy="270" r="3"/><circle cx="140" cy="286" r="3"/><circle cx="168" cy="272" r="3"/><circle cx="166" cy="249" r="3"/><circle cx="169" cy="244" r="3"/><circle cx="147" cy="308" r="3"/><circle cx="148" cy="272" r="3"/><circle cx="142" cy="316" r="3"/><circle cx="203" cy="282" r="3"/><circle cx="118" cy="276" r="3"/><circle cx="120" cy="247" r="3"/><circle cx="125" cy="238" r="3"/><circle cx="189" cy="330" r="3"/><circle cx="123" cy="264" r="3"/><circle cx="182" cy="311" r="3"/><circle cx="161" cy="256" r="3"/><circle cx="155" cy="263" r="3"/><circle cx="189" cy="256" r="3"/><circle cx="196" cy="316" r="3"/><circle cx="165" cy="239" r="3"/><circle cx="131" cy="275" r="3"/><circle cx="189" cy="290" r="3"/><circle cx="126" cy="308" r="3"/><circle cx="199" cy="312" r="3"/><circle cx="131" cy="295" r="3"/><circle cx="120" cy="211" r="3"/><circle cx="196" cy="328" r="3"/><circle cx="112" cy="241" r="3"/><circle cx="112" cy="233" r="3"/><circle cx="179" cy="257" r="3"/><circle cx="162" cy="306" r="3"/><circle cx="162" cy="268" r="3"/><circle cx="173" cy="315" r="3"/><circle cx="139" cy="270" r="3"/><circle cx="145" cy="264" r="3"/><circle cx="173" cy="272" r="3"/><circle cx="149" cy="317" r="3"/><circle cx="154" cy="327" r="3"/><circle cx="159" cy="264" r="3"/><circle cx="147" cy="257" r="3"/><circle cx="120" cy="238" r="3"/><circle cx="107" cy="250" r="3"/><circle cx="171" cy="310" r="3"/><circle cx="152" cy="254" r="3"/><circle cx="171" cy="327" r="3"/><circle cx="189" cy="284" r="3"/><circle cx="198" cy="320" r="3"/><circle cx="109" cy="236" r="3"/><circle cx="123" cy="302" r="3"/><circle cx="181" cy="328" r="3"/><circle cx="164" cy="254" r="3"/><circle cx="134" cy="296" r="3"/><circle cx="175" cy="325" r="3"/><circle cx="163" cy="262" r="3"/><circle cx="200" cy="253" r="3"/><circle cx="196" cy="274" r="3"/><circle cx="116" cy="309" r="3"/><circle cx="189" cy="332" r="3"/><circle cx="119" cy="254" r="3"/><circle cx="150" cy="259" r="3"/><circle cx="202" cy="278" r="3"/><circle cx="147" cy="298" r="3"/><circle cx="192" cy="322" r="3"/><circle cx="156" cy="245" r="3"/><circle cx="166" cy="267" r="3"/><circle cx="127" cy="227" r="3"/><circle cx="134" cy="298" r="3"/><circle cx="146" cy="243" r="3"/><circle cx="195" cy="254" r="3"/><circle cx="200" cy="309" r="3"/><circle cx="199" cy="239" r="3"/><circle cx="175" cy="316" r="3"/><circle cx="189" cy="307" r="3"/><circle cx="113" cy="261" r="3"/><circle cx="102" cy="243" r="3"/><circle cx="157" cy="235" r="3"/><circle cx="135" cy="267" r="3"/><circle cx="132" cy="273" r="3"/><circle cx="130" cy="244" r="3"/><circle cx="127" cy="237" r="3"/><circle cx="121" cy="263" r="3"/><circle cx="110" cy="261" r="3"/><circle cx="136" cy="264" r="3"/><circle cx="202" cy="322" r="3"/><circle cx="145" cy="271" r="3"/><circle cx="193" cy="310" r="3"/><circle cx="169" cy="298" r="3"/><circle cx="127" cy="299" r="3"/><circle cx="151" cy="312" r="3"/><circle cx="150" cy="246" r="3"/><circle cx="136" cy="235" r="3"/><circle cx="103" cy="252" r="3"/><circle cx="146" cy="261" r="3"/><circle cx="118" cy="237" r="3"/><circle cx="110" cy="288" r="3"/><circle cx="144" cy="317" r="3"/><circle cx="183" cy="326" r="3"/><circle cx="109" cy="223" r="3"/><circle cx="189" cy="272" r="3"/><circle cx="115" cy="225" r="3"/><circle cx="206" cy="312" r="3"/><circle cx="111" cy="235" r="3"/><circle cx="178" cy="287" r="3"/><circle cx="143" cy="264" r="3"/><circle cx="184" cy="330" r="3"/><circle cx="146" cy="291" r="3"/><circle cx="143" cy="290" r="3"/><circle cx="104" cy="248" r="3"/><circle cx="124" cy="218" r="3"/><circle cx="105" cy="244" r="3"/><circle cx="200" cy="308" r="3"/><circle cx="139" cy="299" r="3"/><circle cx="130" cy="261" r="3"/><circle cx="171" cy="246" r="3"/><circle cx="127" cy="238" r="3"/><circle cx="109" cy="232" r="3"/><circle cx="146" cy="260" r="3"/><circle cx="110" cy="229" r="3"/><circle cx="171" cy="244" r="3"/><circle cx="195" cy="302" r="3"/><circle cx="136" cy="303" r="3"/><circle cx="149" cy="309" r="3"/><circle cx="181" cy="324" r="3"/><circle cx="138" cy="317" r="3"/><circle cx="145" cy="276" r="3"/><circle cx="187" cy="305" r="3"/><circle cx="159" cy="282" r="3"/><circle cx="158" cy="267" r="3"/><circle cx="193" cy="324" r="3"/><circle cx="189" cy="269" r="3"/><circle cx="127" cy="277" r="3"/><circle cx="165" cy="284" r="3"/><circle cx="145" cy="258" r="3"/><circle cx="193" cy="298" r="3"/><circle cx="121" cy="291" r="3"/><circle cx="166" cy="278" r="3"/><circle cx="163" cy="293" r="3"/><circle cx="121" cy="236" r="3"/><circle cx="189" cy="252" r="3"/><circle cx="124" cy="225" r="3"/><circle cx="160" cy="242" r="3"/><circle cx="120" cy="261" r="3"/><circle cx="154" cy="310" r="3"/><circle cx="102" cy="222" r="3"/><circle cx="146" cy="263" r="3"/><circle cx="157" cy="297" r="3"/><circle cx="136" cy="308" r="3"/><circle cx="110" cy="283" r="3"/><circle cx="130" cy="230" r="3"/><circle cx="118" cy="251" r="3"/><circle cx="132" cy="269" r="3"/><circle cx="120" cy="282" r="3"/><circle cx="128" cy="267" r="3"/><circle cx="186" cy="261" r="3"/><circle cx="190" cy="276" r="3"/><circle cx="166" cy="290" r="3"/><circle cx="126" cy="301" r="3"/><circle cx="151" cy="306" r="3"/><circle cx="157" cy="315" r="3"/><circle cx="107" cy="279" r="3"/><circle cx="175" cy="265" r="3"/><circle cx="198" cy="318" r="3"/><circle cx="120" cy="206" r="3"/><circle cx="171" cy="301" r="3"/><circle cx="186" cy="329" r="3"/><circle cx="140" cy="252" r="3"/><circle cx="162" cy="253" r="3"/><circle cx="107" cy="244" r="3"/><circle cx="154" cy="298" r="3"/><circle cx="179" cy="256" r="3"/><circle cx="168" cy="310" r="3"/><circle cx="121" cy="287" r="3"/><circle cx="147" cy="264" r="3"/><circle cx="137" cy="221" r="3"/><circle cx="140" cy="285" r="3"/><circle cx="151" cy="252" r="3"/><circle cx="196" cy="323" r="3"/><circle cx="120" cy="272" r="3"/><circle cx="169" cy="309" r="3"/><circle cx="101" cy="249" r="3"/><circle cx="151" cy="255" r="3"/><circle cx="124" cy="283" r="3"/><circle cx="184" cy="221" r="3"/><circle cx="116" cy="271" r="3"/><circle cx="98" cy="316" r="3"/><circle cx="135" cy="322" r="3"/><circle cx="131" cy="318" r="3"/><circle cx="144" cy="306" r="3"/><circle cx="166" cy="259" r="3"/><circle cx="130" cy="297" r="3"/><circle cx="113" cy="238" r="3"/><circle cx="137" cy="283" r="3"/><circle cx="127" cy="258" r="3"/><circle cx="208" cy="284" r="3"/><circle cx="145" cy="222" r="3"/><circle cx="150" cy="231" r="3"/><circle cx="162" cy="314" r="3"/><circle cx="205" cy="267" r="3"/><circle cx="175" cy="297" r="3"/><circle cx="117" cy="238" r="3"/><circle cx="179" cy="287" r="3"/><circle cx="178" cy="258" r="3"/><circle cx="128" cy="287" r="3"/><circle cx="205" cy="267" r="3"/><circle cx="185" cy="264" r="3"/><circle cx="142" cy="264" r="3"/><circle cx="116" cy="286" r="3"/><circle cx="127" cy="254" r="3"/><circle cx="134" cy="235" r="3"/><circle cx="97" cy="209" r="3"/><circle cx="176" cy="325" r="3"/><circle cx="199" cy="295" r="3"/><circle cx="184" cy="301" r="3"/><circle cx="176" cy="252" r="3"/><circle cx="129" cy="308" r="3"/><circle cx="187" cy="259" r="3"/><circle cx="198" cy="255" r="3"/><circle cx="156" cy="263" r="3"/><circle cx="121" cy="222" r="3"/><circle cx="191" cy="285" r="3"/><circle cx="177" cy="261" r="3"/><circle cx="191" cy="308" r="3"/><circle cx="113" cy="294" r="3"/><circle cx="120" cy="234" r="3"/><circle cx="190" cy="286" r="3"/><circle cx="182" cy="308" r="3"/><circle cx="124" cy="261" r="3"/><circle cx="192" cy="322" r="3"/><circle cx="135" cy="261" r="3"/><circle cx="150" cy="231" r="3"/><circle cx="145" cy="297" r="3"/><circle cx="202" cy="224" r="3"/><circle cx="189" cy="267" r="3"/><circle cx="153" cy="268" r="3"/><circle cx="145" cy="244" r="3"/><circle cx="109" cy="272" r="3"/><circle cx="192" cy="279" r="3"/><circle cx="132" cy="313" r="3"/><circle cx="147" cy="314" r="3"/><circle cx="130" cy="283" r="3"/><circle cx="143" cy="220" r="3"/><circle cx="167" cy="241" r="3"/><circle cx="139" cy="279" r="3"/><circle cx="184" cy="266" r="3"/><circle cx="139" cy="247" r="3"/><circle cx="203" cy="250" r="3"/><circle cx="197" cy="308" r="3"/><circle cx="164" cy="307" r="3"/><circle cx="120" cy="248" r="3"/><circle cx="183" cy="277" r="3"/><circle cx="201" cy="280" r="3"/><circle cx="197" cy="274" r="3"/><circle cx="200" cy="286" r="3"/><circle cx="96" cy="245" r="3"/><circle cx="110" cy="269" r="3"/><circle cx="192" cy="316" r="3"/><circle cx="147" cy="261" r="3"/><circle cx="104" cy="259" r="3"/><circle cx="168" cy="256" r="3"/><circle cx="178" cy="267" r="3"/><circle cx="201" cy="310" r="3"/><circle cx="198" cy="271" r="3"/><circle cx="174" cy="260" r="3"/><circle cx="126" cy="247" r="3"/><circle cx="149" cy="262" r="3"/><circle cx="148" cy="254" r="3"/><circle cx="139" cy="320" r="3"/><circle cx="141" cy="210" r="3"/><circle cx="147" cy="243" r="3"/><circle cx="197" cy="267" r="3"/><circle cx="187" cy="272" r="3"/><circle cx="188" cy="235" r="3"/><circle cx="128" cy="262" r="3"/><circle cx="187" cy="266" r="3"/><circle cx="113" cy="259" r="3"/><circle cx="170" cy="309" r="3"/><circle cx="113" cy="212" r="3"/><circle cx="132" cy="224" r="3"/><circle cx="100" cy="295" r="3"/><circle cx="147" cy="286" r="3"/><circle cx="111" cy="287" r="3"/><circle cx="162" cy="291" r="3"/><circle cx="128" cy="314" r="3"/><circle cx="133" cy="285" r="3"/><circle cx="111" cy="289" r="3"/><circle cx="127" cy="216" r="3"/><circle cx="135" cy="280" r="3"/><circle cx="188" cy="288" r="3"/><circle cx="154" cy="318" r="3"/><circle cx="202" cy="237" r="3"/><circle cx="107" cy="249" r="3"/><circle cx="145" cy="243" r="3"/><circle cx="164" cy="322" r="3"/><circle cx="110" cy="279" r="3"/><circle cx="148" cy="276" r="3"/><circle cx="135" cy="269" r="3"/><circle cx="166" cy="258" r="3"/><circle cx="128" cy="251" r="3"/><circle cx="158" cy="275" r="3"/><circle cx="203" cy="277" r="3"/><circle cx="105" cy="228" r="3"/><circle cx="171" cy="244" r="3"/><circle cx="121" cy="287" r="3"/><circle cx="187" cy="281" r="3"/><circle cx="116" cy="305" r="3"/><circle cx="169" cy="226" r="3"/><circle cx="185" cy="256" r="3"/><circle cx="128" cy="295" r="3"/><circle cx="123" cy="251" r="3"/><circle cx="154" cy="261" r="3"/><circle cx="173" cy="252" r="3"/><circle cx="168" cy="274" r="3"/><circle cx="199" cy="274" r="3"/><circle cx="202" cy="305" r="3"/><circle cx="149" cy="269" r="3"/><circle cx="174" cy="234" r="3"/><circle cx="144" cy="237" r="3"/><circle cx="112" cy="263" r="3"/><circle cx="117" cy="314" r="3"/><circle cx="173" cy="265" r="3"/><circle cx="104" cy="247" r="3"/><circle cx="197" cy="283" r="3"/><circle cx="152" cy="253" r="3"/><circle cx="119" cy="263" r="3"/><circle cx="188" cy="305" r="3"/><circle cx="161" cy="278" r="3"/><circle cx="152" cy="295" r="3"/><circle cx="138" cy="277" r="3"/><circle cx="202" cy="315" r="3"/><circle cx="184" cy="305" r="3"/><circle cx="203" cy="261" r="3"/><circle cx="128" cy="244" r="3"/><circle cx="142" cy="248" r="3"/><circle cx="175" cy="311" r="3"/><circle cx="177" cy="316" r="3"/><circle cx="137" cy="279" r="3"/><circle cx="150" cy="292" r="3"/><circle cx="205" cy="240" r="3"/><circle cx="141" cy="320" r="3"/><circle cx="194" cy="245" r="3"/><circle cx="181" cy="292" r="3"/><circle cx="118" cy="222" r="3"/><circle cx="173" cy="272" r="3"/><circle cx="196" cy="255" r="3"/><circle cx="141" cy="313" r="3"/><circle cx="205" cy="295" r="3"/><circle cx="132" cy="294" r="3"/><circle cx="148" cy="251" r="3"/><circle cx="182" cy="271" r="3"/><circle cx="133" cy="264" r="3"/><circle cx="170" cy="257" r="3"/><circle cx="151" cy="304" r="3"/><circle cx="169" cy="287" r="3"/><circle cx="122" cy="250" r="3"/><circle cx="132" cy="319" r="3"/><circle cx="198" cy="281" r="3"/><circle cx="90" cy="235" r="3"/><circle cx="166" cy="288" r="3"/><circle cx="144" cy="233" r="3"/><circle cx="156" cy="308" r="3"/><circle cx="101" cy="230" r="3"/><circle cx="130" cy="259" r="3"/><circle cx="174" cy="277" r="3"/><circle cx="163" cy="254" r="3"/><circle cx="187" cy="310" r="3"/><circle cx="132" cy="287" r="3"/><circle cx="134" cy="298" r="3"/><circle cx="178" cy="300" r="3"/><circle cx="164" cy="267" r="3"/><circle cx="177" cy="322" r="3"/><circle cx="134" cy="267" r="3"/><circle cx="137" cy="271" r="3"/><circle cx="135" cy="270" r="3"/><circle cx="157" cy="276" r="3"/><circle cx="108" cy="279" r="3"/><circle cx="168" cy="323" r="3"/><circle cx="139" cy="265" r="3"/><circle cx="114" cy="260" r="3"/><circle cx="144" cy="235" r="3"/><circle cx="171" cy="309" r="3"/><circle cx="108" cy="290" r="3"/><circle cx="198" cy="302" r="3"/><circle cx="133" cy="308" r="3"/><circle cx="207" cy="288" r="3"/><circle cx="115" cy="240" r="3"/><circle cx="152" cy="258" r="3"/><circle cx="177" cy="261" r="3"/><circle cx="135" cy="230" r="3"/><circle cx="109" cy="255" r="3"/><circle cx="184" cy="266" r="3"/><circle cx="150" cy="276" r="3"/><circle cx="174" cy="254" r="3"/><circle cx="152" cy="326" r="3"/><circle cx="162" cy="223" r="3"/><circle cx="163" cy="264" r="3"/><circle cx="172" cy="278" r="3"/><circle cx="146" cy="291" r="3"/><circle cx="146" cy="249" r="3"/><circle cx="145" cy="233" r="3"/><circle cx="132" cy="242" r="3"/><circle cx="143" cy="223" r="3"/><circle cx="131" cy="290" r="3"/><circle cx="145" cy="227" r="3"/><circle cx="128" cy="301" r="3"/><circle cx="185" cy="297" r="3"/><circle cx="137" cy="274" r="3"/><circle cx="103" cy="245" r="3"/><circle cx="178" cy="271" r="3"/><circle cx="128" cy="308" r="3"/><circle cx="108" cy="298" r="3"/><circle cx="174" cy="269" r="3"/><circle cx="166" cy="281" r="3"/><circle cx="112" cy="296" r="3"/><circle cx="190" cy="277" r="3"/><circle cx="160" cy="270" r="3"/><circle cx="141" cy="277" r="3"/><circle cx="166" cy="306" r="3"/><circle cx="140" cy="244" r="3"/><circle cx="166" cy="282" r="3"/><circle cx="189" cy="276" r="3"/><circle cx="173" cy="266" r="3"/><circle cx="148" cy="279" r="3"/><circle cx="170" cy="245" r="3"/><circle cx="160" cy="283" r="3"/><circle cx="128" cy="254" r="3"/><circle cx="132" cy="310" r="3"/><circle cx="165" cy="258" r="3"/><circle cx="155" cy="280" r="3"/><circle cx="126" cy="301" r="3"/><circle cx="154" cy="281" r="3"/><circle cx="82" cy="213" r="3"/><circle cx="152" cy="298" r="3"/><circle cx="144" cy="266" r="3"/><circle cx="192" cy="316" r="3"/><circle cx="107" cy="262" r="3"/><circle cx="147" cy="265" r="3"/><circle cx="188" cy="279" r="3"/><circle cx="108" cy="212" r="3"/><circle cx="108" cy="290" r="3"/><circle cx="117" cy="220" r="3"/><circle cx="127" cy="219" r="3"/><circle cx="175" cy="263" r="3"/><circle cx="144" cy="311" r="3"/><circle cx="133" cy="273" r="3"/><circle cx="107" cy="256" r="3"/><circle cx="197" cy="257" r="3"/><circle cx="182" cy="318" r="3"/><circle cx="109" cy="298" r="3"/><circle cx="165" cy="239" r="3"/><circle cx="161" cy="309" r="3"/><circle cx="150" cy="316" r="3"/><circle cx="133" cy="280" r="3"/><circle cx="116" cy="253" r="3"/><circle cx="166" cy="275" r="3"/><circle cx="156" cy="262" r="3"/><circle cx="190" cy="325" r="3"/><circle cx="169" cy="322" r="3"/><circle cx="176" cy="240" r="3"/><circle cx="187" cy="214" r="3"/><circle cx="134" cy="273" r="3"/><circle cx="132" cy="227" r="3"/><circle cx="114" cy="236" r="3"/><circle cx="198" cy="283" r="3"/><circle cx="181" cy="249" r="3"/><circle cx="122" cy="257" r="3"/><circle cx="105" cy="287" r="3"/><circle cx="151" cy="279" r="3"/><circle cx="120" cy="259" r="3"/><circle cx="174" cy="248" r="3"/><circle cx="111" cy="221" r="3"/><circle cx="124" cy="286" r="3"/><circle cx="175" cy="254" r="3"/><circle cx="113" cy="264" r="3"/><circle cx="155" cy="295" r="3"/><circle cx="164" cy="272" r="3"/><circle cx="146" cy="316" r="3"/><circle cx="150" cy="265" r="3"/><circle cx="112" cy="248" r="3"/><circle cx="192" cy="319" r="3"/><circle cx="200" cy="284" r="3"/><circle cx="197" cy="273" r="3"/><circle cx="174" cy="260" r="3"/><circle cx="172" cy="285" r="3"/><circle cx="153" cy="262" r="3"/><circle cx="108" cy="308" r="3"/><circle cx="159" cy="250" r="3"/><circle cx="109" cy="268" r="3"/><circle cx="199" cy="255" r="3"/><circle cx="167" cy="247" r="3"/><circle cx="117" cy="240" r="3"/><circle cx="157" cy="262" r="3"/><circle cx="120" cy="300" r="3"/><circle cx="154" cy="286" r="3"/><circle cx="173" cy="301" r="3"/><circle cx="174" cy="266" r="3"/><circle cx="157" cy="222" r="3"/><circle cx="204" cy="286" r="3"/><circle cx="152" cy="271" r="3"/><circle cx="201" cy="322" r="3"/><circle cx="176" cy="293" r="3"/><circle cx="126" cy="287" r="3"/><circle cx="165" cy="305" r="3"/><circle cx="202" cy="275" r="3"/><circle cx="151" cy="238" r="3"/><circle cx="186" cy="314" r="3"/><circle cx="157" cy="311" r="3"/><circle cx="129" cy="261" r="3"/><circle cx="101" cy="289" r="3"/><circle cx="121" cy="250" r="3"/><circle cx="140" cy="223" r="3"/><circle cx="179" cy="274" r="3"/><circle cx="114" cy="285" r="3"/><circle cx="199" cy="293" r="3"/><circle cx="197" cy="249" r="3"/><circle cx="121" cy="230" r="3"/><circle cx="182" cy="303" r="3"/><circle cx="150" cy="300" r="3"/><circle cx="106" cy="292" r="3"/><circle cx="120" cy="212" r="3"/><circle cx="205" cy="321" r="3"/><circle cx="147" cy="297" r="3"/><circle cx="177" cy="297" r="3"/><circle cx="171" cy="224" r="3"/><circle cx="144" cy="274" r="3"/><circle cx="172" cy="266" r="3"/><circle cx="98" cy="230" r="3"/><circle cx="137" cy="264" r="3"/><circle cx="134" cy="268" r="3"/><circle cx="145" cy="291" r="3"/><circle cx="182" cy="298" r="3"/><circle cx="149" cy="314" r="3"/><circle cx="108" cy="287" r="3"/><circle cx="148" cy="288" r="3"/><circle cx="193" cy="297" r="3"/><circle cx="123" cy="301" r="3"/><circle cx="89" cy="273" r="3"/><circle cx="190" cy="327" r="3"/><circle cx="169" cy="303" r="3"/><circle cx="163" cy="270" r="3"/><circle cx="205" cy="270" r="3"/><circle cx="135" cy="241" r="3"/><circle cx="104" cy="291" r="3"/><circle cx="157" cy="300" r="3"/><circle cx="134" cy="227" r="3"/><circle cx="201" cy="275" r="3"/><circle cx="180" cy="263" r="3"/><circle cx="112" cy="227" r="3"/><circle cx="140" cy="305" r="3"/><circle cx="167" cy="238" r="3"/><circle cx="135" cy="228" r="3"/><circle cx="158" cy="266" r="3"/><circle cx="180" cy="324" r="3"/><circle cx="156" cy="280" r="3"/><circle cx="151" cy="301" r="3"/><circle cx="195" cy="285" r="3"/><circle cx="93" cy="233" r="3"/><circle cx="179" cy="314" r="3"/><circle cx="127" cy="314" r="3"/><circle cx="195" cy="278" r="3"/><circle cx="146" cy="305" r="3"/><circle cx="196" cy="302" r="3"/><circle cx="161" cy="278" r="3"/><circle cx="98" cy="229" r="3"/><circle cx="154" cy="244" r="3"/><circle cx="195" cy="253" r="3"/><circle cx="165" cy="233" r="3"/><circle cx="186" cy="310" r="3"/><circle cx="184" cy="269" r="3"/><circle cx="208" cy="321" r="3"/><circle cx="181" cy="206" r="3"/><circle cx="118" cy="290" r="3"/><circle cx="151" cy="274" r="3"/><circle cx="134" cy="290" r="3"/><circle cx="138" cy="293" r="3"/><circle cx="140" cy="241" r="3"/><circle cx="117" cy="287" r="3"/><circle cx="129" cy="300" r="3"/><circle cx="103" cy="242" r="3"/><circle cx="199" cy="308" r="3"/><circle cx="123" cy="295" r="3"/><circle cx="136" cy="242" r="3"/><circle cx="157" cy="312" r="3"/><circle cx="203" cy="327" r="3"/><circle cx="149" cy="324" r="3"/><circle cx="155" cy="281" r="3"/><circle cx="119" cy="241" r="3"/><circle cx="122" cy="292" r="3"/></g>
</g>
<rect x="62.9" y="205.0" width="143.1" height="142.89999999999998" fill="none" stroke="#333333" stroke-width="1.5"/>
<line x1="69.30" y1="347.9" x2="69.30" y2="351.79999999999995" stroke="#333333" stroke-width="1.6"/>
<text x="69.30" y="364.30" font-size="12.5" text-anchor="middle" fill="#4d4d4d" font-weight="normal" >0</text>
<line x1="101.90" y1="347.9" x2="101.90" y2="351.79999999999995" stroke="#333333" stroke-width="1.6"/>
<text x="101.90" y="364.30" font-size="12.5" text-anchor="middle" fill="#4d4d4d" font-weight="normal" >1</text>
<line x1="134.50" y1="347.9" x2="134.50" y2="351.79999999999995" stroke="#333333" stroke-width="1.6"/>
<text x="134.50" y="364.30" font-size="12.5" text-anchor="middle" fill="#4d4d4d" font-weight="normal" >2</text>
<line x1="167.10" y1="347.9" x2="167.10" y2="351.79999999999995" stroke="#333333" stroke-width="1.6"/>
<text x="167.10" y="364.30" font-size="12.5" text-anchor="middle" fill="#4d4d4d" font-weight="normal" >3</text>
<line x1="199.70" y1="347.9" x2="199.70" y2="351.79999999999995" stroke="#333333" stroke-width="1.6"/>
<text x="199.70" y="364.30" font-size="12.5" text-anchor="middle" fill="#4d4d4d" font-weight="normal" >4</text>
<line x1="59.0" y1="341.40" x2="62.9" y2="341.40" stroke="#333333" stroke-width="1.6"/>
<text x="55.40" y="346.00" font-size="12.5" text-anchor="end" fill="#4d4d4d" font-weight="normal" >0.0</text>
<line x1="59.0" y1="308.90" x2="62.9" y2="308.90" stroke="#333333" stroke-width="1.6"/>
<text x="55.40" y="313.50" font-size="12.5" text-anchor="end" fill="#4d4d4d" font-weight="normal" >0.5</text>
<line x1="59.0" y1="276.40" x2="62.9" y2="276.40" stroke="#333333" stroke-width="1.6"/>
<text x="55.40" y="281.00" font-size="12.5" text-anchor="end" fill="#4d4d4d" font-weight="normal" >1.0</text>
<line x1="59.0" y1="243.90" x2="62.9" y2="243.90" stroke="#333333" stroke-width="1.6"/>
<text x="55.40" y="248.50" font-size="12.5" text-anchor="end" fill="#4d4d4d" font-weight="normal" >1.5</text>
<line x1="59.0" y1="211.40" x2="62.9" y2="211.40" stroke="#333333" stroke-width="1.6"/>
<text x="55.40" y="216.00" font-size="12.5" text-anchor="end" fill="#4d4d4d" font-weight="normal" >2.0</text>
<text x="134.50" y="386.50" font-size="15.6" text-anchor="middle" fill="#000">σ (km<tspan dy="-7.9" font-size="11.2">3</tspan><tspan dy="7.9" dx="0.3">)</tspan></text>
<text x="0" y="0" font-size="15.6" text-anchor="middle" fill="#000" transform="translate(31 276) rotate(-90)">k</text>
<line x1="358.12" y1="145.4" x2="358.12" y2="1" stroke="#a8a8a8" stroke-width="1.1" stroke-dasharray="5.6 6.47" stroke-dashoffset="0"/>
<line x1="395.38" y1="145.4" x2="395.38" y2="1" stroke="#a8a8a8" stroke-width="1.1" stroke-dasharray="5.6 6.47" stroke-dashoffset="0"/>
<line x1="375.39" y1="1" x2="375.39" y2="145.4" stroke="#bebebe" stroke-width="1.3"/>
<polygon points="353.40,26.70 353.40,26.07 353.64,26.04 353.88,26.01 354.12,25.98 354.36,25.94 354.61,25.91 354.85,25.88 355.09,25.84 355.33,25.80 355.57,25.76 355.81,25.72 356.05,25.68 356.29,25.63 356.53,25.58 356.77,25.53 357.02,25.48 357.26,25.43 357.50,25.37 357.74,25.31 357.98,25.25 358.22,25.18 358.46,25.11 358.70,25.04 358.94,24.97 359.18,24.89 359.43,24.81 359.67,24.73 359.91,24.64 360.15,24.55 360.39,24.45 360.63,24.35 360.87,24.25 361.11,24.14 361.35,24.02 361.59,23.90 361.84,23.78 362.08,23.65 362.32,23.51 362.56,23.37 362.80,23.22 363.04,23.07 363.28,22.90 363.52,22.73 363.76,22.56 364.00,22.37 364.25,22.18 364.49,21.98 364.73,21.77 364.97,21.55 365.21,21.32 365.45,21.08 365.69,20.82 365.93,20.56 366.17,20.29 366.41,20.00 366.66,19.70 366.90,19.39 367.14,19.07 367.38,18.72 367.62,18.37 367.86,18.00 368.10,17.61 368.34,17.20 368.58,16.78 368.82,16.34 369.07,15.87 369.31,15.39 369.55,14.90 369.79,14.40 370.03,13.90 370.27,13.39 370.51,12.88 370.75,12.38 370.99,11.87 371.23,11.37 371.48,10.87 371.72,10.37 371.96,9.88 372.20,9.40 372.44,8.93 372.68,8.48 372.92,8.03 373.16,7.60 373.40,7.18 373.64,6.79 373.89,6.41 374.13,6.05 374.37,5.71 374.61,5.39 374.85,5.10 375.09,4.84 375.33,4.60 375.57,4.38 375.81,4.20 376.05,4.04 376.30,3.91 376.54,3.82 376.78,3.75 377.02,3.71 377.26,3.70 377.50,3.73 377.74,3.79 377.98,3.89 378.22,4.02 378.46,4.18 378.71,4.38 378.95,4.61 379.19,4.87 379.43,5.16 379.67,5.48 379.91,5.83 380.15,6.20 380.39,6.60 380.63,7.02 380.87,7.46 381.12,7.92 381.36,8.40 381.60,8.89 381.84,9.40 382.08,9.92 382.32,10.44 382.56,10.98 382.80,11.52 383.04,12.04 383.28,12.55 383.53,13.04 383.77,13.52 384.01,13.97 384.25,14.41 384.49,14.84 384.73,15.25 384.97,15.65 385.21,16.03 385.45,16.40 385.69,16.76 385.94,17.10 386.18,17.44 386.42,17.76 386.66,18.07 386.90,18.37 387.14,18.66 387.38,18.93 387.62,19.20 387.86,19.46 388.10,19.71 388.35,19.96 388.59,20.19 388.83,20.42 389.07,20.63 389.31,20.84 389.55,21.05 389.79,21.24 390.03,21.43 390.27,21.62 390.51,21.79 390.76,21.96 391.00,22.13 391.24,22.28 391.48,22.44 391.72,22.59 391.96,22.73 392.20,22.87 392.44,23.00 392.68,23.13 392.92,23.25 393.17,23.37 393.41,23.49 393.65,23.60 393.89,23.71 394.13,23.81 394.37,23.91 394.61,24.01 394.85,24.10 395.09,24.19 395.33,24.28 395.58,24.36 395.82,24.44 396.06,24.52 396.30,24.60 396.54,24.67 396.78,24.74 397.02,24.81 397.26,24.87 397.50,24.94 397.74,25.00 397.99,25.06 398.23,25.11 398.47,25.17 398.71,25.22 398.95,25.27 399.19,25.32 399.43,25.37 399.67,25.42 399.91,25.46 400.15,25.50 400.40,25.55 400.64,25.59 400.88,25.62 401.12,25.66 401.36,25.70 401.60,25.73 401.84,25.77 402.08,25.80 402.32,25.83 402.56,25.86 402.81,25.89 403.05,25.92 403.29,25.94 403.53,25.97 403.77,26.00 404.01,26.02 404.25,26.04 404.49,26.07 404.73,26.09 404.97,26.11 405.22,26.13 405.46,26.15 405.70,26.17 405.94,26.19 406.18,26.20 406.42,26.22 406.66,26.24 406.90,26.25 407.14,26.27 407.38,26.28 407.63,26.30 407.87,26.31 408.11,26.33 408.35,26.34 408.59,26.35 408.83,26.36 409.07,26.38 409.31,26.39 409.55,26.40 409.79,26.41 410.04,26.42 410.28,26.43 410.52,26.44 410.76,26.45 411.00,26.46 411.00,26.70" fill="url(#g13)"/>
<polygon points="349.90,52.70 349.90,52.47 350.22,52.45 350.53,52.43 350.85,52.42 351.17,52.40 351.49,52.38 351.80,52.35 352.12,52.33 352.44,52.30 352.75,52.28 353.07,52.25 353.39,52.22 353.71,52.19 354.02,52.15 354.34,52.11 354.66,52.07 354.97,52.03 355.29,51.98 355.61,51.94 355.93,51.88 356.24,51.83 356.56,51.77 356.88,51.71 357.19,51.64 357.51,51.57 357.83,51.49 358.15,51.41 358.46,51.32 358.78,51.22 359.10,51.12 359.41,51.02 359.73,50.90 360.05,50.78 360.37,50.65 360.68,50.51 361.00,50.36 361.32,50.20 361.63,50.03 361.95,49.85 362.27,49.65 362.59,49.44 362.90,49.22 363.22,48.99 363.54,48.73 363.85,48.46 364.17,48.17 364.49,47.87 364.81,47.54 365.12,47.18 365.44,46.81 365.76,46.41 366.07,45.98 366.39,45.52 366.71,45.03 367.03,44.51 367.34,43.95 367.66,43.36 367.98,42.72 368.29,42.05 368.61,41.36 368.93,40.67 369.25,39.98 369.56,39.28 369.88,38.59 370.20,37.91 370.52,37.24 370.83,36.59 371.15,35.97 371.47,35.37 371.78,34.80 372.10,34.27 372.42,33.79 372.74,33.35 373.05,32.96 373.37,32.62 373.69,32.33 374.00,32.11 374.32,31.94 374.64,31.84 374.96,31.80 375.27,31.82 375.59,31.90 375.91,32.04 376.22,32.23 376.54,32.48 376.86,32.78 377.18,33.14 377.49,33.54 377.81,33.98 378.13,34.47 378.44,34.99 378.76,35.55 379.08,36.13 379.40,36.74 379.71,37.37 380.03,38.02 380.35,38.68 380.66,39.33 380.98,39.96 381.30,40.55 381.62,41.12 381.93,41.66 382.25,42.17 382.57,42.66 382.88,43.13 383.20,43.58 383.52,44.00 383.84,44.41 384.15,44.79 384.47,45.16 384.79,45.51 385.10,45.85 385.42,46.17 385.74,46.47 386.06,46.76 386.37,47.04 386.69,47.30 387.01,47.55 387.32,47.79 387.64,48.02 387.96,48.24 388.28,48.45 388.59,48.65 388.91,48.83 389.23,49.01 389.54,49.19 389.86,49.35 390.18,49.51 390.50,49.65 390.81,49.80 391.13,49.93 391.45,50.06 391.76,50.18 392.08,50.30 392.40,50.41 392.72,50.52 393.03,50.62 393.35,50.72 393.67,50.81 393.98,50.90 394.30,50.98 394.62,51.06 394.94,51.14 395.25,51.21 395.57,51.28 395.89,51.35 396.20,51.41 396.52,51.47 396.84,51.53 397.16,51.58 397.47,51.63 397.79,51.68 398.11,51.73 398.42,51.78 398.74,51.82 399.06,51.86 399.38,51.90 399.69,51.94 400.01,51.97 400.33,52.01 400.64,52.04 400.96,52.07 401.28,52.10 401.60,52.13 401.91,52.15 402.23,52.18 402.55,52.20 402.86,52.23 403.18,52.25 403.50,52.27 403.82,52.29 404.13,52.31 404.45,52.33 404.77,52.34 405.08,52.36 405.40,52.38 405.72,52.39 406.04,52.41 406.35,52.42 406.67,52.43 406.99,52.45 407.31,52.46 407.62,52.47 407.94,52.48 408.26,52.49 408.57,52.50 408.89,52.51 409.21,52.52 409.53,52.53 409.84,52.53 410.16,52.54 410.48,52.55 410.79,52.56 411.11,52.56 411.43,52.57 411.75,52.58 412.06,52.58 412.38,52.59 412.70,52.59 413.01,52.60 413.33,52.60 413.65,52.61 413.97,52.61 414.28,52.61 414.60,52.62 414.92,52.62 415.23,52.63 415.55,52.63 415.87,52.63 416.19,52.64 416.50,52.64 416.82,52.64 417.14,52.64 417.45,52.65 417.77,52.65 418.09,52.65 418.41,52.65 418.72,52.66 419.04,52.66 419.36,52.66 419.67,52.66 419.99,52.66 420.31,52.67 420.63,52.67 420.94,52.67 421.26,52.67 421.58,52.67 421.89,52.67 422.21,52.67 422.53,52.68 422.85,52.68 423.16,52.68 423.48,52.68 423.80,52.68 424.11,52.68 424.43,52.68 424.75,52.68 425.07,52.68 425.38,52.68 425.70,52.68 425.70,52.70" fill="url(#g14)"/>
<polygon points="340.20,78.50 340.20,77.81 340.63,77.77 341.06,77.73 341.49,77.68 341.92,77.64 342.35,77.59 342.78,77.54 343.21,77.48 343.64,77.42 344.07,77.36 344.50,77.29 344.93,77.22 345.36,77.15 345.79,77.07 346.22,76.99 346.65,76.91 347.08,76.82 347.51,76.72 347.94,76.62 348.37,76.51 348.80,76.39 349.23,76.27 349.66,76.15 350.09,76.01 350.52,75.87 350.95,75.72 351.38,75.56 351.81,75.39 352.24,75.21 352.67,75.02 353.10,74.82 353.53,74.61 353.96,74.39 354.39,74.15 354.82,73.90 355.25,73.64 355.68,73.36 356.11,73.07 356.54,72.76 356.97,72.43 357.41,72.08 357.84,71.71 358.27,71.32 358.70,70.92 359.13,70.51 359.56,70.09 359.99,69.68 360.42,69.26 360.85,68.84 361.28,68.43 361.71,68.02 362.14,67.62 362.57,67.23 363.00,66.85 363.43,66.48 363.86,66.13 364.29,65.79 364.72,65.48 365.15,65.18 365.58,64.91 366.01,64.66 366.44,64.44 366.87,64.24 367.30,64.08 367.73,63.94 368.16,63.83 368.59,63.76 369.02,63.71 369.45,63.70 369.88,63.71 370.31,63.74 370.74,63.80 371.17,63.87 371.60,63.96 372.03,64.07 372.46,64.20 372.89,64.34 373.32,64.51 373.75,64.69 374.18,64.88 374.61,65.09 375.04,65.32 375.47,65.56 375.90,65.81 376.33,66.07 376.76,66.35 377.19,66.63 377.62,66.93 378.05,67.23 378.48,67.54 378.91,67.85 379.34,68.17 379.77,68.50 380.20,68.82 380.63,69.13 381.06,69.44 381.49,69.73 381.92,70.02 382.35,70.29 382.78,70.56 383.21,70.82 383.64,71.07 384.07,71.31 384.50,71.54 384.93,71.77 385.36,71.99 385.79,72.20 386.22,72.40 386.65,72.60 387.08,72.79 387.51,72.98 387.94,73.16 388.37,73.33 388.80,73.50 389.23,73.66 389.66,73.82 390.09,73.97 390.52,74.12 390.95,74.26 391.38,74.40 391.82,74.53 392.25,74.66 392.68,74.79 393.11,74.91 393.54,75.02 393.97,75.14 394.40,75.25 394.83,75.35 395.26,75.45 395.69,75.55 396.12,75.65 396.55,75.74 396.98,75.83 397.41,75.92 397.84,76.00 398.27,76.08 398.70,76.16 399.13,76.24 399.56,76.31 399.99,76.38 400.42,76.45 400.85,76.52 401.28,76.58 401.71,76.64 402.14,76.70 402.57,76.76 403.00,76.82 403.43,76.87 403.86,76.93 404.29,76.98 404.72,77.03 405.15,77.07 405.58,77.12 406.01,77.17 406.44,77.21 406.87,77.25 407.30,77.29 407.73,77.33 408.16,77.37 408.59,77.41 409.02,77.44 409.45,77.48 409.88,77.51 410.31,77.54 410.74,77.57 411.17,77.60 411.60,77.63 412.03,77.66 412.46,77.69 412.89,77.71 413.32,77.74 413.75,77.76 414.18,77.79 414.61,77.81 415.04,77.83 415.47,77.86 415.90,77.88 416.33,77.90 416.76,77.92 417.19,77.93 417.62,77.95 418.05,77.97 418.48,77.99 418.91,78.00 419.34,78.02 419.77,78.04 420.20,78.05 420.63,78.07 421.06,78.08 421.49,78.09 421.92,78.11 422.35,78.12 422.78,78.13 423.21,78.14 423.64,78.16 424.07,78.17 424.50,78.18 424.93,78.19 425.36,78.20 425.79,78.21 426.23,78.22 426.66,78.23 427.09,78.24 427.52,78.24 427.95,78.25 428.38,78.26 428.81,78.27 429.24,78.28 429.67,78.28 430.10,78.29 430.53,78.30 430.96,78.30 431.39,78.31 431.82,78.32 432.25,78.32 432.68,78.33 433.11,78.33 433.54,78.34 433.97,78.34 434.40,78.35 434.83,78.35 435.26,78.36 435.69,78.36 436.12,78.37 436.55,78.37 436.98,78.38 437.41,78.38 437.84,78.38 438.27,78.39 438.70,78.39 439.13,78.40 439.56,78.40 439.99,78.40 440.42,78.41 440.85,78.41 441.28,78.41 441.71,78.41 442.14,78.42 442.57,78.42 443.00,78.42 443.00,78.50" fill="url(#g15)"/>
<polygon points="339.40,104.50 339.40,104.24 339.75,104.22 340.10,104.20 340.45,104.18 340.80,104.16 341.15,104.14 341.50,104.12 341.85,104.09 342.19,104.07 342.54,104.04 342.89,104.01 343.24,103.98 343.59,103.94 343.94,103.91 344.29,103.87 344.64,103.83 344.99,103.78 345.34,103.74 345.69,103.69 346.04,103.63 346.39,103.58 346.74,103.52 347.09,103.45 347.44,103.38 347.78,103.31 348.13,103.23 348.48,103.15 348.83,103.06 349.18,102.97 349.53,102.87 349.88,102.76 350.23,102.65 350.58,102.53 350.93,102.40 351.28,102.26 351.63,102.11 351.98,101.96 352.33,101.79 352.68,101.61 353.03,101.42 353.37,101.22 353.72,101.01 354.07,100.78 354.42,100.54 354.77,100.28 355.12,100.00 355.47,99.71 355.82,99.40 356.17,99.06 356.52,98.71 356.87,98.33 357.22,97.93 357.57,97.50 357.92,97.04 358.27,96.55 358.62,96.04 358.96,95.49 359.31,94.94 359.66,94.38 360.01,93.83 360.36,93.27 360.71,92.71 361.06,92.16 361.41,91.62 361.76,91.10 362.11,90.59 362.46,90.11 362.81,89.64 363.16,89.21 363.51,88.81 363.86,88.44 364.21,88.11 364.55,87.81 364.90,87.56 365.25,87.36 365.60,87.20 365.95,87.08 366.30,87.02 366.65,87.00 367.00,87.02 367.35,87.06 367.70,87.13 368.05,87.22 368.40,87.33 368.75,87.47 369.10,87.64 369.45,87.82 369.80,88.03 370.14,88.26 370.49,88.51 370.84,88.77 371.19,89.06 371.54,89.36 371.89,89.68 372.24,90.01 372.59,90.36 372.94,90.71 373.29,91.08 373.64,91.46 373.99,91.84 374.34,92.23 374.69,92.63 375.04,93.03 375.39,93.41 375.73,93.79 376.08,94.15 376.43,94.50 376.78,94.83 377.13,95.16 377.48,95.47 377.83,95.78 378.18,96.07 378.53,96.35 378.88,96.63 379.23,96.89 379.58,97.15 379.93,97.40 380.28,97.64 380.63,97.87 380.98,98.09 381.32,98.31 381.67,98.52 382.02,98.72 382.37,98.91 382.72,99.10 383.07,99.28 383.42,99.46 383.77,99.63 384.12,99.79 384.47,99.95 384.82,100.10 385.17,100.25 385.52,100.39 385.87,100.53 386.22,100.67 386.57,100.80 386.91,100.92 387.26,101.04 387.61,101.16 387.96,101.27 388.31,101.38 388.66,101.48 389.01,101.59 389.36,101.68 389.71,101.78 390.06,101.87 390.41,101.96 390.76,102.04 391.11,102.13 391.46,102.21 391.81,102.28 392.16,102.36 392.50,102.43 392.85,102.50 393.20,102.57 393.55,102.63 393.90,102.70 394.25,102.76 394.60,102.82 394.95,102.87 395.30,102.93 395.65,102.98 396.00,103.03 396.35,103.08 396.70,103.13 397.05,103.17 397.40,103.22 397.75,103.26 398.09,103.30 398.44,103.34 398.79,103.38 399.14,103.42 399.49,103.46 399.84,103.49 400.19,103.53 400.54,103.56 400.89,103.59 401.24,103.62 401.59,103.65 401.94,103.68 402.29,103.71 402.64,103.73 402.99,103.76 403.34,103.78 403.68,103.81 404.03,103.83 404.38,103.85 404.73,103.88 405.08,103.90 405.43,103.92 405.78,103.94 406.13,103.96 406.48,103.97 406.83,103.99 407.18,104.01 407.53,104.03 407.88,104.04 408.23,104.06 408.58,104.07 408.93,104.09 409.27,104.10 409.62,104.11 409.97,104.13 410.32,104.14 410.67,104.15 411.02,104.16 411.37,104.17 411.72,104.19 412.07,104.20 412.42,104.21 412.77,104.22 413.12,104.23 413.47,104.24 413.82,104.24 414.17,104.25 414.52,104.26 414.86,104.27 415.21,104.28 415.56,104.28 415.91,104.29 416.26,104.30 416.61,104.31 416.96,104.31 417.31,104.32 417.66,104.32 418.01,104.33 418.36,104.34 418.71,104.34 419.06,104.35 419.41,104.35 419.76,104.36 420.11,104.36 420.45,104.37 420.80,104.37 421.15,104.38 421.50,104.38 421.85,104.38 422.20,104.39 422.55,104.39 422.90,104.39 422.90,104.50" fill="url(#g16)"/>
<polygon points="339.40,130.50 339.40,129.70 339.74,129.66 340.09,129.61 340.43,129.57 340.77,129.51 341.11,129.46 341.46,129.40 341.80,129.34 342.14,129.28 342.48,129.21 342.83,129.14 343.17,129.07 343.51,128.99 343.85,128.91 344.20,128.82 344.54,128.73 344.88,128.63 345.23,128.53 345.57,128.42 345.91,128.31 346.25,128.19 346.60,128.07 346.94,127.93 347.28,127.79 347.62,127.64 347.97,127.49 348.31,127.32 348.65,127.15 348.99,126.97 349.34,126.77 349.68,126.57 350.02,126.35 350.37,126.13 350.71,125.89 351.05,125.64 351.39,125.37 351.74,125.09 352.08,124.80 352.42,124.48 352.76,124.16 353.11,123.81 353.45,123.44 353.79,123.06 354.14,122.65 354.48,122.22 354.82,121.77 355.16,121.32 355.51,120.85 355.85,120.39 356.19,119.92 356.53,119.45 356.88,118.99 357.22,118.52 357.56,118.07 357.90,117.62 358.25,117.18 358.59,116.76 358.93,116.35 359.28,115.95 359.62,115.58 359.96,115.22 360.30,114.89 360.65,114.58 360.99,114.29 361.33,114.03 361.67,113.81 362.02,113.61 362.36,113.44 362.70,113.31 363.04,113.21 363.39,113.14 363.73,113.10 364.07,113.10 364.42,113.12 364.76,113.14 365.10,113.18 365.44,113.23 365.79,113.30 366.13,113.38 366.47,113.47 366.81,113.58 367.16,113.69 367.50,113.82 367.84,113.96 368.18,114.11 368.53,114.28 368.87,114.45 369.21,114.63 369.56,114.83 369.90,115.03 370.24,115.24 370.58,115.46 370.93,115.69 371.27,115.93 371.61,116.17 371.95,116.42 372.30,116.68 372.64,116.94 372.98,117.21 373.33,117.48 373.67,117.76 374.01,118.04 374.35,118.32 374.70,118.61 375.04,118.90 375.38,119.18 375.72,119.46 376.07,119.73 376.41,120.00 376.75,120.26 377.09,120.51 377.44,120.75 377.78,120.99 378.12,121.23 378.47,121.46 378.81,121.68 379.15,121.90 379.49,122.11 379.84,122.31 380.18,122.51 380.52,122.71 380.86,122.90 381.21,123.09 381.55,123.27 381.89,123.45 382.23,123.62 382.58,123.79 382.92,123.96 383.26,124.12 383.61,124.28 383.95,124.43 384.29,124.58 384.63,124.72 384.98,124.87 385.32,125.01 385.66,125.14 386.00,125.27 386.35,125.40 386.69,125.53 387.03,125.65 387.37,125.77 387.72,125.89 388.06,126.00 388.40,126.11 388.75,126.22 389.09,126.32 389.43,126.43 389.77,126.53 390.12,126.62 390.46,126.72 390.80,126.81 391.14,126.90 391.49,126.99 391.83,127.08 392.17,127.16 392.52,127.24 392.86,127.32 393.20,127.40 393.54,127.48 393.89,127.55 394.23,127.63 394.57,127.70 394.91,127.77 395.26,127.83 395.60,127.90 395.94,127.96 396.28,128.03 396.63,128.09 396.97,128.15 397.31,128.20 397.66,128.26 398.00,128.31 398.34,128.37 398.68,128.42 399.03,128.47 399.37,128.52 399.71,128.57 400.05,128.62 400.40,128.66 400.74,128.71 401.08,128.75 401.42,128.80 401.77,128.84 402.11,128.88 402.45,128.92 402.80,128.96 403.14,129.00 403.48,129.03 403.82,129.07 404.17,129.10 404.51,129.14 404.85,129.17 405.19,129.21 405.54,129.24 405.88,129.27 406.22,129.30 406.56,129.33 406.91,129.36 407.25,129.39 407.59,129.41 407.94,129.44 408.28,129.47 408.62,129.49 408.96,129.52 409.31,129.54 409.65,129.56 409.99,129.59 410.33,129.61 410.68,129.63 411.02,129.65 411.36,129.67 411.71,129.69 412.05,129.71 412.39,129.73 412.73,129.75 413.08,129.77 413.42,129.79 413.76,129.81 414.10,129.82 414.45,129.84 414.79,129.86 415.13,129.87 415.47,129.89 415.82,129.90 416.16,129.92 416.50,129.93 416.85,129.95 417.19,129.96 417.53,129.97 417.87,129.99 418.22,130.00 418.56,130.01 418.90,130.02 419.24,130.03 419.59,130.05 419.93,130.06 420.27,130.07 420.61,130.08 420.96,130.09 421.30,130.10 421.30,130.50" fill="url(#g17)"/>
<line x1="366.00" y1="27.00" x2="394.80" y2="27.00" stroke="#000" stroke-width="1.75"/>
<circle cx="378.00" cy="27.00" r="2.98" fill="#fff" stroke="#ff0000" stroke-width="1.85"/>
<line x1="362.20" y1="53.00" x2="395.20" y2="53.00" stroke="#000" stroke-width="1.75"/>
<circle cx="376.00" cy="53.00" r="2.98" fill="#fff" stroke="#ff0000" stroke-width="1.85"/>
<line x1="353.50" y1="78.80" x2="401.30" y2="78.80" stroke="#000" stroke-width="1.75"/>
<circle cx="372.00" cy="78.80" r="2.98" fill="#fff" stroke="#ff0000" stroke-width="1.85"/>
<line x1="354.30" y1="104.80" x2="391.70" y2="104.80" stroke="#000" stroke-width="1.75"/>
<circle cx="369.40" cy="104.80" r="2.98" fill="#fff" stroke="#ff0000" stroke-width="1.85"/>
<line x1="351.00" y1="130.80" x2="390.00" y2="130.80" stroke="#000" stroke-width="1.75"/>
<circle cx="366.00" cy="130.80" r="2.98" fill="#fff" stroke="#ff0000" stroke-width="1.85"/>
<line x1="333.3" y1="1" x2="333.3" y2="145.4" stroke="#bebebe" stroke-width="1.1"/>
<line x1="333.3" y1="145.4" x2="449.6" y2="145.4" stroke="#bebebe" stroke-width="1.1"/>
<line x1="329.7" y1="26.70" x2="333.3" y2="26.70" stroke="#bebebe" stroke-width="1.1"/>
<text x="327.00" y="31.30" font-size="13" text-anchor="end" fill="#4d4d4d" font-weight="normal" >V<tspan dx="-1.04">o</tspan>lcanic</text>
<line x1="329.7" y1="52.70" x2="333.3" y2="52.70" stroke="#bebebe" stroke-width="1.1"/>
<text x="327.00" y="57.30" font-size="13" text-anchor="end" fill="#4d4d4d" font-weight="normal" >Sedimentar<tspan dx="0.39">y</tspan></text>
<line x1="329.7" y1="78.50" x2="333.3" y2="78.50" stroke="#bebebe" stroke-width="1.1"/>
<text x="327.00" y="83.10" font-size="13" text-anchor="end" fill="#4d4d4d" font-weight="normal" >Plutonic</text>
<line x1="329.7" y1="104.50" x2="333.3" y2="104.50" stroke="#bebebe" stroke-width="1.1"/>
<text x="327.00" y="109.10" font-size="13" text-anchor="end" fill="#4d4d4d" font-weight="normal" >Metamorphic</text>
<line x1="329.7" y1="130.50" x2="333.3" y2="130.50" stroke="#bebebe" stroke-width="1.1"/>
<text x="327.00" y="135.10" font-size="13" text-anchor="end" fill="#4d4d4d" font-weight="normal" >V<tspan dx="-1.04">o</tspan>lc./sed.</text>
<line x1="338.40" y1="145.4" x2="338.40" y2="149.20000000000002" stroke="#bebebe" stroke-width="1.1"/>
<text x="338.40" y="162.00" font-size="12.5" text-anchor="middle" fill="#4d4d4d" font-weight="normal" >0</text>
<line x1="391.40" y1="145.4" x2="391.40" y2="149.20000000000002" stroke="#bebebe" stroke-width="1.1"/>
<text x="391.40" y="162.00" font-size="12.5" text-anchor="middle" fill="#4d4d4d" font-weight="normal" >1</text>
<line x1="444.40" y1="145.4" x2="444.40" y2="149.20000000000002" stroke="#bebebe" stroke-width="1.1"/>
<text x="444.40" y="162.00" font-size="12.5" text-anchor="middle" fill="#4d4d4d" font-weight="normal" >2</text>
<text x="391.60" y="185.80" font-size="15.6" text-anchor="middle" fill="#000">k</text>
<line x1="602.95" y1="138.1" x2="602.95" y2="1" stroke="#a8a8a8" stroke-width="1.1" stroke-dasharray="5.6 6.47" stroke-dashoffset="0"/>
<line x1="659.45" y1="138.1" x2="659.45" y2="1" stroke="#a8a8a8" stroke-width="1.1" stroke-dasharray="5.6 6.47" stroke-dashoffset="0"/>
<line x1="625.20" y1="1" x2="625.20" y2="138.1" stroke="#bebebe" stroke-width="1.3"/>
<polygon points="593.40,25.40 593.40,24.90 593.77,24.87 594.14,24.85 594.52,24.82 594.89,24.80 595.26,24.77 595.63,24.74 596.01,24.71 596.38,24.68 596.75,24.65 597.12,24.61 597.50,24.57 597.87,24.54 598.24,24.50 598.61,24.46 598.99,24.41 599.36,24.37 599.73,24.32 600.10,24.27 600.48,24.22 600.85,24.16 601.22,24.11 601.59,24.05 601.96,23.98 602.34,23.92 602.71,23.85 603.08,23.78 603.45,23.71 603.83,23.63 604.20,23.55 604.57,23.46 604.94,23.37 605.32,23.28 605.69,23.18 606.06,23.08 606.43,22.97 606.81,22.86 607.18,22.74 607.55,22.62 607.92,22.49 608.30,22.36 608.67,22.22 609.04,22.07 609.41,21.92 609.78,21.76 610.16,21.59 610.53,21.42 610.90,21.23 611.27,21.04 611.65,20.84 612.02,20.63 612.39,20.41 612.76,20.18 613.14,19.94 613.51,19.69 613.88,19.43 614.25,19.16 614.63,18.87 615.00,18.57 615.37,18.27 615.74,17.97 616.12,17.66 616.49,17.36 616.86,17.05 617.23,16.74 617.61,16.44 617.98,16.14 618.35,15.84 618.72,15.54 619.09,15.25 619.47,14.97 619.84,14.69 620.21,14.42 620.58,14.16 620.96,13.91 621.33,13.67 621.70,13.44 622.07,13.23 622.45,13.03 622.82,12.84 623.19,12.67 623.56,12.52 623.94,12.38 624.31,12.25 624.68,12.15 625.05,12.06 625.43,11.99 625.80,11.94 626.17,11.91 626.54,11.90 626.91,11.90 627.29,11.92 627.66,11.95 628.03,12.00 628.40,12.05 628.78,12.12 629.15,12.20 629.52,12.30 629.89,12.40 630.27,12.52 630.64,12.65 631.01,12.79 631.38,12.94 631.76,13.10 632.13,13.27 632.50,13.45 632.87,13.63 633.25,13.83 633.62,14.03 633.99,14.24 634.36,14.46 634.73,14.69 635.11,14.92 635.48,15.15 635.85,15.39 636.22,15.63 636.60,15.88 636.97,16.13 637.34,16.38 637.71,16.63 638.09,16.87 638.46,17.10 638.83,17.33 639.20,17.56 639.58,17.77 639.95,17.98 640.32,18.19 640.69,18.39 641.07,18.58 641.44,18.77 641.81,18.95 642.18,19.13 642.55,19.30 642.93,19.47 643.30,19.64 643.67,19.80 644.04,19.95 644.42,20.10 644.79,20.25 645.16,20.39 645.53,20.53 645.91,20.66 646.28,20.79 646.65,20.92 647.02,21.04 647.40,21.16 647.77,21.28 648.14,21.40 648.51,21.51 648.89,21.61 649.26,21.72 649.63,21.82 650.00,21.92 650.37,22.01 650.75,22.11 651.12,22.20 651.49,22.29 651.86,22.37 652.24,22.46 652.61,22.54 652.98,22.62 653.35,22.69 653.73,22.77 654.10,22.84 654.47,22.91 654.84,22.98 655.22,23.05 655.59,23.11 655.96,23.18 656.33,23.24 656.71,23.30 657.08,23.36 657.45,23.41 657.82,23.47 658.19,23.52 658.57,23.57 658.94,23.62 659.31,23.67 659.68,23.72 660.06,23.77 660.43,23.81 660.80,23.85 661.17,23.90 661.55,23.94 661.92,23.98 662.29,24.02 662.66,24.06 663.04,24.09 663.41,24.13 663.78,24.17 664.15,24.20 664.53,24.23 664.90,24.26 665.27,24.30 665.64,24.33 666.02,24.36 666.39,24.38 666.76,24.41 667.13,24.44 667.50,24.47 667.88,24.49 668.25,24.52 668.62,24.54 668.99,24.57 669.37,24.59 669.74,24.61 670.11,24.63 670.48,24.65 670.86,24.67 671.23,24.69 671.60,24.71 671.97,24.73 672.35,24.75 672.72,24.77 673.09,24.79 673.46,24.80 673.84,24.82 674.21,24.84 674.58,24.85 674.95,24.87 675.32,24.88 675.70,24.90 676.07,24.91 676.44,24.92 676.81,24.94 677.19,24.95 677.56,24.96 677.93,24.97 678.30,24.99 678.68,25.00 679.05,25.01 679.42,25.02 679.79,25.03 680.17,25.04 680.54,25.05 680.91,25.06 681.28,25.07 681.66,25.08 682.03,25.09 682.40,25.10 682.40,25.40" fill="url(#g18)"/>
<polygon points="604.40,49.90 604.40,49.69 604.67,49.67 604.93,49.66 605.20,49.65 605.46,49.63 605.73,49.62 605.99,49.60 606.26,49.58 606.52,49.57 606.79,49.55 607.05,49.53 607.32,49.51 607.58,49.48 607.85,49.46 608.11,49.44 608.38,49.41 608.64,49.38 608.91,49.35 609.17,49.32 609.44,49.29 609.71,49.25 609.97,49.22 610.24,49.18 610.50,49.14 610.77,49.09 611.03,49.05 611.30,49.00 611.56,48.95 611.83,48.89 612.09,48.84 612.36,48.78 612.62,48.71 612.89,48.65 613.15,48.58 613.42,48.50 613.68,48.42 613.95,48.34 614.22,48.25 614.48,48.15 614.75,48.06 615.01,47.95 615.28,47.84 615.54,47.72 615.81,47.60 616.07,47.47 616.34,47.33 616.60,47.19 616.87,47.03 617.13,46.87 617.40,46.70 617.66,46.52 617.93,46.33 618.19,46.12 618.46,45.91 618.72,45.68 618.99,45.45 619.26,45.19 619.52,44.93 619.79,44.65 620.05,44.35 620.32,44.03 620.58,43.70 620.85,43.35 621.11,42.98 621.38,42.59 621.64,42.17 621.91,41.73 622.17,41.27 622.44,40.78 622.70,40.27 622.97,39.74 623.23,39.21 623.50,38.68 623.76,38.14 624.03,37.61 624.30,37.07 624.56,36.55 624.83,36.03 625.09,35.52 625.36,35.02 625.62,34.54 625.89,34.07 626.15,33.63 626.42,33.21 626.68,32.81 626.95,32.44 627.21,32.10 627.48,31.79 627.74,31.52 628.01,31.28 628.27,31.08 628.54,30.91 628.81,30.79 629.07,30.70 629.34,30.66 629.60,30.65 629.87,30.68 630.13,30.74 630.40,30.84 630.66,30.97 630.93,31.12 631.19,31.31 631.46,31.53 631.72,31.78 631.99,32.05 632.25,32.36 632.52,32.68 632.78,33.03 633.05,33.40 633.31,33.79 633.58,34.20 633.85,34.62 634.11,35.06 634.38,35.51 634.64,35.97 634.91,36.44 635.17,36.91 635.44,37.39 635.70,37.85 635.97,38.29 636.23,38.71 636.50,39.12 636.76,39.52 637.03,39.90 637.29,40.27 637.56,40.62 637.82,40.96 638.09,41.29 638.35,41.60 638.62,41.91 638.89,42.20 639.15,42.48 639.42,42.75 639.68,43.02 639.95,43.27 640.21,43.51 640.48,43.75 640.74,43.97 641.01,44.19 641.27,44.40 641.54,44.60 641.80,44.79 642.07,44.98 642.33,45.16 642.60,45.34 642.86,45.50 643.13,45.66 643.39,45.82 643.66,45.97 643.93,46.11 644.19,46.25 644.46,46.39 644.72,46.51 644.99,46.64 645.25,46.76 645.52,46.87 645.78,46.98 646.05,47.09 646.31,47.19 646.58,47.29 646.84,47.39 647.11,47.48 647.37,47.57 647.64,47.66 647.90,47.74 648.17,47.82 648.44,47.89 648.70,47.97 648.97,48.04 649.23,48.11 649.50,48.17 649.76,48.23 650.03,48.30 650.29,48.35 650.56,48.41 650.82,48.47 651.09,48.52 651.35,48.57 651.62,48.62 651.88,48.67 652.15,48.71 652.41,48.75 652.68,48.80 652.94,48.84 653.21,48.88 653.48,48.91 653.74,48.95 654.01,48.98 654.27,49.02 654.54,49.05 654.80,49.08 655.07,49.11 655.33,49.14 655.60,49.17 655.86,49.19 656.13,49.22 656.39,49.25 656.66,49.27 656.92,49.29 657.19,49.31 657.45,49.34 657.72,49.36 657.98,49.38 658.25,49.40 658.52,49.41 658.78,49.43 659.05,49.45 659.31,49.47 659.58,49.48 659.84,49.50 660.11,49.51 660.37,49.53 660.64,49.54 660.90,49.55 661.17,49.57 661.43,49.58 661.70,49.59 661.96,49.60 662.23,49.61 662.49,49.62 662.76,49.63 663.03,49.64 663.29,49.65 663.56,49.66 663.82,49.67 664.09,49.68 664.35,49.69 664.62,49.69 664.88,49.70 665.15,49.71 665.41,49.72 665.68,49.72 665.94,49.73 666.21,49.74 666.47,49.74 666.74,49.75 667.00,49.75 667.27,49.76 667.53,49.76 667.80,49.77 667.80,49.90" fill="url(#g19)"/>
<polygon points="596.30,74.40 596.30,74.16 596.57,74.15 596.85,74.13 597.12,74.11 597.40,74.09 597.67,74.07 597.95,74.05 598.22,74.03 598.50,74.01 598.77,73.98 599.05,73.95 599.32,73.93 599.60,73.89 599.87,73.86 600.15,73.83 600.42,73.79 600.70,73.75 600.97,73.71 601.25,73.66 601.52,73.62 601.80,73.57 602.07,73.51 602.35,73.45 602.62,73.39 602.90,73.33 603.17,73.26 603.45,73.19 603.72,73.11 604.00,73.02 604.27,72.93 604.55,72.84 604.82,72.74 605.10,72.63 605.37,72.52 605.65,72.40 605.92,72.27 606.20,72.13 606.47,71.98 606.75,71.82 607.02,71.66 607.30,71.48 607.57,71.29 607.85,71.09 608.12,70.88 608.40,70.65 608.67,70.41 608.95,70.15 609.22,69.87 609.49,69.58 609.77,69.27 610.04,68.94 610.32,68.59 610.59,68.21 610.87,67.81 611.14,67.38 611.42,66.93 611.69,66.45 611.97,65.93 612.24,65.38 612.52,64.80 612.79,64.19 613.07,63.57 613.34,62.94 613.62,62.31 613.89,61.67 614.17,61.04 614.44,60.42 614.72,59.81 614.99,59.21 615.27,58.63 615.54,58.08 615.82,57.55 616.09,57.05 616.37,56.58 616.64,56.16 616.92,55.77 617.19,55.42 617.47,55.13 617.74,54.88 618.02,54.68 618.29,54.53 618.57,54.44 618.84,54.40 619.12,54.41 619.39,54.45 619.67,54.52 619.94,54.63 620.22,54.76 620.49,54.93 620.77,55.12 621.04,55.34 621.32,55.59 621.59,55.87 621.87,56.17 622.14,56.50 622.42,56.84 622.69,57.21 622.96,57.60 623.24,58.00 623.51,58.42 623.79,58.86 624.06,59.31 624.34,59.76 624.61,60.23 624.89,60.70 625.16,61.18 625.44,61.65 625.71,62.10 625.99,62.53 626.26,62.95 626.54,63.35 626.81,63.74 627.09,64.12 627.36,64.48 627.64,64.83 627.91,65.17 628.19,65.50 628.46,65.81 628.74,66.11 629.01,66.41 629.29,66.69 629.56,66.96 629.84,67.22 630.11,67.48 630.39,67.72 630.66,67.96 630.94,68.18 631.21,68.40 631.49,68.62 631.76,68.82 632.04,69.02 632.31,69.21 632.59,69.39 632.86,69.57 633.14,69.74 633.41,69.90 633.69,70.06 633.96,70.21 634.24,70.36 634.51,70.50 634.79,70.64 635.06,70.77 635.34,70.90 635.61,71.03 635.88,71.14 636.16,71.26 636.43,71.37 636.71,71.48 636.98,71.58 637.26,71.68 637.53,71.78 637.81,71.87 638.08,71.96 638.36,72.04 638.63,72.13 638.91,72.21 639.18,72.29 639.46,72.36 639.73,72.43 640.01,72.50 640.28,72.57 640.56,72.63 640.83,72.70 641.11,72.76 641.38,72.81 641.66,72.87 641.93,72.92 642.21,72.98 642.48,73.03 642.76,73.07 643.03,73.12 643.31,73.17 643.58,73.21 643.86,73.25 644.13,73.29 644.41,73.33 644.68,73.37 644.96,73.41 645.23,73.44 645.51,73.47 645.78,73.51 646.06,73.54 646.33,73.57 646.61,73.60 646.88,73.63 647.16,73.65 647.43,73.68 647.71,73.71 647.98,73.73 648.26,73.75 648.53,73.78 648.81,73.80 649.08,73.82 649.35,73.84 649.63,73.86 649.90,73.88 650.18,73.90 650.45,73.92 650.73,73.93 651.00,73.95 651.28,73.96 651.55,73.98 651.83,74.00 652.10,74.01 652.38,74.02 652.65,74.04 652.93,74.05 653.20,74.06 653.48,74.07 653.75,74.09 654.03,74.10 654.30,74.11 654.58,74.12 654.85,74.13 655.13,74.14 655.40,74.15 655.68,74.16 655.95,74.16 656.23,74.17 656.50,74.18 656.78,74.19 657.05,74.20 657.33,74.20 657.60,74.21 657.88,74.22 658.15,74.22 658.43,74.23 658.70,74.24 658.98,74.24 659.25,74.25 659.53,74.25 659.80,74.26 660.08,74.26 660.35,74.27 660.63,74.27 660.90,74.28 661.18,74.28 661.45,74.28 661.73,74.29 662.00,74.29 662.00,74.40" fill="url(#g20)"/>
<polygon points="589.50,98.80 589.50,98.19 589.85,98.16 590.20,98.12 590.56,98.08 590.91,98.04 591.26,98.00 591.61,97.95 591.97,97.90 592.32,97.85 592.67,97.79 593.02,97.73 593.38,97.67 593.73,97.61 594.08,97.54 594.43,97.46 594.78,97.39 595.14,97.30 595.49,97.22 595.84,97.12 596.19,97.03 596.55,96.92 596.90,96.81 597.25,96.70 597.60,96.58 597.96,96.45 598.31,96.31 598.66,96.16 599.01,96.01 599.36,95.85 599.72,95.68 600.07,95.50 600.42,95.30 600.77,95.10 601.13,94.88 601.48,94.66 601.83,94.42 602.18,94.16 602.54,93.89 602.89,93.61 603.24,93.30 603.59,92.98 603.94,92.64 604.30,92.29 604.65,91.91 605.00,91.51 605.35,91.08 605.71,90.64 606.06,90.20 606.41,89.75 606.76,89.30 607.12,88.85 607.47,88.40 607.82,87.95 608.17,87.51 608.52,87.08 608.88,86.66 609.23,86.25 609.58,85.86 609.93,85.48 610.29,85.12 610.64,84.79 610.99,84.48 611.34,84.19 611.69,83.93 612.05,83.70 612.40,83.50 612.75,83.34 613.10,83.20 613.46,83.10 613.81,83.03 614.16,83.00 614.51,83.00 614.87,83.03 615.22,83.09 615.57,83.17 615.92,83.28 616.27,83.41 616.63,83.57 616.98,83.75 617.33,83.95 617.68,84.18 618.04,84.42 618.39,84.69 618.74,84.97 619.09,85.27 619.45,85.59 619.80,85.92 620.15,86.26 620.50,86.61 620.85,86.98 621.21,87.35 621.56,87.73 621.91,88.12 622.26,88.50 622.62,88.87 622.97,89.23 623.32,89.58 623.67,89.91 624.03,90.23 624.38,90.54 624.73,90.84 625.08,91.13 625.43,91.41 625.79,91.68 626.14,91.93 626.49,92.18 626.84,92.42 627.20,92.65 627.55,92.87 627.90,93.09 628.25,93.29 628.61,93.49 628.96,93.69 629.31,93.87 629.66,94.05 630.01,94.22 630.37,94.39 630.72,94.55 631.07,94.70 631.42,94.85 631.78,94.99 632.13,95.13 632.48,95.26 632.83,95.39 633.19,95.51 633.54,95.63 633.89,95.75 634.24,95.86 634.59,95.96 634.95,96.07 635.30,96.17 635.65,96.26 636.00,96.35 636.36,96.44 636.71,96.53 637.06,96.61 637.41,96.69 637.77,96.76 638.12,96.84 638.47,96.91 638.82,96.98 639.17,97.04 639.53,97.11 639.88,97.17 640.23,97.23 640.58,97.28 640.94,97.34 641.29,97.39 641.64,97.44 641.99,97.49 642.35,97.54 642.70,97.58 643.05,97.63 643.40,97.67 643.75,97.71 644.11,97.75 644.46,97.79 644.81,97.83 645.16,97.86 645.52,97.89 645.87,97.93 646.22,97.96 646.57,97.99 646.93,98.02 647.28,98.05 647.63,98.07 647.98,98.10 648.33,98.13 648.69,98.15 649.04,98.17 649.39,98.20 649.74,98.22 650.10,98.24 650.45,98.26 650.80,98.28 651.15,98.30 651.51,98.32 651.86,98.33 652.21,98.35 652.56,98.37 652.91,98.38 653.27,98.40 653.62,98.41 653.97,98.43 654.32,98.44 654.68,98.45 655.03,98.47 655.38,98.48 655.73,98.49 656.08,98.50 656.44,98.51 656.79,98.52 657.14,98.53 657.49,98.54 657.85,98.55 658.20,98.56 658.55,98.57 658.90,98.58 659.26,98.58 659.61,98.59 659.96,98.60 660.31,98.61 660.66,98.61 661.02,98.62 661.37,98.63 661.72,98.63 662.07,98.64 662.43,98.65 662.78,98.65 663.13,98.66 663.48,98.66 663.84,98.67 664.19,98.67 664.54,98.68 664.89,98.68 665.24,98.69 665.60,98.69 665.95,98.69 666.30,98.70 666.65,98.70 667.01,98.70 667.36,98.71 667.71,98.71 668.06,98.71 668.42,98.72 668.77,98.72 669.12,98.72 669.47,98.73 669.82,98.73 670.18,98.73 670.53,98.73 670.88,98.74 671.23,98.74 671.59,98.74 671.94,98.74 672.29,98.74 672.64,98.75 673.00,98.75 673.35,98.75 673.70,98.75 673.70,98.80" fill="url(#g21)"/>
<polygon points="590.30,123.40 590.30,122.93 590.55,122.91 590.80,122.88 591.06,122.86 591.31,122.83 591.56,122.80 591.81,122.76 592.06,122.73 592.32,122.69 592.57,122.65 592.82,122.61 593.07,122.57 593.32,122.53 593.57,122.48 593.83,122.43 594.08,122.38 594.33,122.32 594.58,122.27 594.83,122.21 595.09,122.14 595.34,122.07 595.59,122.00 595.84,121.93 596.09,121.85 596.35,121.77 596.60,121.68 596.85,121.58 597.10,121.49 597.35,121.38 597.60,121.28 597.86,121.16 598.11,121.04 598.36,120.92 598.61,120.78 598.86,120.64 599.12,120.49 599.37,120.34 599.62,120.17 599.87,120.00 600.12,119.82 600.38,119.62 600.63,119.42 600.88,119.21 601.13,118.98 601.38,118.74 601.63,118.49 601.89,118.23 602.14,117.95 602.39,117.66 602.64,117.35 602.89,117.03 603.15,116.68 603.40,116.32 603.65,115.94 603.90,115.54 604.15,115.12 604.41,114.68 604.66,114.21 604.91,113.71 605.16,113.19 605.41,112.64 605.66,112.08 605.92,111.51 606.17,110.93 606.42,110.36 606.67,109.78 606.92,109.20 607.18,108.62 607.43,108.06 607.68,107.50 607.93,106.95 608.18,106.41 608.44,105.89 608.69,105.39 608.94,104.91 609.19,104.45 609.44,104.02 609.69,103.62 609.95,103.24 610.20,102.90 610.45,102.59 610.70,102.32 610.95,102.09 611.21,101.89 611.46,101.73 611.71,101.61 611.96,101.54 612.21,101.50 612.47,101.51 612.72,101.58 612.97,101.70 613.22,101.87 613.47,102.09 613.73,102.37 613.98,102.70 614.23,103.07 614.48,103.49 614.73,103.95 614.98,104.44 615.24,104.97 615.49,105.53 615.74,106.12 615.99,106.73 616.24,107.36 616.50,108.00 616.75,108.66 617.00,109.31 617.25,109.94 617.50,110.53 617.76,111.10 618.01,111.65 618.26,112.17 618.51,112.67 618.76,113.14 619.01,113.60 619.27,114.03 619.52,114.45 619.77,114.84 620.02,115.22 620.27,115.59 620.53,115.93 620.78,116.26 621.03,116.58 621.28,116.88 621.53,117.17 621.79,117.45 622.04,117.71 622.29,117.96 622.54,118.20 622.79,118.43 623.04,118.65 623.30,118.87 623.55,119.07 623.80,119.26 624.05,119.44 624.30,119.62 624.56,119.79 624.81,119.95 625.06,120.10 625.31,120.24 625.56,120.38 625.82,120.52 626.07,120.65 626.32,120.77 626.57,120.89 626.82,121.00 627.07,121.10 627.33,121.20 627.58,121.30 627.83,121.40 628.08,121.48 628.33,121.57 628.59,121.65 628.84,121.73 629.09,121.80 629.34,121.87 629.59,121.94 629.85,122.01 630.10,122.07 630.35,122.13 630.60,122.18 630.85,122.24 631.11,122.29 631.36,122.34 631.61,122.38 631.86,122.43 632.11,122.47 632.36,122.51 632.62,122.55 632.87,122.59 633.12,122.63 633.37,122.66 633.62,122.69 633.88,122.72 634.13,122.75 634.38,122.78 634.63,122.81 634.88,122.84 635.14,122.86 635.39,122.89 635.64,122.91 635.89,122.93 636.14,122.95 636.39,122.97 636.65,122.99 636.90,123.01 637.15,123.03 637.40,123.04 637.65,123.06 637.91,123.07 638.16,123.09 638.41,123.10 638.66,123.11 638.91,123.13 639.17,123.14 639.42,123.15 639.67,123.16 639.92,123.17 640.17,123.18 640.42,123.19 640.68,123.20 640.93,123.21 641.18,123.22 641.43,123.23 641.68,123.23 641.94,123.24 642.19,123.25 642.44,123.26 642.69,123.26 642.94,123.27 643.20,123.27 643.45,123.28 643.70,123.28 643.95,123.29 644.20,123.29 644.45,123.30 644.71,123.30 644.96,123.31 645.21,123.31 645.46,123.32 645.71,123.32 645.97,123.32 646.22,123.33 646.47,123.33 646.72,123.33 646.97,123.34 647.23,123.34 647.48,123.34 647.73,123.34 647.98,123.35 648.23,123.35 648.48,123.35 648.74,123.35 648.99,123.36 649.24,123.36 649.49,123.36 649.74,123.36 650.00,123.36 650.25,123.36 650.50,123.37 650.50,123.40" fill="url(#g22)"/>
<line x1="613.00" y1="25.70" x2="655.80" y2="25.70" stroke="#000" stroke-width="1.75"/>
<circle cx="630.30" cy="25.70" r="2.98" fill="#fff" stroke="#ff0000" stroke-width="1.85"/>
<line x1="617.10" y1="50.20" x2="647.00" y2="50.20" stroke="#000" stroke-width="1.75"/>
<circle cx="630.30" cy="50.20" r="2.98" fill="#fff" stroke="#ff0000" stroke-width="1.85"/>
<line x1="608.10" y1="74.70" x2="636.80" y2="74.70" stroke="#000" stroke-width="1.75"/>
<circle cx="620.30" cy="74.70" r="2.98" fill="#fff" stroke="#ff0000" stroke-width="1.85"/>
<line x1="600.70" y1="99.10" x2="640.80" y2="99.10" stroke="#000" stroke-width="1.75"/>
<circle cx="616.40" cy="99.10" r="2.98" fill="#fff" stroke="#ff0000" stroke-width="1.85"/>
<line x1="601.50" y1="123.70" x2="629.60" y2="123.70" stroke="#000" stroke-width="1.75"/>
<circle cx="612.30" cy="123.70" r="2.98" fill="#fff" stroke="#ff0000" stroke-width="1.85"/>
<line x1="575.0" y1="1" x2="575.0" y2="138.1" stroke="#bebebe" stroke-width="1.1"/>
<line x1="575.0" y1="138.1" x2="685" y2="138.1" stroke="#bebebe" stroke-width="1.1"/>
<line x1="571.4" y1="25.40" x2="575.0" y2="25.40" stroke="#bebebe" stroke-width="1.1"/>
<text x="568.30" y="30.00" font-size="13" text-anchor="end" fill="#4d4d4d" font-weight="normal" >V<tspan dx="-1.04">o</tspan>lc./sed.</text>
<line x1="571.4" y1="49.90" x2="575.0" y2="49.90" stroke="#bebebe" stroke-width="1.1"/>
<text x="568.30" y="54.50" font-size="13" text-anchor="end" fill="#4d4d4d" font-weight="normal" >V<tspan dx="-1.04">o</tspan>lcanic</text>
<line x1="571.4" y1="74.40" x2="575.0" y2="74.40" stroke="#bebebe" stroke-width="1.1"/>
<text x="568.30" y="79.00" font-size="13" text-anchor="end" fill="#4d4d4d" font-weight="normal" >Sedimentar<tspan dx="0.39">y</tspan></text>
<line x1="571.4" y1="98.80" x2="575.0" y2="98.80" stroke="#bebebe" stroke-width="1.1"/>
<text x="568.30" y="103.40" font-size="13" text-anchor="end" fill="#4d4d4d" font-weight="normal" >Plutonic</text>
<line x1="571.4" y1="123.40" x2="575.0" y2="123.40" stroke="#bebebe" stroke-width="1.1"/>
<text x="568.30" y="128.00" font-size="13" text-anchor="end" fill="#4d4d4d" font-weight="normal" >Metamorphic</text>
<line x1="579.70" y1="138.1" x2="579.70" y2="141.9" stroke="#bebebe" stroke-width="1.1"/>
<text x="579.70" y="154.70" font-size="12.5" text-anchor="middle" fill="#4d4d4d" font-weight="normal" >0</text>
<line x1="604.70" y1="138.1" x2="604.70" y2="141.9" stroke="#bebebe" stroke-width="1.1"/>
<text x="604.70" y="154.70" font-size="12.5" text-anchor="middle" fill="#4d4d4d" font-weight="normal" >1</text>
<line x1="629.70" y1="138.1" x2="629.70" y2="141.9" stroke="#bebebe" stroke-width="1.1"/>
<text x="629.70" y="154.70" font-size="12.5" text-anchor="middle" fill="#4d4d4d" font-weight="normal" >2</text>
<line x1="654.70" y1="138.1" x2="654.70" y2="141.9" stroke="#bebebe" stroke-width="1.1"/>
<text x="654.70" y="154.70" font-size="12.5" text-anchor="middle" fill="#4d4d4d" font-weight="normal" >3</text>
<line x1="679.70" y1="138.1" x2="679.70" y2="141.9" stroke="#bebebe" stroke-width="1.1"/>
<text x="679.70" y="154.70" font-size="12.5" text-anchor="middle" fill="#4d4d4d" font-weight="normal" >4</text>
<text x="629.80" y="183.00" font-size="15.6" text-anchor="middle" fill="#000">σ (km<tspan dy="-7.9" font-size="11.2">3</tspan><tspan dy="7.9" dx="0.3">)</tspan></text>
<line x1="355.22" y1="349.6" x2="355.22" y2="205" stroke="#a8a8a8" stroke-width="1.1" stroke-dasharray="5.6 6.47" stroke-dashoffset="0"/>
<line x1="395.01" y1="349.6" x2="395.01" y2="205" stroke="#a8a8a8" stroke-width="1.1" stroke-dasharray="5.6 6.47" stroke-dashoffset="0"/>
<line x1="373.10" y1="205" x2="373.10" y2="349.6" stroke="#bebebe" stroke-width="1.3"/>
<polygon points="344.70,230.50 344.70,230.16 345.08,230.15 345.46,230.13 345.84,230.10 346.22,230.08 346.60,230.06 346.98,230.03 347.36,230.01 347.74,229.98 348.12,229.95 348.49,229.92 348.87,229.88 349.25,229.85 349.63,229.81 350.01,229.77 350.39,229.73 350.77,229.69 351.15,229.64 351.53,229.59 351.91,229.54 352.29,229.49 352.67,229.43 353.05,229.37 353.43,229.30 353.81,229.24 354.19,229.16 354.57,229.09 354.95,229.01 355.33,228.92 355.71,228.83 356.08,228.74 356.46,228.64 356.84,228.53 357.22,228.42 357.60,228.30 357.98,228.18 358.36,228.04 358.74,227.91 359.12,227.76 359.50,227.60 359.88,227.44 360.26,227.26 360.64,227.08 361.02,226.89 361.40,226.68 361.78,226.46 362.16,226.23 362.54,225.99 362.92,225.73 363.30,225.46 363.67,225.18 364.05,224.87 364.43,224.55 364.81,224.22 365.19,223.86 365.57,223.48 365.95,223.08 366.33,222.66 366.71,222.24 367.09,221.81 367.47,221.37 367.85,220.94 368.23,220.50 368.61,220.07 368.99,219.64 369.37,219.22 369.75,218.80 370.13,218.40 370.51,218.01 370.89,217.63 371.26,217.28 371.64,216.93 372.02,216.62 372.40,216.32 372.78,216.05 373.16,215.80 373.54,215.58 373.92,215.39 374.30,215.23 374.68,215.10 375.06,215.00 375.44,214.94 375.82,214.90 376.20,214.90 376.58,214.92 376.96,214.95 377.34,215.00 377.72,215.06 378.10,215.14 378.48,215.24 378.85,215.35 379.23,215.47 379.61,215.61 379.99,215.77 380.37,215.93 380.75,216.11 381.13,216.31 381.51,216.51 381.89,216.73 382.27,216.95 382.65,217.19 383.03,217.44 383.41,217.69 383.79,217.95 384.17,218.22 384.55,218.50 384.93,218.78 385.31,219.07 385.69,219.36 386.07,219.66 386.44,219.96 386.82,220.26 387.20,220.55 387.58,220.83 387.96,221.11 388.34,221.37 388.72,221.64 389.10,221.89 389.48,222.13 389.86,222.37 390.24,222.60 390.62,222.83 391.00,223.05 391.38,223.26 391.76,223.47 392.14,223.67 392.52,223.86 392.90,224.05 393.28,224.24 393.66,224.41 394.03,224.59 394.41,224.76 394.79,224.92 395.17,225.08 395.55,225.23 395.93,225.38 396.31,225.53 396.69,225.67 397.07,225.81 397.45,225.94 397.83,226.07 398.21,226.20 398.59,226.32 398.97,226.44 399.35,226.56 399.73,226.67 400.11,226.78 400.49,226.89 400.87,226.99 401.25,227.09 401.62,227.19 402.00,227.28 402.38,227.37 402.76,227.46 403.14,227.55 403.52,227.63 403.90,227.71 404.28,227.79 404.66,227.87 405.04,227.95 405.42,228.02 405.80,228.09 406.18,228.16 406.56,228.23 406.94,228.29 407.32,228.35 407.70,228.41 408.08,228.47 408.46,228.53 408.84,228.59 409.21,228.64 409.59,228.70 409.97,228.75 410.35,228.80 410.73,228.85 411.11,228.89 411.49,228.94 411.87,228.98 412.25,229.03 412.63,229.07 413.01,229.11 413.39,229.15 413.77,229.19 414.15,229.22 414.53,229.26 414.91,229.30 415.29,229.33 415.67,229.36 416.05,229.40 416.43,229.43 416.80,229.46 417.18,229.49 417.56,229.52 417.94,229.55 418.32,229.57 418.70,229.60 419.08,229.62 419.46,229.65 419.84,229.67 420.22,229.70 420.60,229.72 420.98,229.74 421.36,229.76 421.74,229.79 422.12,229.81 422.50,229.83 422.88,229.84 423.26,229.86 423.64,229.88 424.02,229.90 424.39,229.92 424.77,229.93 425.15,229.95 425.53,229.96 425.91,229.98 426.29,229.99 426.67,230.01 427.05,230.02 427.43,230.04 427.81,230.05 428.19,230.06 428.57,230.08 428.95,230.09 429.33,230.10 429.71,230.11 430.09,230.12 430.47,230.13 430.85,230.14 431.23,230.15 431.61,230.16 431.98,230.17 432.36,230.18 432.74,230.19 433.12,230.20 433.50,230.21 433.88,230.22 434.26,230.22 434.64,230.23 435.02,230.24 435.40,230.25 435.40,230.50" fill="url(#g23)"/>
<polygon points="332.80,256.40 332.80,255.89 333.27,255.86 333.73,255.84 334.20,255.81 334.66,255.79 335.13,255.76 335.59,255.73 336.06,255.70 336.52,255.67 336.99,255.64 337.45,255.60 337.92,255.56 338.38,255.53 338.85,255.49 339.31,255.45 339.78,255.40 340.24,255.36 340.71,255.31 341.17,255.26 341.64,255.21 342.11,255.16 342.57,255.10 343.04,255.04 343.50,254.98 343.97,254.92 344.43,254.85 344.90,254.78 345.36,254.71 345.83,254.63 346.29,254.55 346.76,254.47 347.22,254.38 347.69,254.29 348.15,254.20 348.62,254.10 349.08,253.99 349.55,253.88 350.02,253.77 350.48,253.65 350.95,253.53 351.41,253.40 351.88,253.26 352.34,253.12 352.81,252.97 353.27,252.82 353.74,252.66 354.20,252.49 354.67,252.31 355.13,252.13 355.60,251.94 356.06,251.73 356.53,251.52 356.99,251.31 357.46,251.09 357.92,250.86 358.39,250.64 358.86,250.41 359.32,250.19 359.79,249.96 360.25,249.74 360.72,249.52 361.18,249.30 361.65,249.08 362.11,248.87 362.58,248.66 363.04,248.45 363.51,248.25 363.97,248.06 364.44,247.87 364.90,247.69 365.37,247.52 365.83,247.36 366.30,247.21 366.76,247.07 367.23,246.94 367.70,246.82 368.16,246.71 368.63,246.61 369.09,246.53 369.56,246.46 370.02,246.40 370.49,246.35 370.95,246.32 371.42,246.30 371.88,246.30 372.35,246.31 372.81,246.32 373.28,246.34 373.74,246.36 374.21,246.40 374.67,246.44 375.14,246.49 375.61,246.54 376.07,246.61 376.54,246.68 377.00,246.75 377.47,246.83 377.93,246.92 378.40,247.02 378.86,247.12 379.33,247.22 379.79,247.33 380.26,247.45 380.72,247.57 381.19,247.70 381.65,247.83 382.12,247.96 382.58,248.10 383.05,248.24 383.51,248.39 383.98,248.54 384.45,248.69 384.91,248.84 385.38,249.00 385.84,249.16 386.31,249.32 386.77,249.48 387.24,249.65 387.70,249.81 388.17,249.97 388.63,250.12 389.10,250.27 389.56,250.42 390.03,250.56 390.49,250.70 390.96,250.84 391.42,250.97 391.89,251.10 392.35,251.23 392.82,251.36 393.29,251.48 393.75,251.60 394.22,251.71 394.68,251.82 395.15,251.93 395.61,252.04 396.08,252.15 396.54,252.25 397.01,252.35 397.47,252.44 397.94,252.54 398.40,252.63 398.87,252.72 399.33,252.81 399.80,252.90 400.26,252.98 400.73,253.06 401.19,253.14 401.66,253.22 402.13,253.30 402.59,253.37 403.06,253.45 403.52,253.52 403.99,253.59 404.45,253.65 404.92,253.72 405.38,253.78 405.85,253.85 406.31,253.91 406.78,253.97 407.24,254.03 407.71,254.08 408.17,254.14 408.64,254.19 409.10,254.25 409.57,254.30 410.04,254.35 410.50,254.40 410.97,254.45 411.43,254.49 411.90,254.54 412.36,254.58 412.83,254.63 413.29,254.67 413.76,254.71 414.22,254.75 414.69,254.79 415.15,254.83 415.62,254.87 416.08,254.91 416.55,254.94 417.01,254.98 417.48,255.01 417.94,255.04 418.41,255.08 418.88,255.11 419.34,255.14 419.81,255.17 420.27,255.20 420.74,255.23 421.20,255.26 421.67,255.28 422.13,255.31 422.60,255.34 423.06,255.36 423.53,255.39 423.99,255.41 424.46,255.44 424.92,255.46 425.39,255.48 425.85,255.50 426.32,255.53 426.78,255.55 427.25,255.57 427.72,255.59 428.18,255.61 428.65,255.63 429.11,255.64 429.58,255.66 430.04,255.68 430.51,255.70 430.97,255.71 431.44,255.73 431.90,255.75 432.37,255.76 432.83,255.78 433.30,255.79 433.76,255.81 434.23,255.82 434.69,255.84 435.16,255.85 435.63,255.86 436.09,255.88 436.56,255.89 437.02,255.90 437.49,255.91 437.95,255.92 438.42,255.94 438.88,255.95 439.35,255.96 439.81,255.97 440.28,255.98 440.74,255.99 441.21,256.00 441.67,256.01 442.14,256.02 442.60,256.03 443.07,256.04 443.53,256.04 444.00,256.05 444.00,256.40" fill="url(#g24)"/>
<polygon points="343.50,282.40 343.50,282.11 343.79,282.09 344.08,282.07 344.37,282.05 344.66,282.03 344.95,282.01 345.24,281.98 345.53,281.96 345.82,281.93 346.11,281.90 346.40,281.87 346.69,281.83 346.98,281.80 347.27,281.76 347.57,281.72 347.86,281.68 348.15,281.63 348.44,281.58 348.73,281.53 349.02,281.47 349.31,281.42 349.60,281.35 349.89,281.29 350.18,281.22 350.47,281.14 350.76,281.06 351.05,280.98 351.34,280.89 351.63,280.79 351.92,280.69 352.21,280.59 352.50,280.47 352.79,280.35 353.08,280.22 353.37,280.08 353.66,279.94 353.95,279.78 354.24,279.61 354.53,279.44 354.82,279.25 355.12,279.05 355.41,278.84 355.70,278.62 355.99,278.38 356.28,278.12 356.57,277.85 356.86,277.57 357.15,277.26 357.44,276.94 357.73,276.59 358.02,276.22 358.31,275.83 358.60,275.42 358.89,274.98 359.18,274.51 359.47,274.01 359.76,273.48 360.05,272.92 360.34,272.32 360.63,271.71 360.92,271.08 361.21,270.45 361.50,269.82 361.79,269.19 362.08,268.57 362.37,267.95 362.66,267.34 362.96,266.75 363.25,266.18 363.54,265.63 363.83,265.11 364.12,264.62 364.41,264.16 364.70,263.74 364.99,263.36 365.28,263.02 365.57,262.73 365.86,262.48 366.15,262.28 366.44,262.14 366.73,262.04 367.02,262.00 367.31,262.01 367.60,262.06 367.89,262.15 368.18,262.28 368.47,262.44 368.76,262.65 369.05,262.89 369.34,263.16 369.63,263.47 369.92,263.81 370.21,264.18 370.51,264.57 370.80,265.00 371.09,265.44 371.38,265.91 371.67,266.39 371.96,266.90 372.25,267.41 372.54,267.94 372.83,268.47 373.12,269.01 373.41,269.53 373.70,270.04 373.99,270.52 374.28,270.98 374.57,271.43 374.86,271.86 375.15,272.27 375.44,272.67 375.73,273.05 376.02,273.41 376.31,273.76 376.60,274.10 376.89,274.43 377.18,274.74 377.47,275.04 377.76,275.32 378.05,275.60 378.35,275.87 378.64,276.12 378.93,276.37 379.22,276.60 379.51,276.83 379.80,277.05 380.09,277.26 380.38,277.46 380.67,277.65 380.96,277.84 381.25,278.01 381.54,278.19 381.83,278.35 382.12,278.51 382.41,278.66 382.70,278.81 382.99,278.95 383.28,279.08 383.57,279.21 383.86,279.34 384.15,279.46 384.44,279.57 384.73,279.68 385.02,279.79 385.31,279.89 385.60,279.99 385.89,280.08 386.19,280.17 386.48,280.26 386.77,280.34 387.06,280.42 387.35,280.50 387.64,280.58 387.93,280.65 388.22,280.72 388.51,280.78 388.80,280.84 389.09,280.91 389.38,280.96 389.67,281.02 389.96,281.07 390.25,281.13 390.54,281.18 390.83,281.22 391.12,281.27 391.41,281.31 391.70,281.36 391.99,281.40 392.28,281.44 392.57,281.47 392.86,281.51 393.15,281.54 393.44,281.58 393.74,281.61 394.03,281.64 394.32,281.67 394.61,281.70 394.90,281.73 395.19,281.75 395.48,281.78 395.77,281.80 396.06,281.83 396.35,281.85 396.64,281.87 396.93,281.89 397.22,281.91 397.51,281.93 397.80,281.95 398.09,281.97 398.38,281.98 398.67,282.00 398.96,282.01 399.25,282.03 399.54,282.04 399.83,282.06 400.12,282.07 400.41,282.08 400.70,282.10 400.99,282.11 401.28,282.12 401.58,282.13 401.87,282.14 402.16,282.15 402.45,282.16 402.74,282.17 403.03,282.18 403.32,282.19 403.61,282.20 403.90,282.20 404.19,282.21 404.48,282.22 404.77,282.23 405.06,282.23 405.35,282.24 405.64,282.25 405.93,282.25 406.22,282.26 406.51,282.26 406.80,282.27 407.09,282.27 407.38,282.28 407.67,282.28 407.96,282.29 408.25,282.29 408.54,282.30 408.83,282.30 409.13,282.30 409.42,282.31 409.71,282.31 410.00,282.32 410.29,282.32 410.58,282.32 410.87,282.32 411.16,282.33 411.45,282.33 411.74,282.33 412.03,282.34 412.32,282.34 412.61,282.34 412.90,282.34 412.90,282.40" fill="url(#g25)"/>
<polygon points="345.50,308.10 345.50,307.79 345.74,307.78 345.98,307.76 346.21,307.74 346.45,307.72 346.69,307.70 346.93,307.67 347.17,307.65 347.40,307.62 347.64,307.60 347.88,307.57 348.12,307.54 348.36,307.51 348.59,307.47 348.83,307.44 349.07,307.40 349.31,307.36 349.55,307.32 349.79,307.27 350.02,307.23 350.26,307.18 350.50,307.12 350.74,307.07 350.98,307.01 351.21,306.95 351.45,306.88 351.69,306.81 351.93,306.74 352.17,306.67 352.40,306.58 352.64,306.50 352.88,306.41 353.12,306.31 353.36,306.21 353.59,306.10 353.83,305.99 354.07,305.87 354.31,305.74 354.55,305.61 354.78,305.47 355.02,305.32 355.26,305.16 355.50,304.99 355.74,304.82 355.98,304.63 356.21,304.44 356.45,304.23 356.69,304.01 356.93,303.78 357.17,303.53 357.40,303.27 357.64,303.00 357.88,302.71 358.12,302.40 358.36,302.08 358.59,301.74 358.83,301.38 359.07,301.00 359.31,300.60 359.55,300.17 359.78,299.72 360.02,299.25 360.26,298.74 360.50,298.21 360.74,297.65 360.97,297.06 361.21,296.46 361.45,295.85 361.69,295.23 361.93,294.61 362.17,294.00 362.40,293.38 362.64,292.77 362.88,292.17 363.12,291.58 363.36,291.00 363.59,290.44 363.83,289.91 364.07,289.39 364.31,288.90 364.55,288.44 364.78,288.01 365.02,287.62 365.26,287.26 365.50,286.94 365.74,286.66 365.97,286.42 366.21,286.22 366.45,286.07 366.69,285.97 366.93,285.91 367.16,285.90 367.40,285.93 367.64,285.99 367.88,286.09 368.12,286.23 368.36,286.40 368.59,286.60 368.83,286.84 369.07,287.10 369.31,287.40 369.55,287.73 369.78,288.08 370.02,288.46 370.26,288.87 370.50,289.29 370.74,289.74 370.97,290.20 371.21,290.69 371.45,291.18 371.69,291.69 371.93,292.21 372.16,292.74 372.40,293.27 372.64,293.80 372.88,294.31 373.12,294.80 373.35,295.28 373.59,295.74 373.83,296.18 374.07,296.60 374.31,297.01 374.55,297.41 374.78,297.79 375.02,298.16 375.26,298.51 375.50,298.85 375.74,299.18 375.97,299.50 376.21,299.81 376.45,300.10 376.69,300.39 376.93,300.66 377.16,300.93 377.40,301.18 377.64,301.43 377.88,301.67 378.12,301.90 378.35,302.12 378.59,302.33 378.83,302.54 379.07,302.74 379.31,302.93 379.54,303.11 379.78,303.29 380.02,303.46 380.26,303.63 380.50,303.79 380.74,303.94 380.97,304.09 381.21,304.23 381.45,304.37 381.69,304.50 381.93,304.63 382.16,304.75 382.40,304.87 382.64,304.99 382.88,305.10 383.12,305.21 383.35,305.31 383.59,305.41 383.83,305.51 384.07,305.60 384.31,305.69 384.54,305.77 384.78,305.86 385.02,305.94 385.26,306.01 385.50,306.09 385.73,306.16 385.97,306.23 386.21,306.30 386.45,306.36 386.69,306.42 386.93,306.48 387.16,306.54 387.40,306.60 387.64,306.65 387.88,306.70 388.12,306.75 388.35,306.80 388.59,306.85 388.83,306.89 389.07,306.93 389.31,306.97 389.54,307.01 389.78,307.05 390.02,307.09 390.26,307.13 390.50,307.16 390.73,307.19 390.97,307.23 391.21,307.26 391.45,307.29 391.69,307.32 391.92,307.35 392.16,307.37 392.40,307.40 392.64,307.42 392.88,307.45 393.12,307.47 393.35,307.49 393.59,307.51 393.83,307.54 394.07,307.56 394.31,307.58 394.54,307.59 394.78,307.61 395.02,307.63 395.26,307.65 395.50,307.66 395.73,307.68 395.97,307.69 396.21,307.71 396.45,307.72 396.69,307.73 396.92,307.75 397.16,307.76 397.40,307.77 397.64,307.78 397.88,307.80 398.11,307.81 398.35,307.82 398.59,307.83 398.83,307.84 399.07,307.85 399.31,307.86 399.54,307.86 399.78,307.87 400.02,307.88 400.26,307.89 400.50,307.90 400.73,307.90 400.97,307.91 401.21,307.92 401.45,307.92 401.69,307.93 401.92,307.94 402.16,307.94 402.40,307.95 402.40,308.10" fill="url(#g26)"/>
<polygon points="338.70,334.10 338.70,333.44 339.03,333.40 339.37,333.36 339.70,333.32 340.04,333.27 340.37,333.22 340.70,333.17 341.04,333.12 341.37,333.06 341.71,333.00 342.04,332.93 342.37,332.87 342.71,332.79 343.04,332.72 343.37,332.64 343.71,332.55 344.04,332.46 344.38,332.36 344.71,332.26 345.04,332.15 345.38,332.04 345.71,331.92 346.05,331.79 346.38,331.66 346.71,331.52 347.05,331.36 347.38,331.20 347.72,331.04 348.05,330.86 348.38,330.67 348.72,330.47 349.05,330.25 349.38,330.03 349.72,329.79 350.05,329.54 350.39,329.27 350.72,328.99 351.05,328.69 351.39,328.37 351.72,328.04 352.06,327.68 352.39,327.31 352.72,326.91 353.06,326.49 353.39,326.05 353.73,325.57 354.06,325.08 354.39,324.55 354.73,324.02 355.06,323.49 355.39,322.95 355.73,322.41 356.06,321.87 356.40,321.34 356.73,320.81 357.06,320.29 357.40,319.78 357.73,319.29 358.07,318.81 358.40,318.36 358.73,317.93 359.07,317.52 359.40,317.14 359.74,316.79 360.07,316.47 360.40,316.19 360.74,315.95 361.07,315.74 361.40,315.57 361.74,315.44 362.07,315.35 362.41,315.31 362.74,315.30 363.07,315.34 363.41,315.41 363.74,315.52 364.08,315.67 364.41,315.86 364.74,316.08 365.08,316.33 365.41,316.62 365.75,316.93 366.08,317.28 366.41,317.65 366.75,318.05 367.08,318.47 367.41,318.91 367.75,319.36 368.08,319.84 368.42,320.32 368.75,320.82 369.08,321.33 369.42,321.83 369.75,322.32 370.09,322.79 370.42,323.24 370.75,323.68 371.09,324.09 371.42,324.49 371.76,324.88 372.09,325.24 372.42,325.60 372.76,325.94 373.09,326.26 373.42,326.58 373.76,326.88 374.09,327.17 374.43,327.44 374.76,327.71 375.09,327.96 375.43,328.21 375.76,328.44 376.10,328.67 376.43,328.89 376.76,329.09 377.10,329.29 377.43,329.49 377.77,329.67 378.10,329.85 378.43,330.02 378.77,330.18 379.10,330.34 379.43,330.49 379.77,330.63 380.10,330.77 380.44,330.90 380.77,331.03 381.10,331.15 381.44,331.27 381.77,331.38 382.11,331.49 382.44,331.60 382.77,331.70 383.11,331.79 383.44,331.88 383.78,331.97 384.11,332.06 384.44,332.14 384.78,332.22 385.11,332.29 385.44,332.36 385.78,332.43 386.11,332.50 386.45,332.56 386.78,332.63 387.11,332.68 387.45,332.74 387.78,332.80 388.12,332.85 388.45,332.90 388.78,332.95 389.12,332.99 389.45,333.04 389.79,333.08 390.12,333.12 390.45,333.16 390.79,333.20 391.12,333.23 391.45,333.27 391.79,333.30 392.12,333.33 392.46,333.36 392.79,333.39 393.12,333.42 393.46,333.45 393.79,333.47 394.13,333.50 394.46,333.52 394.79,333.55 395.13,333.57 395.46,333.59 395.80,333.61 396.13,333.63 396.46,333.65 396.80,333.67 397.13,333.68 397.46,333.70 397.80,333.72 398.13,333.73 398.47,333.75 398.80,333.76 399.13,333.77 399.47,333.79 399.80,333.80 400.14,333.81 400.47,333.82 400.80,333.83 401.14,333.84 401.47,333.85 401.81,333.86 402.14,333.87 402.47,333.88 402.81,333.89 403.14,333.90 403.47,333.91 403.81,333.92 404.14,333.92 404.48,333.93 404.81,333.94 405.14,333.94 405.48,333.95 405.81,333.96 406.15,333.96 406.48,333.97 406.81,333.97 407.15,333.98 407.48,333.98 407.82,333.99 408.15,333.99 408.48,334.00 408.82,334.00 409.15,334.00 409.48,334.01 409.82,334.01 410.15,334.01 410.49,334.02 410.82,334.02 411.15,334.02 411.49,334.03 411.82,334.03 412.16,334.03 412.49,334.04 412.82,334.04 413.16,334.04 413.49,334.04 413.83,334.05 414.16,334.05 414.49,334.05 414.83,334.05 415.16,334.05 415.49,334.06 415.83,334.06 416.16,334.06 416.50,334.06 416.83,334.06 417.16,334.06 417.50,334.07 417.83,334.07 418.17,334.07 418.50,334.07 418.50,334.10" fill="url(#g27)"/>
<line x1="359.90" y1="230.80" x2="401.60" y2="230.80" stroke="#000" stroke-width="1.75"/>
<circle cx="376.80" cy="230.80" r="2.98" fill="#fff" stroke="#ff0000" stroke-width="1.85"/>
<line x1="350.40" y1="256.70" x2="413.80" y2="256.70" stroke="#000" stroke-width="1.75"/>
<circle cx="374.40" cy="256.70" r="2.98" fill="#fff" stroke="#ff0000" stroke-width="1.85"/>
<line x1="355.10" y1="282.70" x2="386.10" y2="282.70" stroke="#000" stroke-width="1.75"/>
<circle cx="368.40" cy="282.70" r="2.98" fill="#fff" stroke="#ff0000" stroke-width="1.85"/>
<line x1="355.90" y1="308.40" x2="383.20" y2="308.40" stroke="#000" stroke-width="1.75"/>
<circle cx="367.60" cy="308.40" r="2.98" fill="#fff" stroke="#ff0000" stroke-width="1.85"/>
<line x1="349.10" y1="334.40" x2="383.50" y2="334.40" stroke="#000" stroke-width="1.75"/>
<circle cx="363.10" cy="334.40" r="2.98" fill="#fff" stroke="#ff0000" stroke-width="1.85"/>
<line x1="328.7" y1="205" x2="328.7" y2="349.6" stroke="#bebebe" stroke-width="1.1"/>
<line x1="328.7" y1="349.6" x2="444.6" y2="349.6" stroke="#bebebe" stroke-width="1.1"/>
<line x1="325.09999999999997" y1="230.50" x2="328.7" y2="230.50" stroke="#bebebe" stroke-width="1.1"/>
<text x="321.80" y="235.10" font-size="13" text-anchor="end" fill="#4d4d4d" font-weight="normal" >P<tspan dx="-0.52">o</tspan>lar/mtn.</text>
<line x1="325.09999999999997" y1="256.40" x2="328.7" y2="256.40" stroke="#bebebe" stroke-width="1.1"/>
<text x="321.80" y="261.00" font-size="13" text-anchor="end" fill="#4d4d4d" font-weight="normal" >T<tspan dx="-1.56">r</tspan>opical</text>
<line x1="325.09999999999997" y1="282.40" x2="328.7" y2="282.40" stroke="#bebebe" stroke-width="1.1"/>
<text x="321.80" y="287.00" font-size="13" text-anchor="end" fill="#4d4d4d" font-weight="normal" >Dr<tspan dx="0.39">y</tspan></text>
<line x1="325.09999999999997" y1="308.10" x2="328.7" y2="308.10" stroke="#bebebe" stroke-width="1.1"/>
<text x="321.80" y="312.70" font-size="13" text-anchor="end" fill="#4d4d4d" font-weight="normal" >T<tspan dx="-1.56">e</tspan>mperate</text>
<line x1="325.09999999999997" y1="334.10" x2="328.7" y2="334.10" stroke="#bebebe" stroke-width="1.1"/>
<text x="321.80" y="338.70" font-size="13" text-anchor="end" fill="#4d4d4d" font-weight="normal" >Continental</text>
<line x1="333.80" y1="349.6" x2="333.80" y2="353.40000000000003" stroke="#bebebe" stroke-width="1.1"/>
<text x="333.80" y="366.20" font-size="12.5" text-anchor="middle" fill="#4d4d4d" font-weight="normal" >0</text>
<line x1="386.70" y1="349.6" x2="386.70" y2="353.40000000000003" stroke="#bebebe" stroke-width="1.1"/>
<text x="386.70" y="366.20" font-size="12.5" text-anchor="middle" fill="#4d4d4d" font-weight="normal" >1</text>
<line x1="439.60" y1="349.6" x2="439.60" y2="353.40000000000003" stroke="#bebebe" stroke-width="1.1"/>
<text x="439.60" y="366.20" font-size="12.5" text-anchor="middle" fill="#4d4d4d" font-weight="normal" >2</text>
<text x="386.70" y="389.50" font-size="15.6" text-anchor="middle" fill="#000">k</text>
<line x1="598.70" y1="341.9" x2="598.70" y2="205" stroke="#a8a8a8" stroke-width="1.1" stroke-dasharray="5.6 6.47" stroke-dashoffset="0"/>
<line x1="664.85" y1="341.9" x2="664.85" y2="205" stroke="#a8a8a8" stroke-width="1.1" stroke-dasharray="5.6 6.47" stroke-dashoffset="0"/>
<line x1="626.20" y1="205" x2="626.20" y2="341.9" stroke="#bebebe" stroke-width="1.3"/>
<polygon points="583.80,229.60 583.80,228.89 584.18,228.88 584.57,228.86 584.95,228.84 585.33,228.82 585.71,228.80 586.10,228.78 586.48,228.75 586.86,228.73 587.25,228.71 587.63,228.69 588.01,228.66 588.39,228.64 588.78,228.61 589.16,228.59 589.54,228.56 589.93,228.53 590.31,228.51 590.69,228.48 591.07,228.45 591.46,228.42 591.84,228.39 592.22,228.35 592.61,228.32 592.99,228.29 593.37,228.25 593.75,228.22 594.14,228.18 594.52,228.15 594.90,228.11 595.29,228.07 595.67,228.03 596.05,227.99 596.43,227.95 596.82,227.90 597.20,227.86 597.58,227.81 597.97,227.77 598.35,227.72 598.73,227.67 599.11,227.62 599.50,227.57 599.88,227.52 600.26,227.46 600.65,227.41 601.03,227.35 601.41,227.29 601.79,227.23 602.18,227.17 602.56,227.10 602.94,227.04 603.33,226.97 603.71,226.90 604.09,226.83 604.47,226.76 604.86,226.69 605.24,226.61 605.62,226.53 606.01,226.45 606.39,226.37 606.77,226.29 607.15,226.20 607.54,226.11 607.92,226.02 608.30,225.93 608.68,225.84 609.07,225.75 609.45,225.66 609.83,225.57 610.22,225.47 610.60,225.38 610.98,225.29 611.36,225.20 611.75,225.10 612.13,225.01 612.51,224.92 612.90,224.83 613.28,224.74 613.66,224.65 614.04,224.56 614.43,224.47 614.81,224.38 615.19,224.29 615.58,224.21 615.96,224.12 616.34,224.04 616.72,223.95 617.11,223.87 617.49,223.79 617.87,223.71 618.26,223.64 618.64,223.56 619.02,223.49 619.40,223.42 619.79,223.35 620.17,223.28 620.55,223.22 620.94,223.16 621.32,223.10 621.70,223.04 622.08,222.99 622.47,222.93 622.85,222.88 623.23,222.84 623.62,222.79 624.00,222.75 624.38,222.71 624.76,222.68 625.15,222.65 625.53,222.62 625.91,222.59 626.30,222.57 626.68,222.55 627.06,222.53 627.44,222.52 627.83,222.51 628.21,222.50 628.59,222.50 628.98,222.50 629.36,222.50 629.74,222.51 630.12,222.52 630.51,222.53 630.89,222.55 631.27,222.56 631.66,222.59 632.04,222.61 632.42,222.64 632.80,222.67 633.19,222.70 633.57,222.74 633.95,222.77 634.34,222.82 634.72,222.86 635.10,222.91 635.48,222.96 635.87,223.01 636.25,223.06 636.63,223.12 637.02,223.18 637.40,223.24 637.78,223.30 638.16,223.37 638.55,223.43 638.93,223.50 639.31,223.56 639.70,223.62 640.08,223.68 640.46,223.75 640.84,223.81 641.23,223.87 641.61,223.93 641.99,223.99 642.38,224.04 642.76,224.10 643.14,224.16 643.52,224.22 643.91,224.27 644.29,224.33 644.67,224.38 645.06,224.44 645.44,224.49 645.82,224.54 646.20,224.59 646.59,224.65 646.97,224.70 647.35,224.75 647.74,224.80 648.12,224.85 648.50,224.90 648.88,224.95 649.27,225.00 649.65,225.04 650.03,225.09 650.42,225.14 650.80,225.18 651.18,225.23 651.56,225.28 651.95,225.32 652.33,225.36 652.71,225.41 653.09,225.45 653.48,225.50 653.86,225.54 654.24,225.58 654.63,225.62 655.01,225.66 655.39,225.70 655.77,225.74 656.16,225.78 656.54,225.82 656.92,225.86 657.31,225.90 657.69,225.94 658.07,225.98 658.45,226.02 658.84,226.05 659.22,226.09 659.60,226.13 659.99,226.16 660.37,226.20 660.75,226.23 661.13,226.27 661.52,226.30 661.90,226.34 662.28,226.37 662.67,226.41 663.05,226.44 663.43,226.47 663.81,226.50 664.20,226.54 664.58,226.57 664.96,226.60 665.35,226.63 665.73,226.66 666.11,226.69 666.49,226.72 666.88,226.75 667.26,226.78 667.64,226.81 668.03,226.84 668.41,226.87 668.79,226.90 669.17,226.92 669.56,226.95 669.94,226.98 670.32,227.01 670.71,227.03 671.09,227.06 671.47,227.09 671.85,227.11 672.24,227.14 672.62,227.16 673.00,227.19 673.39,227.22 673.77,227.24 674.15,227.26 674.53,227.29 674.92,227.31 675.30,227.34 675.30,229.60" fill="url(#g28)"/>
<polygon points="590.30,253.75 590.30,253.64 590.67,253.63 591.04,253.63 591.41,253.62 591.78,253.61 592.15,253.61 592.52,253.60 592.89,253.59 593.26,253.58 593.63,253.57 593.99,253.56 594.36,253.55 594.73,253.54 595.10,253.53 595.47,253.51 595.84,253.50 596.21,253.49 596.58,253.47 596.95,253.46 597.32,253.44 597.69,253.42 598.06,253.40 598.43,253.38 598.80,253.36 599.17,253.34 599.54,253.32 599.91,253.30 600.28,253.27 600.64,253.24 601.01,253.22 601.38,253.19 601.75,253.15 602.12,253.12 602.49,253.09 602.86,253.05 603.23,253.01 603.60,252.97 603.97,252.92 604.34,252.88 604.71,252.83 605.08,252.78 605.45,252.72 605.82,252.67 606.19,252.61 606.56,252.54 606.93,252.47 607.29,252.40 607.66,252.33 608.03,252.25 608.40,252.16 608.77,252.08 609.14,251.98 609.51,251.88 609.88,251.78 610.25,251.67 610.62,251.55 610.99,251.43 611.36,251.30 611.73,251.16 612.10,251.02 612.47,250.87 612.84,250.71 613.21,250.54 613.58,250.36 613.95,250.17 614.31,249.97 614.68,249.75 615.05,249.53 615.42,249.30 615.79,249.05 616.16,248.78 616.53,248.51 616.90,248.21 617.27,247.91 617.64,247.60 618.01,247.29 618.38,246.98 618.75,246.66 619.12,246.35 619.49,246.04 619.86,245.73 620.23,245.43 620.60,245.14 620.96,244.85 621.33,244.57 621.70,244.30 622.07,244.05 622.44,243.80 622.81,243.58 623.18,243.36 623.55,243.17 623.92,242.99 624.29,242.84 624.66,242.70 625.03,242.59 625.40,242.49 625.77,242.42 626.14,242.38 626.51,242.35 626.88,242.35 627.25,242.37 627.62,242.40 627.98,242.44 628.35,242.50 628.72,242.57 629.09,242.66 629.46,242.76 629.83,242.87 630.20,243.00 630.57,243.14 630.94,243.29 631.31,243.45 631.68,243.62 632.05,243.80 632.42,243.99 632.79,244.20 633.16,244.40 633.53,244.62 633.90,244.84 634.27,245.07 634.63,245.30 635.00,245.54 635.37,245.78 635.74,246.03 636.11,246.27 636.48,246.51 636.85,246.74 637.22,246.97 637.59,247.18 637.96,247.39 638.33,247.60 638.70,247.79 639.07,247.98 639.44,248.17 639.81,248.35 640.18,248.52 640.55,248.69 640.92,248.85 641.28,249.00 641.65,249.16 642.02,249.30 642.39,249.44 642.76,249.58 643.13,249.72 643.50,249.84 643.87,249.97 644.24,250.09 644.61,250.21 644.98,250.32 645.35,250.43 645.72,250.54 646.09,250.64 646.46,250.74 646.83,250.83 647.20,250.93 647.57,251.02 647.94,251.10 648.30,251.19 648.67,251.27 649.04,251.35 649.41,251.43 649.78,251.50 650.15,251.57 650.52,251.64 650.89,251.71 651.26,251.77 651.63,251.84 652.00,251.90 652.37,251.96 652.74,252.01 653.11,252.07 653.48,252.12 653.85,252.18 654.22,252.23 654.59,252.27 654.95,252.32 655.32,252.37 655.69,252.41 656.06,252.45 656.43,252.50 656.80,252.54 657.17,252.57 657.54,252.61 657.91,252.65 658.28,252.68 658.65,252.72 659.02,252.75 659.39,252.78 659.76,252.81 660.13,252.84 660.50,252.87 660.87,252.90 661.24,252.93 661.61,252.95 661.97,252.98 662.34,253.00 662.71,253.03 663.08,253.05 663.45,253.07 663.82,253.09 664.19,253.12 664.56,253.14 664.93,253.16 665.30,253.17 665.67,253.19 666.04,253.21 666.41,253.23 666.78,253.24 667.15,253.26 667.52,253.28 667.89,253.29 668.26,253.31 668.62,253.32 668.99,253.33 669.36,253.35 669.73,253.36 670.10,253.37 670.47,253.38 670.84,253.40 671.21,253.41 671.58,253.42 671.95,253.43 672.32,253.44 672.69,253.45 673.06,253.46 673.43,253.47 673.80,253.48 674.17,253.49 674.54,253.49 674.91,253.50 675.27,253.51 675.64,253.52 676.01,253.53 676.38,253.53 676.75,253.54 677.12,253.55 677.49,253.55 677.86,253.56 678.23,253.57 678.60,253.57 678.60,253.75" fill="url(#g29)"/>
<polygon points="592.70,278.40 592.70,278.38 593.02,278.38 593.34,278.38 593.66,278.37 593.98,278.37 594.30,278.36 594.62,278.36 594.93,278.35 595.25,278.35 595.57,278.34 595.89,278.33 596.21,278.32 596.53,278.31 596.85,278.30 597.17,278.29 597.49,278.28 597.81,278.26 598.13,278.24 598.45,278.22 598.77,278.20 599.08,278.17 599.40,278.14 599.72,278.10 600.04,278.07 600.36,278.02 600.68,277.97 601.00,277.91 601.32,277.85 601.64,277.78 601.96,277.69 602.28,277.60 602.60,277.50 602.92,277.38 603.24,277.24 603.55,277.09 603.87,276.91 604.19,276.72 604.51,276.49 604.83,276.25 605.15,275.98 605.47,275.69 605.79,275.39 606.11,275.06 606.43,274.71 606.75,274.35 607.07,273.97 607.39,273.58 607.70,273.17 608.02,272.75 608.34,272.32 608.66,271.89 608.98,271.44 609.30,271.00 609.62,270.55 609.94,270.11 610.26,269.66 610.58,269.23 610.90,268.80 611.22,268.38 611.54,267.98 611.85,267.58 612.17,267.21 612.49,266.85 612.81,266.51 613.13,266.18 613.45,265.88 613.77,265.60 614.09,265.34 614.41,265.09 614.73,264.87 615.05,264.68 615.37,264.50 615.69,264.34 616.01,264.20 616.32,264.08 616.64,263.97 616.96,263.88 617.28,263.81 617.60,263.75 617.92,263.70 618.24,263.67 618.56,263.64 618.88,263.62 619.20,263.61 619.52,263.60 619.84,263.60 620.16,263.60 620.47,263.60 620.79,263.60 621.11,263.60 621.43,263.61 621.75,263.62 622.07,263.64 622.39,263.66 622.71,263.69 623.03,263.74 623.35,263.79 623.67,263.86 623.99,263.93 624.31,264.03 624.62,264.14 624.94,264.26 625.26,264.40 625.58,264.56 625.90,264.74 626.22,264.94 626.54,265.15 626.86,265.39 627.18,265.64 627.50,265.91 627.82,266.20 628.14,266.51 628.46,266.84 628.77,267.19 629.09,267.54 629.41,267.92 629.73,268.30 630.05,268.70 630.37,269.11 630.69,269.52 631.01,269.94 631.33,270.37 631.65,270.80 631.97,271.22 632.29,271.65 632.61,272.07 632.93,272.48 633.24,272.86 633.56,273.22 633.88,273.55 634.20,273.87 634.52,274.16 634.84,274.44 635.16,274.69 635.48,274.93 635.80,275.16 636.12,275.37 636.44,275.56 636.76,275.75 637.08,275.92 637.39,276.08 637.71,276.23 638.03,276.37 638.35,276.50 638.67,276.62 638.99,276.74 639.31,276.85 639.63,276.95 639.95,277.04 640.27,277.13 640.59,277.21 640.91,277.29 641.23,277.36 641.54,277.43 641.86,277.49 642.18,277.55 642.50,277.60 642.82,277.65 643.14,277.70 643.46,277.75 643.78,277.79 644.10,277.83 644.42,277.87 644.74,277.90 645.06,277.93 645.38,277.96 645.69,277.99 646.01,278.02 646.33,278.04 646.65,278.07 646.97,278.09 647.29,278.11 647.61,278.13 647.93,278.14 648.25,278.16 648.57,278.18 648.89,278.19 649.21,278.20 649.53,278.22 649.85,278.23 650.16,278.24 650.48,278.25 650.80,278.26 651.12,278.27 651.44,278.28 651.76,278.29 652.08,278.29 652.40,278.30 652.72,278.31 653.04,278.31 653.36,278.32 653.68,278.32 654.00,278.33 654.31,278.33 654.63,278.34 654.95,278.34 655.27,278.35 655.59,278.35 655.91,278.35 656.23,278.36 656.55,278.36 656.87,278.36 657.19,278.36 657.51,278.37 657.83,278.37 658.15,278.37 658.46,278.37 658.78,278.37 659.10,278.38 659.42,278.38 659.74,278.38 660.06,278.38 660.38,278.38 660.70,278.38 661.02,278.38 661.34,278.38 661.66,278.39 661.98,278.39 662.30,278.39 662.62,278.39 662.93,278.39 663.25,278.39 663.57,278.39 663.89,278.39 664.21,278.39 664.53,278.39 664.85,278.39 665.17,278.39 665.49,278.39 665.81,278.39 666.13,278.39 666.45,278.39 666.77,278.40 667.08,278.40 667.40,278.40 667.72,278.40 668.04,278.40 668.36,278.40 668.68,278.40 669.00,278.40 669.00,278.40" fill="url(#g30)"/>
<polygon points="596.70,302.55 596.70,302.39 596.94,302.38 597.17,302.37 597.41,302.36 597.64,302.35 597.88,302.33 598.11,302.32 598.35,302.30 598.58,302.29 598.82,302.27 599.05,302.25 599.29,302.23 599.52,302.21 599.76,302.19 599.99,302.17 600.23,302.14 600.46,302.12 600.70,302.09 600.93,302.06 601.17,302.03 601.40,301.99 601.64,301.96 601.87,301.92 602.11,301.88 602.34,301.84 602.58,301.79 602.81,301.74 603.05,301.69 603.28,301.63 603.52,301.57 603.75,301.51 603.99,301.44 604.22,301.37 604.46,301.29 604.69,301.21 604.93,301.13 605.17,301.03 605.40,300.94 605.64,300.83 605.87,300.72 606.11,300.60 606.34,300.48 606.58,300.34 606.81,300.20 607.05,300.05 607.28,299.89 607.52,299.71 607.75,299.53 607.99,299.33 608.22,299.13 608.46,298.91 608.69,298.67 608.93,298.42 609.16,298.15 609.40,297.87 609.63,297.56 609.87,297.24 610.10,296.90 610.34,296.53 610.57,296.14 610.81,295.73 611.04,295.29 611.28,294.82 611.51,294.32 611.75,293.78 611.98,293.22 612.22,292.61 612.45,291.99 612.69,291.35 612.93,290.71 613.16,290.07 613.40,289.43 613.63,288.79 613.87,288.16 614.10,287.54 614.34,286.94 614.57,286.36 614.81,285.81 615.04,285.28 615.28,284.78 615.51,284.32 615.75,283.90 615.98,283.52 616.22,283.19 616.45,282.90 616.69,282.66 616.92,282.48 617.16,282.35 617.39,282.27 617.63,282.25 617.86,282.28 618.10,282.34 618.33,282.45 618.57,282.59 618.80,282.78 619.04,283.00 619.27,283.26 619.51,283.55 619.74,283.88 619.98,284.24 620.21,284.62 620.45,285.04 620.68,285.47 620.92,285.94 621.16,286.42 621.39,286.92 621.63,287.43 621.86,287.95 622.10,288.49 622.33,289.03 622.57,289.57 622.80,290.08 623.04,290.58 623.27,291.05 623.51,291.50 623.74,291.94 623.98,292.36 624.21,292.76 624.45,293.15 624.68,293.52 624.92,293.88 625.15,294.22 625.39,294.55 625.62,294.87 625.86,295.17 626.09,295.46 626.33,295.74 626.56,296.01 626.80,296.27 627.03,296.52 627.27,296.76 627.50,296.99 627.74,297.21 627.97,297.42 628.21,297.62 628.44,297.82 628.68,298.00 628.92,298.18 629.15,298.36 629.39,298.52 629.62,298.68 629.86,298.83 630.09,298.98 630.33,299.12 630.56,299.26 630.80,299.39 631.03,299.51 631.27,299.63 631.50,299.75 631.74,299.86 631.97,299.97 632.21,300.07 632.44,300.17 632.68,300.26 632.91,300.35 633.15,300.44 633.38,300.52 633.62,300.60 633.85,300.68 634.09,300.75 634.32,300.82 634.56,300.89 634.79,300.96 635.03,301.02 635.26,301.08 635.50,301.14 635.73,301.19 635.97,301.25 636.20,301.30 636.44,301.35 636.67,301.40 636.91,301.44 637.15,301.49 637.38,301.53 637.62,301.57 637.85,301.61 638.09,301.64 638.32,301.68 638.56,301.71 638.79,301.75 639.03,301.78 639.26,301.81 639.50,301.84 639.73,301.87 639.97,301.89 640.20,301.92 640.44,301.95 640.67,301.97 640.91,301.99 641.14,302.01 641.38,302.04 641.61,302.06 641.85,302.08 642.08,302.09 642.32,302.11 642.55,302.13 642.79,302.15 643.02,302.16 643.26,302.18 643.49,302.19 643.73,302.21 643.96,302.22 644.20,302.23 644.43,302.25 644.67,302.26 644.91,302.27 645.14,302.28 645.38,302.29 645.61,302.30 645.85,302.31 646.08,302.32 646.32,302.33 646.55,302.34 646.79,302.35 647.02,302.35 647.26,302.36 647.49,302.37 647.73,302.38 647.96,302.38 648.20,302.39 648.43,302.40 648.67,302.40 648.90,302.41 649.14,302.41 649.37,302.42 649.61,302.42 649.84,302.43 650.08,302.43 650.31,302.44 650.55,302.44 650.78,302.45 651.02,302.45 651.25,302.46 651.49,302.46 651.72,302.46 651.96,302.47 652.19,302.47 652.43,302.47 652.66,302.48 652.90,302.48 652.90,302.55" fill="url(#g31)"/>
<polygon points="589.50,327.10 589.50,326.91 589.72,326.90 589.94,326.89 590.15,326.88 590.37,326.87 590.59,326.85 590.81,326.84 591.03,326.82 591.24,326.81 591.46,326.79 591.68,326.78 591.90,326.76 592.12,326.74 592.33,326.72 592.55,326.70 592.77,326.67 592.99,326.65 593.21,326.62 593.42,326.60 593.64,326.57 593.86,326.54 594.08,326.51 594.30,326.47 594.51,326.44 594.73,326.40 594.95,326.36 595.17,326.32 595.39,326.27 595.60,326.23 595.82,326.18 596.04,326.13 596.26,326.07 596.48,326.01 596.69,325.95 596.91,325.89 597.13,325.82 597.35,325.74 597.57,325.67 597.78,325.59 598.00,325.50 598.22,325.41 598.44,325.32 598.66,325.21 598.87,325.11 599.09,325.00 599.31,324.88 599.53,324.75 599.75,324.62 599.96,324.48 600.18,324.33 600.40,324.17 600.62,324.01 600.84,323.83 601.05,323.65 601.27,323.45 601.49,323.25 601.71,323.03 601.93,322.80 602.14,322.55 602.36,322.30 602.58,322.03 602.80,321.74 603.02,321.44 603.23,321.11 603.45,320.78 603.67,320.42 603.89,320.04 604.11,319.64 604.32,319.22 604.54,318.77 604.76,318.30 604.98,317.81 605.20,317.28 605.41,316.73 605.63,316.15 605.85,315.57 606.07,314.99 606.29,314.40 606.50,313.81 606.72,313.22 606.94,312.64 607.16,312.06 607.38,311.50 607.59,310.95 607.81,310.41 608.03,309.89 608.25,309.39 608.47,308.92 608.68,308.47 608.90,308.05 609.12,307.66 609.34,307.31 609.56,306.99 609.77,306.71 609.99,306.47 610.21,306.27 610.43,306.11 610.65,306.00 610.86,305.93 611.08,305.90 611.30,305.91 611.52,305.96 611.74,306.05 611.95,306.17 612.17,306.32 612.39,306.51 612.61,306.73 612.83,306.98 613.04,307.26 613.26,307.57 613.48,307.91 613.70,308.28 613.92,308.66 614.13,309.07 614.35,309.50 614.57,309.95 614.79,310.42 615.01,310.90 615.22,311.39 615.44,311.89 615.66,312.40 615.88,312.92 616.09,313.43 616.31,313.93 616.53,314.40 616.75,314.86 616.97,315.30 617.18,315.73 617.40,316.14 617.62,316.54 617.84,316.92 618.06,317.29 618.27,317.64 618.49,317.98 618.71,318.31 618.93,318.63 619.15,318.94 619.36,319.23 619.58,319.52 619.80,319.79 620.02,320.06 620.24,320.31 620.45,320.56 620.67,320.79 620.89,321.02 621.11,321.24 621.33,321.45 621.54,321.66 621.76,321.85 621.98,322.04 622.20,322.23 622.42,322.40 622.63,322.57 622.85,322.74 623.07,322.89 623.29,323.05 623.51,323.19 623.72,323.33 623.94,323.47 624.16,323.60 624.38,323.73 624.60,323.85 624.81,323.97 625.03,324.08 625.25,324.19 625.47,324.29 625.69,324.40 625.90,324.49 626.12,324.59 626.34,324.68 626.56,324.77 626.78,324.85 626.99,324.93 627.21,325.01 627.43,325.09 627.65,325.16 627.87,325.23 628.08,325.30 628.30,325.36 628.52,325.43 628.74,325.49 628.96,325.54 629.17,325.60 629.39,325.65 629.61,325.71 629.83,325.76 630.05,325.81 630.26,325.85 630.48,325.90 630.70,325.94 630.92,325.98 631.14,326.02 631.35,326.06 631.57,326.10 631.79,326.14 632.01,326.17 632.23,326.20 632.44,326.24 632.66,326.27 632.88,326.30 633.10,326.33 633.32,326.36 633.53,326.38 633.75,326.41 633.97,326.43 634.19,326.46 634.41,326.48 634.62,326.50 634.84,326.52 635.06,326.55 635.28,326.57 635.50,326.58 635.71,326.60 635.93,326.62 636.15,326.64 636.37,326.66 636.59,326.67 636.80,326.69 637.02,326.70 637.24,326.72 637.46,326.73 637.68,326.74 637.89,326.76 638.11,326.77 638.33,326.78 638.55,326.79 638.77,326.80 638.98,326.81 639.20,326.82 639.42,326.83 639.64,326.84 639.86,326.85 640.07,326.86 640.29,326.87 640.51,326.88 640.73,326.89 640.95,326.89 641.16,326.90 641.38,326.91 641.60,326.92 641.60,327.10" fill="url(#g32)"/>
<line x1="602.00" y1="229.90" x2="671.00" y2="229.90" stroke="#000" stroke-width="1.75"/>
<circle cx="633.10" cy="229.90" r="2.98" fill="#fff" stroke="#ff0000" stroke-width="1.85"/>
<line x1="607.90" y1="254.05" x2="656.60" y2="254.05" stroke="#000" stroke-width="1.75"/>
<circle cx="627.70" cy="254.05" r="2.98" fill="#fff" stroke="#ff0000" stroke-width="1.85"/>
<line x1="606.30" y1="278.70" x2="641.20" y2="278.70" stroke="#000" stroke-width="1.75"/>
<circle cx="621.30" cy="278.70" r="2.98" fill="#fff" stroke="#ff0000" stroke-width="1.85"/>
<line x1="607.10" y1="302.85" x2="632.50" y2="302.85" stroke="#000" stroke-width="1.75"/>
<circle cx="618.40" cy="302.85" r="2.98" fill="#fff" stroke="#ff0000" stroke-width="1.85"/>
<line x1="601.50" y1="327.40" x2="624.80" y2="327.40" stroke="#000" stroke-width="1.75"/>
<circle cx="611.60" cy="327.40" r="2.98" fill="#fff" stroke="#ff0000" stroke-width="1.85"/>
<line x1="570.4" y1="205" x2="570.4" y2="341.9" stroke="#bebebe" stroke-width="1.1"/>
<line x1="570.4" y1="341.9" x2="679.5" y2="341.9" stroke="#bebebe" stroke-width="1.1"/>
<line x1="566.8" y1="229.60" x2="570.4" y2="229.60" stroke="#bebebe" stroke-width="1.1"/>
<text x="564.00" y="234.20" font-size="13" text-anchor="end" fill="#4d4d4d" font-weight="normal" >T<tspan dx="-1.56">r</tspan>opical</text>
<line x1="566.8" y1="253.75" x2="570.4" y2="253.75" stroke="#bebebe" stroke-width="1.1"/>
<text x="564.00" y="258.35" font-size="13" text-anchor="end" fill="#4d4d4d" font-weight="normal" >P<tspan dx="-0.52">o</tspan>lar/mtn.</text>
<line x1="566.8" y1="278.40" x2="570.4" y2="278.40" stroke="#bebebe" stroke-width="1.1"/>
<text x="564.00" y="283.00" font-size="13" text-anchor="end" fill="#4d4d4d" font-weight="normal" >Continental</text>
<line x1="566.8" y1="302.55" x2="570.4" y2="302.55" stroke="#bebebe" stroke-width="1.1"/>
<text x="564.00" y="307.15" font-size="13" text-anchor="end" fill="#4d4d4d" font-weight="normal" >T<tspan dx="-1.56">e</tspan>mperate</text>
<line x1="566.8" y1="327.10" x2="570.4" y2="327.10" stroke="#bebebe" stroke-width="1.1"/>
<text x="564.00" y="331.70" font-size="13" text-anchor="end" fill="#4d4d4d" font-weight="normal" >Dr<tspan dx="0.39">y</tspan></text>
<line x1="575.10" y1="341.9" x2="575.10" y2="345.7" stroke="#bebebe" stroke-width="1.1"/>
<text x="575.10" y="358.50" font-size="12.5" text-anchor="middle" fill="#4d4d4d" font-weight="normal" >0</text>
<line x1="600.10" y1="341.9" x2="600.10" y2="345.7" stroke="#bebebe" stroke-width="1.1"/>
<text x="600.10" y="358.50" font-size="12.5" text-anchor="middle" fill="#4d4d4d" font-weight="normal" >1</text>
<line x1="625.10" y1="341.9" x2="625.10" y2="345.7" stroke="#bebebe" stroke-width="1.1"/>
<text x="625.10" y="358.50" font-size="12.5" text-anchor="middle" fill="#4d4d4d" font-weight="normal" >2</text>
<line x1="650.10" y1="341.9" x2="650.10" y2="345.7" stroke="#bebebe" stroke-width="1.1"/>
<text x="650.10" y="358.50" font-size="12.5" text-anchor="middle" fill="#4d4d4d" font-weight="normal" >3</text>
<line x1="675.10" y1="341.9" x2="675.10" y2="345.7" stroke="#bebebe" stroke-width="1.1"/>
<text x="675.10" y="358.50" font-size="12.5" text-anchor="middle" fill="#4d4d4d" font-weight="normal" >4</text>
<text x="625.00" y="386.60" font-size="15.6" text-anchor="middle" fill="#000">σ (km<tspan dy="-7.9" font-size="11.2">3</tspan><tspan dy="7.9" dx="0.3">)</tspan></text>
<text x="-0.60" y="14.50" font-size="20" text-anchor="start" fill="#000" font-weight="bold" >a</text>
<text x="237.60" y="14.50" font-size="20" text-anchor="start" fill="#000" font-weight="bold" >b</text>
<text x="475.50" y="14.50" font-size="20" text-anchor="start" fill="#000" font-weight="bold" >c</text>
<text x="0.00" y="218.50" font-size="20" text-anchor="start" fill="#000" font-weight="bold" >d</text>
<text x="237.20" y="218.50" font-size="20" text-anchor="start" fill="#000" font-weight="bold" >e</text>
<text x="473.50" y="218.50" font-size="20" text-anchor="start" fill="#000" font-weight="bold" >f</text>
</svg></div></body></html>
